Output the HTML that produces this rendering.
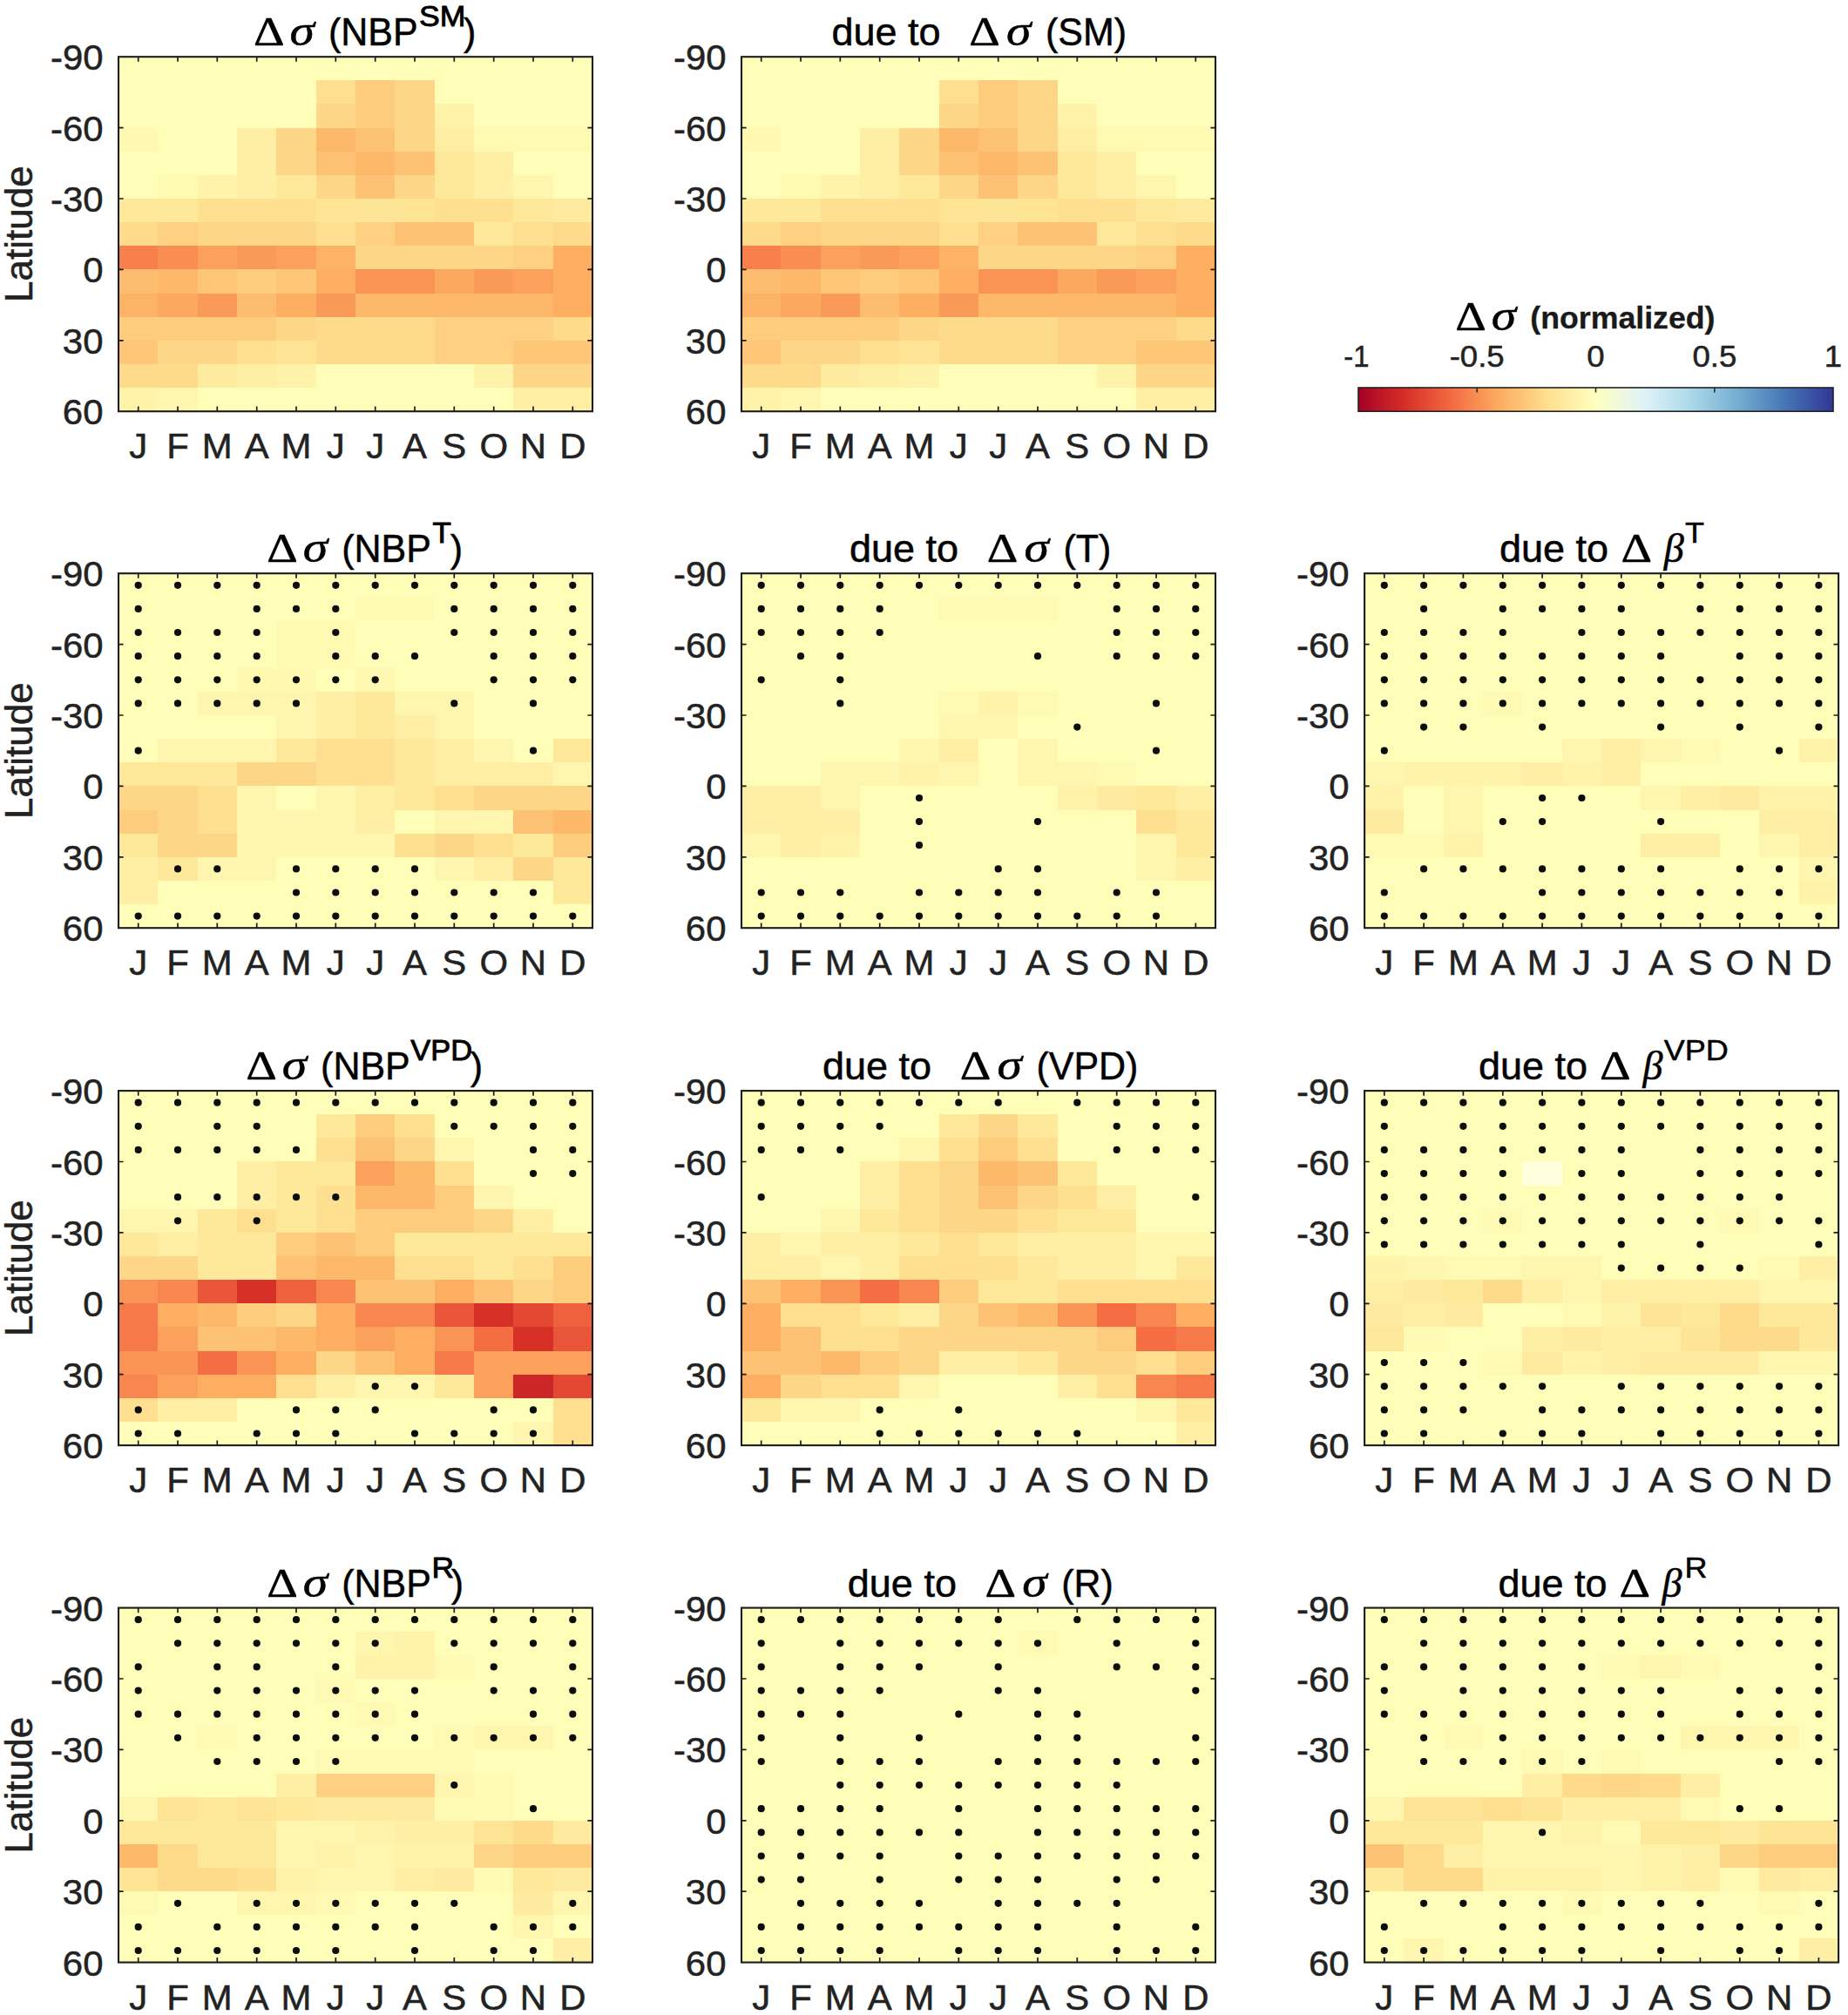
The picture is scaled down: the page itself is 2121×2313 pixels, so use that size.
<!DOCTYPE html>
<html lang="en"><head><meta charset="utf-8"><title>Figure</title>
<style>html,body{margin:0;padding:0;background:#fff}body{width:2121px;height:2313px;overflow:hidden}svg{display:block}</style>
</head><body>
<svg width="2121" height="2313" viewBox="0 0 2121 2313"><defs><linearGradient id="cb" x1="0" y1="0" x2="1" y2="0"><stop offset="0.0" stop-color="#a50026"/><stop offset="0.1" stop-color="#d73027"/><stop offset="0.2" stop-color="#f46d43"/><stop offset="0.3" stop-color="#fdae61"/><stop offset="0.4" stop-color="#fee090"/><stop offset="0.5" stop-color="#ffffbf"/><stop offset="0.6" stop-color="#e0f3f8"/><stop offset="0.7" stop-color="#abd9e9"/><stop offset="0.8" stop-color="#74add1"/><stop offset="0.9" stop-color="#4575b4"/><stop offset="1.0" stop-color="#313695"/></linearGradient></defs>
<g transform="translate(136.0 65.2)"><g shape-rendering="crispEdges"><rect x="0.00" y="0.00" width="544.60" height="27.73" fill="#fefeb8"/><rect x="0.00" y="27.13" width="227.27" height="27.73" fill="#fefeb8"/><rect x="226.67" y="27.13" width="45.93" height="27.73" fill="#fee090"/><rect x="272.00" y="27.13" width="45.93" height="27.73" fill="#fecc7d"/><rect x="317.33" y="27.13" width="45.93" height="27.73" fill="#fed687"/><rect x="362.67" y="27.13" width="181.93" height="27.73" fill="#fefeb8"/><rect x="0.00" y="54.27" width="227.27" height="27.73" fill="#fefeb8"/><rect x="226.67" y="54.27" width="45.93" height="27.73" fill="#fed687"/><rect x="272.00" y="54.27" width="45.93" height="27.73" fill="#fecc7d"/><rect x="317.33" y="54.27" width="45.93" height="27.73" fill="#fed687"/><rect x="362.67" y="54.27" width="45.93" height="27.73" fill="#fef3a9"/><rect x="408.00" y="54.27" width="136.60" height="27.73" fill="#fefeb8"/><rect x="0.00" y="81.40" width="45.93" height="27.73" fill="#fef8b0"/><rect x="45.33" y="81.40" width="91.27" height="27.73" fill="#fefeb8"/><rect x="136.00" y="81.40" width="45.93" height="27.73" fill="#feefa4"/><rect x="181.33" y="81.40" width="45.93" height="27.73" fill="#fed687"/><rect x="226.67" y="81.40" width="45.93" height="27.73" fill="#fdb86a"/><rect x="272.00" y="81.40" width="45.93" height="27.73" fill="#fdc274"/><rect x="317.33" y="81.40" width="45.93" height="27.73" fill="#fed687"/><rect x="362.67" y="81.40" width="45.93" height="27.73" fill="#feefa4"/><rect x="408.00" y="81.40" width="136.60" height="27.73" fill="#fefab2"/><rect x="0.00" y="108.53" width="136.60" height="27.73" fill="#fefeb8"/><rect x="136.00" y="108.53" width="45.93" height="27.73" fill="#feefa4"/><rect x="181.33" y="108.53" width="45.93" height="27.73" fill="#fed687"/><rect x="226.67" y="108.53" width="45.93" height="27.73" fill="#fdc274"/><rect x="272.00" y="108.53" width="45.93" height="27.73" fill="#fdb86a"/><rect x="317.33" y="108.53" width="45.93" height="27.73" fill="#fdc274"/><rect x="362.67" y="108.53" width="45.93" height="27.73" fill="#fee89a"/><rect x="408.00" y="108.53" width="45.93" height="27.73" fill="#feefa4"/><rect x="453.33" y="108.53" width="91.27" height="27.73" fill="#fefeb8"/><rect x="0.00" y="135.67" width="45.93" height="27.73" fill="#fefeb8"/><rect x="45.33" y="135.67" width="45.93" height="27.73" fill="#fefab2"/><rect x="90.67" y="135.67" width="45.93" height="27.73" fill="#fef3a9"/><rect x="136.00" y="135.67" width="45.93" height="27.73" fill="#feefa4"/><rect x="181.33" y="135.67" width="45.93" height="27.73" fill="#fee89a"/><rect x="226.67" y="135.67" width="45.93" height="27.73" fill="#fed687"/><rect x="272.00" y="135.67" width="45.93" height="27.73" fill="#fdc274"/><rect x="317.33" y="135.67" width="45.93" height="27.73" fill="#fed687"/><rect x="362.67" y="135.67" width="45.93" height="27.73" fill="#fee89a"/><rect x="408.00" y="135.67" width="45.93" height="27.73" fill="#feefa4"/><rect x="453.33" y="135.67" width="45.93" height="27.73" fill="#fef6ae"/><rect x="498.67" y="135.67" width="45.93" height="27.73" fill="#fefeb8"/><rect x="0.00" y="162.80" width="91.27" height="27.73" fill="#fee89a"/><rect x="90.67" y="162.80" width="136.60" height="27.73" fill="#fee090"/><rect x="226.67" y="162.80" width="136.60" height="27.73" fill="#fee495"/><rect x="362.67" y="162.80" width="91.27" height="27.73" fill="#fee090"/><rect x="453.33" y="162.80" width="45.93" height="27.73" fill="#fee89a"/><rect x="498.67" y="162.80" width="45.93" height="27.73" fill="#feeb9f"/><rect x="0.00" y="189.93" width="45.93" height="27.73" fill="#fedb8b"/><rect x="45.33" y="189.93" width="45.93" height="27.73" fill="#fed182"/><rect x="90.67" y="189.93" width="136.60" height="27.73" fill="#fed687"/><rect x="226.67" y="189.93" width="45.93" height="27.73" fill="#fee090"/><rect x="272.00" y="189.93" width="45.93" height="27.73" fill="#fed182"/><rect x="317.33" y="189.93" width="91.27" height="27.73" fill="#fdc274"/><rect x="408.00" y="189.93" width="45.93" height="27.73" fill="#fee89a"/><rect x="453.33" y="189.93" width="45.93" height="27.73" fill="#fee090"/><rect x="498.67" y="189.93" width="45.93" height="27.73" fill="#fedb8b"/><rect x="0.00" y="217.07" width="45.93" height="27.73" fill="#f7804c"/><rect x="45.33" y="217.07" width="45.93" height="27.73" fill="#f88e52"/><rect x="90.67" y="217.07" width="45.93" height="27.73" fill="#fba15b"/><rect x="136.00" y="217.07" width="45.93" height="27.73" fill="#fa9a58"/><rect x="181.33" y="217.07" width="45.93" height="27.73" fill="#fba15b"/><rect x="226.67" y="217.07" width="45.93" height="27.73" fill="#fdb366"/><rect x="272.00" y="217.07" width="181.93" height="27.73" fill="#fed687"/><rect x="453.33" y="217.07" width="45.93" height="27.73" fill="#fed182"/><rect x="498.67" y="217.07" width="45.93" height="27.73" fill="#fdae61"/><rect x="0.00" y="244.20" width="45.93" height="27.73" fill="#fdbd6f"/><rect x="45.33" y="244.20" width="45.93" height="27.73" fill="#fdb86a"/><rect x="90.67" y="244.20" width="45.93" height="27.73" fill="#fec778"/><rect x="136.00" y="244.20" width="45.93" height="27.73" fill="#fecc7d"/><rect x="181.33" y="244.20" width="45.93" height="27.73" fill="#fec778"/><rect x="226.67" y="244.20" width="45.93" height="27.73" fill="#fdae61"/><rect x="272.00" y="244.20" width="91.27" height="27.73" fill="#f99455"/><rect x="362.67" y="244.20" width="45.93" height="27.73" fill="#fca85e"/><rect x="408.00" y="244.20" width="45.93" height="27.73" fill="#fa9a58"/><rect x="453.33" y="244.20" width="45.93" height="27.73" fill="#fba15b"/><rect x="498.67" y="244.20" width="45.93" height="27.73" fill="#fdae61"/><rect x="0.00" y="271.33" width="45.93" height="27.73" fill="#fdb366"/><rect x="45.33" y="271.33" width="45.93" height="27.73" fill="#fca85e"/><rect x="90.67" y="271.33" width="45.93" height="27.73" fill="#fa9a58"/><rect x="136.00" y="271.33" width="45.93" height="27.73" fill="#fdbd6f"/><rect x="181.33" y="271.33" width="45.93" height="27.73" fill="#fdae61"/><rect x="226.67" y="271.33" width="45.93" height="27.73" fill="#fa9a58"/><rect x="272.00" y="271.33" width="227.27" height="27.73" fill="#fdb86a"/><rect x="498.67" y="271.33" width="45.93" height="27.73" fill="#fdae61"/><rect x="0.00" y="298.47" width="181.93" height="27.73" fill="#fecc7d"/><rect x="181.33" y="298.47" width="45.93" height="27.73" fill="#fed687"/><rect x="226.67" y="298.47" width="136.60" height="27.73" fill="#fedb8b"/><rect x="362.67" y="298.47" width="136.60" height="27.73" fill="#fed182"/><rect x="498.67" y="298.47" width="45.93" height="27.73" fill="#fedb8b"/><rect x="0.00" y="325.60" width="45.93" height="27.73" fill="#fec778"/><rect x="45.33" y="325.60" width="91.27" height="27.73" fill="#fed687"/><rect x="136.00" y="325.60" width="45.93" height="27.73" fill="#fee090"/><rect x="181.33" y="325.60" width="45.93" height="27.73" fill="#fee495"/><rect x="226.67" y="325.60" width="136.60" height="27.73" fill="#fedb8b"/><rect x="362.67" y="325.60" width="91.27" height="27.73" fill="#fed182"/><rect x="453.33" y="325.60" width="91.27" height="27.73" fill="#fec778"/><rect x="0.00" y="352.73" width="91.27" height="27.73" fill="#fedb8b"/><rect x="90.67" y="352.73" width="45.93" height="27.73" fill="#feeb9f"/><rect x="136.00" y="352.73" width="45.93" height="27.73" fill="#feefa4"/><rect x="181.33" y="352.73" width="45.93" height="27.73" fill="#fef3a9"/><rect x="226.67" y="352.73" width="181.93" height="27.73" fill="#fefeb8"/><rect x="408.00" y="352.73" width="45.93" height="27.73" fill="#fef3a9"/><rect x="453.33" y="352.73" width="91.27" height="27.73" fill="#fed687"/><rect x="0.00" y="379.87" width="45.93" height="27.73" fill="#fef3a9"/><rect x="45.33" y="379.87" width="45.93" height="27.73" fill="#fef6ae"/><rect x="90.67" y="379.87" width="363.27" height="27.73" fill="#fefeb8"/><rect x="453.33" y="379.87" width="91.27" height="27.73" fill="#feefa4"/></g><path d="M22.7 0v5.6M22.7 407.0v-5.6M68.0 0v5.6M68.0 407.0v-5.6M113.3 0v5.6M113.3 407.0v-5.6M158.7 0v5.6M158.7 407.0v-5.6M204.0 0v5.6M204.0 407.0v-5.6M249.3 0v5.6M249.3 407.0v-5.6M294.7 0v5.6M294.7 407.0v-5.6M340.0 0v5.6M340.0 407.0v-5.6M385.3 0v5.6M385.3 407.0v-5.6M430.7 0v5.6M430.7 407.0v-5.6M476.0 0v5.6M476.0 407.0v-5.6M521.3 0v5.6M521.3 407.0v-5.6M0 81.4h5.6M544.0 81.4h-5.6M0 162.8h5.6M544.0 162.8h-5.6M0 244.2h5.6M544.0 244.2h-5.6M0 325.6h5.6M544.0 325.6h-5.6" stroke="#1c1c1c" stroke-width="1.7" fill="none"/><rect x="0" y="0" width="544.0" height="407.0" fill="none" stroke="#1c1c1c" stroke-width="2.1"/></g>
<text transform="translate(118.5 80.2) scale(1.035 1)" font-family="Liberation Sans, Arial, Helvetica, sans-serif" font-size="40.5" text-anchor="end" fill="#222222" stroke="#222222" stroke-width="0.5">-90</text>
<text transform="translate(118.5 161.6) scale(1.035 1)" font-family="Liberation Sans, Arial, Helvetica, sans-serif" font-size="40.5" text-anchor="end" fill="#222222" stroke="#222222" stroke-width="0.5">-60</text>
<text transform="translate(118.5 243.0) scale(1.035 1)" font-family="Liberation Sans, Arial, Helvetica, sans-serif" font-size="40.5" text-anchor="end" fill="#222222" stroke="#222222" stroke-width="0.5">-30</text>
<text transform="translate(118.5 324.4) scale(1.035 1)" font-family="Liberation Sans, Arial, Helvetica, sans-serif" font-size="40.5" text-anchor="end" fill="#222222" stroke="#222222" stroke-width="0.5">0</text>
<text transform="translate(118.5 405.8) scale(1.035 1)" font-family="Liberation Sans, Arial, Helvetica, sans-serif" font-size="40.5" text-anchor="end" fill="#222222" stroke="#222222" stroke-width="0.5">30</text>
<text transform="translate(118.5 487.2) scale(1.035 1)" font-family="Liberation Sans, Arial, Helvetica, sans-serif" font-size="40.5" text-anchor="end" fill="#222222" stroke="#222222" stroke-width="0.5">60</text>
<text transform="translate(158.7 526.2) scale(1.035 1)" font-family="Liberation Sans, Arial, Helvetica, sans-serif" font-size="40.5" text-anchor="middle" fill="#222222" stroke="#222222" stroke-width="0.5">J</text>
<text transform="translate(204.0 526.2) scale(1.035 1)" font-family="Liberation Sans, Arial, Helvetica, sans-serif" font-size="40.5" text-anchor="middle" fill="#222222" stroke="#222222" stroke-width="0.5">F</text>
<text transform="translate(249.3 526.2) scale(1.035 1)" font-family="Liberation Sans, Arial, Helvetica, sans-serif" font-size="40.5" text-anchor="middle" fill="#222222" stroke="#222222" stroke-width="0.5">M</text>
<text transform="translate(294.7 526.2) scale(1.035 1)" font-family="Liberation Sans, Arial, Helvetica, sans-serif" font-size="40.5" text-anchor="middle" fill="#222222" stroke="#222222" stroke-width="0.5">A</text>
<text transform="translate(340.0 526.2) scale(1.035 1)" font-family="Liberation Sans, Arial, Helvetica, sans-serif" font-size="40.5" text-anchor="middle" fill="#222222" stroke="#222222" stroke-width="0.5">M</text>
<text transform="translate(385.3 526.2) scale(1.035 1)" font-family="Liberation Sans, Arial, Helvetica, sans-serif" font-size="40.5" text-anchor="middle" fill="#222222" stroke="#222222" stroke-width="0.5">J</text>
<text transform="translate(430.7 526.2) scale(1.035 1)" font-family="Liberation Sans, Arial, Helvetica, sans-serif" font-size="40.5" text-anchor="middle" fill="#222222" stroke="#222222" stroke-width="0.5">J</text>
<text transform="translate(476.0 526.2) scale(1.035 1)" font-family="Liberation Sans, Arial, Helvetica, sans-serif" font-size="40.5" text-anchor="middle" fill="#222222" stroke="#222222" stroke-width="0.5">A</text>
<text transform="translate(521.3 526.2) scale(1.035 1)" font-family="Liberation Sans, Arial, Helvetica, sans-serif" font-size="40.5" text-anchor="middle" fill="#222222" stroke="#222222" stroke-width="0.5">S</text>
<text transform="translate(566.7 526.2) scale(1.035 1)" font-family="Liberation Sans, Arial, Helvetica, sans-serif" font-size="40.5" text-anchor="middle" fill="#222222" stroke="#222222" stroke-width="0.5">O</text>
<text transform="translate(612.0 526.2) scale(1.035 1)" font-family="Liberation Sans, Arial, Helvetica, sans-serif" font-size="40.5" text-anchor="middle" fill="#222222" stroke="#222222" stroke-width="0.5">N</text>
<text transform="translate(657.3 526.2) scale(1.035 1)" font-family="Liberation Sans, Arial, Helvetica, sans-serif" font-size="40.5" text-anchor="middle" fill="#222222" stroke="#222222" stroke-width="0.5">D</text>
<text transform="translate(36.6 268.7) rotate(-90) scale(1.012 1)" font-family="Liberation Sans, Arial, Helvetica, sans-serif" font-size="43.5" text-anchor="middle" fill="#222222" stroke="#222222" stroke-width="0.5">Latitude</text>
<g transform="translate(851.0 65.2)"><g shape-rendering="crispEdges"><rect x="0.00" y="0.00" width="544.60" height="27.73" fill="#fefeb8"/><rect x="0.00" y="27.13" width="227.27" height="27.73" fill="#fefeb8"/><rect x="226.67" y="27.13" width="45.93" height="27.73" fill="#fee090"/><rect x="272.00" y="27.13" width="45.93" height="27.73" fill="#fecc7d"/><rect x="317.33" y="27.13" width="45.93" height="27.73" fill="#fed687"/><rect x="362.67" y="27.13" width="181.93" height="27.73" fill="#fefeb8"/><rect x="0.00" y="54.27" width="227.27" height="27.73" fill="#fefeb8"/><rect x="226.67" y="54.27" width="45.93" height="27.73" fill="#fed687"/><rect x="272.00" y="54.27" width="45.93" height="27.73" fill="#fecc7d"/><rect x="317.33" y="54.27" width="45.93" height="27.73" fill="#fed687"/><rect x="362.67" y="54.27" width="45.93" height="27.73" fill="#fef3a9"/><rect x="408.00" y="54.27" width="136.60" height="27.73" fill="#fefeb8"/><rect x="0.00" y="81.40" width="45.93" height="27.73" fill="#fef8b0"/><rect x="45.33" y="81.40" width="91.27" height="27.73" fill="#fefeb8"/><rect x="136.00" y="81.40" width="45.93" height="27.73" fill="#feefa4"/><rect x="181.33" y="81.40" width="45.93" height="27.73" fill="#fed687"/><rect x="226.67" y="81.40" width="45.93" height="27.73" fill="#fdb86a"/><rect x="272.00" y="81.40" width="45.93" height="27.73" fill="#fdc274"/><rect x="317.33" y="81.40" width="45.93" height="27.73" fill="#fed687"/><rect x="362.67" y="81.40" width="45.93" height="27.73" fill="#feefa4"/><rect x="408.00" y="81.40" width="136.60" height="27.73" fill="#fefab2"/><rect x="0.00" y="108.53" width="136.60" height="27.73" fill="#fefeb8"/><rect x="136.00" y="108.53" width="45.93" height="27.73" fill="#feefa4"/><rect x="181.33" y="108.53" width="45.93" height="27.73" fill="#fed687"/><rect x="226.67" y="108.53" width="45.93" height="27.73" fill="#fdc274"/><rect x="272.00" y="108.53" width="45.93" height="27.73" fill="#fdb86a"/><rect x="317.33" y="108.53" width="45.93" height="27.73" fill="#fdc274"/><rect x="362.67" y="108.53" width="45.93" height="27.73" fill="#fee89a"/><rect x="408.00" y="108.53" width="45.93" height="27.73" fill="#feefa4"/><rect x="453.33" y="108.53" width="91.27" height="27.73" fill="#fefeb8"/><rect x="0.00" y="135.67" width="45.93" height="27.73" fill="#fefeb8"/><rect x="45.33" y="135.67" width="45.93" height="27.73" fill="#fefab2"/><rect x="90.67" y="135.67" width="45.93" height="27.73" fill="#fef3a9"/><rect x="136.00" y="135.67" width="45.93" height="27.73" fill="#feefa4"/><rect x="181.33" y="135.67" width="45.93" height="27.73" fill="#fee89a"/><rect x="226.67" y="135.67" width="45.93" height="27.73" fill="#fed687"/><rect x="272.00" y="135.67" width="45.93" height="27.73" fill="#fdc274"/><rect x="317.33" y="135.67" width="45.93" height="27.73" fill="#fed687"/><rect x="362.67" y="135.67" width="45.93" height="27.73" fill="#fee89a"/><rect x="408.00" y="135.67" width="45.93" height="27.73" fill="#feefa4"/><rect x="453.33" y="135.67" width="45.93" height="27.73" fill="#fef6ae"/><rect x="498.67" y="135.67" width="45.93" height="27.73" fill="#fefeb8"/><rect x="0.00" y="162.80" width="91.27" height="27.73" fill="#fee89a"/><rect x="90.67" y="162.80" width="136.60" height="27.73" fill="#fee090"/><rect x="226.67" y="162.80" width="136.60" height="27.73" fill="#fee495"/><rect x="362.67" y="162.80" width="91.27" height="27.73" fill="#fee090"/><rect x="453.33" y="162.80" width="45.93" height="27.73" fill="#fee89a"/><rect x="498.67" y="162.80" width="45.93" height="27.73" fill="#feeb9f"/><rect x="0.00" y="189.93" width="45.93" height="27.73" fill="#fedb8b"/><rect x="45.33" y="189.93" width="45.93" height="27.73" fill="#fed182"/><rect x="90.67" y="189.93" width="136.60" height="27.73" fill="#fed687"/><rect x="226.67" y="189.93" width="45.93" height="27.73" fill="#fee090"/><rect x="272.00" y="189.93" width="45.93" height="27.73" fill="#fed182"/><rect x="317.33" y="189.93" width="91.27" height="27.73" fill="#fdc274"/><rect x="408.00" y="189.93" width="45.93" height="27.73" fill="#fee89a"/><rect x="453.33" y="189.93" width="45.93" height="27.73" fill="#fee090"/><rect x="498.67" y="189.93" width="45.93" height="27.73" fill="#fedb8b"/><rect x="0.00" y="217.07" width="45.93" height="27.73" fill="#f7804c"/><rect x="45.33" y="217.07" width="45.93" height="27.73" fill="#f88e52"/><rect x="90.67" y="217.07" width="45.93" height="27.73" fill="#fba15b"/><rect x="136.00" y="217.07" width="45.93" height="27.73" fill="#fa9a58"/><rect x="181.33" y="217.07" width="45.93" height="27.73" fill="#fba15b"/><rect x="226.67" y="217.07" width="45.93" height="27.73" fill="#fdb366"/><rect x="272.00" y="217.07" width="181.93" height="27.73" fill="#fed687"/><rect x="453.33" y="217.07" width="45.93" height="27.73" fill="#fed182"/><rect x="498.67" y="217.07" width="45.93" height="27.73" fill="#fdae61"/><rect x="0.00" y="244.20" width="45.93" height="27.73" fill="#fdbd6f"/><rect x="45.33" y="244.20" width="45.93" height="27.73" fill="#fdb86a"/><rect x="90.67" y="244.20" width="45.93" height="27.73" fill="#fec778"/><rect x="136.00" y="244.20" width="45.93" height="27.73" fill="#fecc7d"/><rect x="181.33" y="244.20" width="45.93" height="27.73" fill="#fec778"/><rect x="226.67" y="244.20" width="45.93" height="27.73" fill="#fdae61"/><rect x="272.00" y="244.20" width="91.27" height="27.73" fill="#f99455"/><rect x="362.67" y="244.20" width="45.93" height="27.73" fill="#fca85e"/><rect x="408.00" y="244.20" width="45.93" height="27.73" fill="#fa9a58"/><rect x="453.33" y="244.20" width="45.93" height="27.73" fill="#fba15b"/><rect x="498.67" y="244.20" width="45.93" height="27.73" fill="#fdae61"/><rect x="0.00" y="271.33" width="45.93" height="27.73" fill="#fdb366"/><rect x="45.33" y="271.33" width="45.93" height="27.73" fill="#fca85e"/><rect x="90.67" y="271.33" width="45.93" height="27.73" fill="#fa9a58"/><rect x="136.00" y="271.33" width="45.93" height="27.73" fill="#fdbd6f"/><rect x="181.33" y="271.33" width="45.93" height="27.73" fill="#fdae61"/><rect x="226.67" y="271.33" width="45.93" height="27.73" fill="#fa9a58"/><rect x="272.00" y="271.33" width="227.27" height="27.73" fill="#fdb86a"/><rect x="498.67" y="271.33" width="45.93" height="27.73" fill="#fdae61"/><rect x="0.00" y="298.47" width="181.93" height="27.73" fill="#fecc7d"/><rect x="181.33" y="298.47" width="45.93" height="27.73" fill="#fed687"/><rect x="226.67" y="298.47" width="136.60" height="27.73" fill="#fedb8b"/><rect x="362.67" y="298.47" width="136.60" height="27.73" fill="#fed182"/><rect x="498.67" y="298.47" width="45.93" height="27.73" fill="#fedb8b"/><rect x="0.00" y="325.60" width="45.93" height="27.73" fill="#fec778"/><rect x="45.33" y="325.60" width="91.27" height="27.73" fill="#fed687"/><rect x="136.00" y="325.60" width="45.93" height="27.73" fill="#fee090"/><rect x="181.33" y="325.60" width="45.93" height="27.73" fill="#fee495"/><rect x="226.67" y="325.60" width="136.60" height="27.73" fill="#fedb8b"/><rect x="362.67" y="325.60" width="91.27" height="27.73" fill="#fed182"/><rect x="453.33" y="325.60" width="91.27" height="27.73" fill="#fec778"/><rect x="0.00" y="352.73" width="91.27" height="27.73" fill="#fedb8b"/><rect x="90.67" y="352.73" width="45.93" height="27.73" fill="#feeb9f"/><rect x="136.00" y="352.73" width="45.93" height="27.73" fill="#feefa4"/><rect x="181.33" y="352.73" width="45.93" height="27.73" fill="#fef3a9"/><rect x="226.67" y="352.73" width="181.93" height="27.73" fill="#fefeb8"/><rect x="408.00" y="352.73" width="45.93" height="27.73" fill="#fef3a9"/><rect x="453.33" y="352.73" width="91.27" height="27.73" fill="#fed687"/><rect x="0.00" y="379.87" width="45.93" height="27.73" fill="#fef3a9"/><rect x="45.33" y="379.87" width="45.93" height="27.73" fill="#fef6ae"/><rect x="90.67" y="379.87" width="363.27" height="27.73" fill="#fefeb8"/><rect x="453.33" y="379.87" width="91.27" height="27.73" fill="#feefa4"/></g><path d="M22.7 0v5.6M22.7 407.0v-5.6M68.0 0v5.6M68.0 407.0v-5.6M113.3 0v5.6M113.3 407.0v-5.6M158.7 0v5.6M158.7 407.0v-5.6M204.0 0v5.6M204.0 407.0v-5.6M249.3 0v5.6M249.3 407.0v-5.6M294.7 0v5.6M294.7 407.0v-5.6M340.0 0v5.6M340.0 407.0v-5.6M385.3 0v5.6M385.3 407.0v-5.6M430.7 0v5.6M430.7 407.0v-5.6M476.0 0v5.6M476.0 407.0v-5.6M521.3 0v5.6M521.3 407.0v-5.6M0 81.4h5.6M544.0 81.4h-5.6M0 162.8h5.6M544.0 162.8h-5.6M0 244.2h5.6M544.0 244.2h-5.6M0 325.6h5.6M544.0 325.6h-5.6" stroke="#1c1c1c" stroke-width="1.7" fill="none"/><rect x="0" y="0" width="544.0" height="407.0" fill="none" stroke="#1c1c1c" stroke-width="2.1"/></g>
<text transform="translate(833.5 80.2) scale(1.035 1)" font-family="Liberation Sans, Arial, Helvetica, sans-serif" font-size="40.5" text-anchor="end" fill="#222222" stroke="#222222" stroke-width="0.5">-90</text>
<text transform="translate(833.5 161.6) scale(1.035 1)" font-family="Liberation Sans, Arial, Helvetica, sans-serif" font-size="40.5" text-anchor="end" fill="#222222" stroke="#222222" stroke-width="0.5">-60</text>
<text transform="translate(833.5 243.0) scale(1.035 1)" font-family="Liberation Sans, Arial, Helvetica, sans-serif" font-size="40.5" text-anchor="end" fill="#222222" stroke="#222222" stroke-width="0.5">-30</text>
<text transform="translate(833.5 324.4) scale(1.035 1)" font-family="Liberation Sans, Arial, Helvetica, sans-serif" font-size="40.5" text-anchor="end" fill="#222222" stroke="#222222" stroke-width="0.5">0</text>
<text transform="translate(833.5 405.8) scale(1.035 1)" font-family="Liberation Sans, Arial, Helvetica, sans-serif" font-size="40.5" text-anchor="end" fill="#222222" stroke="#222222" stroke-width="0.5">30</text>
<text transform="translate(833.5 487.2) scale(1.035 1)" font-family="Liberation Sans, Arial, Helvetica, sans-serif" font-size="40.5" text-anchor="end" fill="#222222" stroke="#222222" stroke-width="0.5">60</text>
<text transform="translate(873.7 526.2) scale(1.035 1)" font-family="Liberation Sans, Arial, Helvetica, sans-serif" font-size="40.5" text-anchor="middle" fill="#222222" stroke="#222222" stroke-width="0.5">J</text>
<text transform="translate(919.0 526.2) scale(1.035 1)" font-family="Liberation Sans, Arial, Helvetica, sans-serif" font-size="40.5" text-anchor="middle" fill="#222222" stroke="#222222" stroke-width="0.5">F</text>
<text transform="translate(964.3 526.2) scale(1.035 1)" font-family="Liberation Sans, Arial, Helvetica, sans-serif" font-size="40.5" text-anchor="middle" fill="#222222" stroke="#222222" stroke-width="0.5">M</text>
<text transform="translate(1009.7 526.2) scale(1.035 1)" font-family="Liberation Sans, Arial, Helvetica, sans-serif" font-size="40.5" text-anchor="middle" fill="#222222" stroke="#222222" stroke-width="0.5">A</text>
<text transform="translate(1055.0 526.2) scale(1.035 1)" font-family="Liberation Sans, Arial, Helvetica, sans-serif" font-size="40.5" text-anchor="middle" fill="#222222" stroke="#222222" stroke-width="0.5">M</text>
<text transform="translate(1100.3 526.2) scale(1.035 1)" font-family="Liberation Sans, Arial, Helvetica, sans-serif" font-size="40.5" text-anchor="middle" fill="#222222" stroke="#222222" stroke-width="0.5">J</text>
<text transform="translate(1145.7 526.2) scale(1.035 1)" font-family="Liberation Sans, Arial, Helvetica, sans-serif" font-size="40.5" text-anchor="middle" fill="#222222" stroke="#222222" stroke-width="0.5">J</text>
<text transform="translate(1191.0 526.2) scale(1.035 1)" font-family="Liberation Sans, Arial, Helvetica, sans-serif" font-size="40.5" text-anchor="middle" fill="#222222" stroke="#222222" stroke-width="0.5">A</text>
<text transform="translate(1236.3 526.2) scale(1.035 1)" font-family="Liberation Sans, Arial, Helvetica, sans-serif" font-size="40.5" text-anchor="middle" fill="#222222" stroke="#222222" stroke-width="0.5">S</text>
<text transform="translate(1281.7 526.2) scale(1.035 1)" font-family="Liberation Sans, Arial, Helvetica, sans-serif" font-size="40.5" text-anchor="middle" fill="#222222" stroke="#222222" stroke-width="0.5">O</text>
<text transform="translate(1327.0 526.2) scale(1.035 1)" font-family="Liberation Sans, Arial, Helvetica, sans-serif" font-size="40.5" text-anchor="middle" fill="#222222" stroke="#222222" stroke-width="0.5">N</text>
<text transform="translate(1372.3 526.2) scale(1.035 1)" font-family="Liberation Sans, Arial, Helvetica, sans-serif" font-size="40.5" text-anchor="middle" fill="#222222" stroke="#222222" stroke-width="0.5">D</text>
<g transform="translate(136.0 658.2)"><g shape-rendering="crispEdges"><rect x="0.00" y="0.00" width="544.60" height="27.73" fill="#fefeb8"/><rect x="0.00" y="27.13" width="272.60" height="27.73" fill="#fefeb8"/><rect x="272.00" y="27.13" width="91.27" height="27.73" fill="#fefab2"/><rect x="362.67" y="27.13" width="181.93" height="27.73" fill="#fefeb8"/><rect x="0.00" y="54.27" width="181.93" height="27.73" fill="#fefeb8"/><rect x="181.33" y="54.27" width="91.27" height="27.73" fill="#fefab2"/><rect x="272.00" y="54.27" width="272.60" height="27.73" fill="#fefeb8"/><rect x="0.00" y="81.40" width="181.93" height="27.73" fill="#fefeb8"/><rect x="181.33" y="81.40" width="91.27" height="27.73" fill="#fefab2"/><rect x="272.00" y="81.40" width="272.60" height="27.73" fill="#fefeb8"/><rect x="0.00" y="108.53" width="136.60" height="27.73" fill="#fefeb8"/><rect x="136.00" y="108.53" width="91.27" height="27.73" fill="#fef8b0"/><rect x="226.67" y="108.53" width="45.93" height="27.73" fill="#fefeb8"/><rect x="272.00" y="108.53" width="45.93" height="27.73" fill="#fef8b0"/><rect x="317.33" y="108.53" width="227.27" height="27.73" fill="#fefeb8"/><rect x="0.00" y="135.67" width="91.27" height="27.73" fill="#fefeb8"/><rect x="90.67" y="135.67" width="136.60" height="27.73" fill="#fef6ae"/><rect x="226.67" y="135.67" width="45.93" height="27.73" fill="#feefa4"/><rect x="272.00" y="135.67" width="45.93" height="27.73" fill="#fee89a"/><rect x="317.33" y="135.67" width="91.27" height="27.73" fill="#fef6ae"/><rect x="408.00" y="135.67" width="136.60" height="27.73" fill="#fefeb8"/><rect x="0.00" y="162.80" width="181.93" height="27.73" fill="#fefeb8"/><rect x="181.33" y="162.80" width="45.93" height="27.73" fill="#fef6ae"/><rect x="226.67" y="162.80" width="45.93" height="27.73" fill="#feefa4"/><rect x="272.00" y="162.80" width="45.93" height="27.73" fill="#fee89a"/><rect x="317.33" y="162.80" width="45.93" height="27.73" fill="#feefa4"/><rect x="362.67" y="162.80" width="45.93" height="27.73" fill="#fef6ae"/><rect x="408.00" y="162.80" width="136.60" height="27.73" fill="#fefeb8"/><rect x="0.00" y="189.93" width="45.93" height="27.73" fill="#fefeb8"/><rect x="45.33" y="189.93" width="136.60" height="27.73" fill="#fef6ae"/><rect x="181.33" y="189.93" width="45.93" height="27.73" fill="#fee89a"/><rect x="226.67" y="189.93" width="91.27" height="27.73" fill="#fee090"/><rect x="317.33" y="189.93" width="45.93" height="27.73" fill="#fee89a"/><rect x="362.67" y="189.93" width="45.93" height="27.73" fill="#feefa4"/><rect x="408.00" y="189.93" width="45.93" height="27.73" fill="#fef6ae"/><rect x="453.33" y="189.93" width="45.93" height="27.73" fill="#fefeb8"/><rect x="498.67" y="189.93" width="45.93" height="27.73" fill="#fee89a"/><rect x="0.00" y="217.07" width="136.60" height="27.73" fill="#fee89a"/><rect x="136.00" y="217.07" width="91.27" height="27.73" fill="#fed687"/><rect x="226.67" y="217.07" width="91.27" height="27.73" fill="#fee090"/><rect x="317.33" y="217.07" width="45.93" height="27.73" fill="#fee89a"/><rect x="362.67" y="217.07" width="136.60" height="27.73" fill="#feefa4"/><rect x="498.67" y="217.07" width="45.93" height="27.73" fill="#fef6ae"/><rect x="0.00" y="244.20" width="91.27" height="27.73" fill="#fed687"/><rect x="90.67" y="244.20" width="45.93" height="27.73" fill="#fee090"/><rect x="136.00" y="244.20" width="45.93" height="27.73" fill="#fef6ae"/><rect x="181.33" y="244.20" width="45.93" height="27.73" fill="#fefeb8"/><rect x="226.67" y="244.20" width="45.93" height="27.73" fill="#fef6ae"/><rect x="272.00" y="244.20" width="45.93" height="27.73" fill="#feefa4"/><rect x="317.33" y="244.20" width="45.93" height="27.73" fill="#fee89a"/><rect x="362.67" y="244.20" width="45.93" height="27.73" fill="#fee090"/><rect x="408.00" y="244.20" width="136.60" height="27.73" fill="#fed687"/><rect x="0.00" y="271.33" width="45.93" height="27.73" fill="#fecc7d"/><rect x="45.33" y="271.33" width="45.93" height="27.73" fill="#fed687"/><rect x="90.67" y="271.33" width="45.93" height="27.73" fill="#fee090"/><rect x="136.00" y="271.33" width="136.60" height="27.73" fill="#fef6ae"/><rect x="272.00" y="271.33" width="45.93" height="27.73" fill="#feefa4"/><rect x="317.33" y="271.33" width="45.93" height="27.73" fill="#fefeb8"/><rect x="362.67" y="271.33" width="91.27" height="27.73" fill="#fef6ae"/><rect x="453.33" y="271.33" width="45.93" height="27.73" fill="#fdc274"/><rect x="498.67" y="271.33" width="45.93" height="27.73" fill="#fdb86a"/><rect x="0.00" y="298.47" width="45.93" height="27.73" fill="#fee89a"/><rect x="45.33" y="298.47" width="91.27" height="27.73" fill="#fed687"/><rect x="136.00" y="298.47" width="181.93" height="27.73" fill="#fef6ae"/><rect x="317.33" y="298.47" width="45.93" height="27.73" fill="#fee090"/><rect x="362.67" y="298.47" width="45.93" height="27.73" fill="#fed687"/><rect x="408.00" y="298.47" width="45.93" height="27.73" fill="#fee090"/><rect x="453.33" y="298.47" width="45.93" height="27.73" fill="#fee89a"/><rect x="498.67" y="298.47" width="45.93" height="27.73" fill="#fecc7d"/><rect x="0.00" y="325.60" width="45.93" height="27.73" fill="#feefa4"/><rect x="45.33" y="325.60" width="45.93" height="27.73" fill="#fee89a"/><rect x="90.67" y="325.60" width="91.27" height="27.73" fill="#fef6ae"/><rect x="181.33" y="325.60" width="181.93" height="27.73" fill="#fefeb8"/><rect x="362.67" y="325.60" width="45.93" height="27.73" fill="#fef6ae"/><rect x="408.00" y="325.60" width="45.93" height="27.73" fill="#feefa4"/><rect x="453.33" y="325.60" width="45.93" height="27.73" fill="#fed687"/><rect x="498.67" y="325.60" width="45.93" height="27.73" fill="#fee89a"/><rect x="0.00" y="352.73" width="45.93" height="27.73" fill="#feefa4"/><rect x="45.33" y="352.73" width="453.93" height="27.73" fill="#fefeb8"/><rect x="498.67" y="352.73" width="45.93" height="27.73" fill="#fee89a"/><rect x="0.00" y="379.87" width="544.60" height="27.73" fill="#fefeb8"/></g><g fill="#0d0d0d"><circle cx="22.7" cy="13.6" r="4.1"/><circle cx="68.0" cy="13.6" r="4.1"/><circle cx="113.3" cy="13.6" r="4.1"/><circle cx="158.7" cy="13.6" r="4.1"/><circle cx="204.0" cy="13.6" r="4.1"/><circle cx="249.3" cy="13.6" r="4.1"/><circle cx="294.7" cy="13.6" r="4.1"/><circle cx="340.0" cy="13.6" r="4.1"/><circle cx="385.3" cy="13.6" r="4.1"/><circle cx="430.7" cy="13.6" r="4.1"/><circle cx="476.0" cy="13.6" r="4.1"/><circle cx="521.3" cy="13.6" r="4.1"/><circle cx="22.7" cy="40.7" r="4.1"/><circle cx="158.7" cy="40.7" r="4.1"/><circle cx="204.0" cy="40.7" r="4.1"/><circle cx="249.3" cy="40.7" r="4.1"/><circle cx="385.3" cy="40.7" r="4.1"/><circle cx="430.7" cy="40.7" r="4.1"/><circle cx="476.0" cy="40.7" r="4.1"/><circle cx="521.3" cy="40.7" r="4.1"/><circle cx="22.7" cy="67.8" r="4.1"/><circle cx="68.0" cy="67.8" r="4.1"/><circle cx="113.3" cy="67.8" r="4.1"/><circle cx="158.7" cy="67.8" r="4.1"/><circle cx="249.3" cy="67.8" r="4.1"/><circle cx="385.3" cy="67.8" r="4.1"/><circle cx="430.7" cy="67.8" r="4.1"/><circle cx="476.0" cy="67.8" r="4.1"/><circle cx="521.3" cy="67.8" r="4.1"/><circle cx="22.7" cy="95.0" r="4.1"/><circle cx="68.0" cy="95.0" r="4.1"/><circle cx="113.3" cy="95.0" r="4.1"/><circle cx="158.7" cy="95.0" r="4.1"/><circle cx="249.3" cy="95.0" r="4.1"/><circle cx="294.7" cy="95.0" r="4.1"/><circle cx="340.0" cy="95.0" r="4.1"/><circle cx="430.7" cy="95.0" r="4.1"/><circle cx="476.0" cy="95.0" r="4.1"/><circle cx="521.3" cy="95.0" r="4.1"/><circle cx="22.7" cy="122.1" r="4.1"/><circle cx="68.0" cy="122.1" r="4.1"/><circle cx="113.3" cy="122.1" r="4.1"/><circle cx="158.7" cy="122.1" r="4.1"/><circle cx="204.0" cy="122.1" r="4.1"/><circle cx="249.3" cy="122.1" r="4.1"/><circle cx="294.7" cy="122.1" r="4.1"/><circle cx="430.7" cy="122.1" r="4.1"/><circle cx="476.0" cy="122.1" r="4.1"/><circle cx="521.3" cy="122.1" r="4.1"/><circle cx="22.7" cy="149.2" r="4.1"/><circle cx="68.0" cy="149.2" r="4.1"/><circle cx="113.3" cy="149.2" r="4.1"/><circle cx="158.7" cy="149.2" r="4.1"/><circle cx="204.0" cy="149.2" r="4.1"/><circle cx="385.3" cy="149.2" r="4.1"/><circle cx="476.0" cy="149.2" r="4.1"/><circle cx="22.7" cy="203.5" r="4.1"/><circle cx="476.0" cy="203.5" r="4.1"/><circle cx="68.0" cy="339.2" r="4.1"/><circle cx="113.3" cy="339.2" r="4.1"/><circle cx="204.0" cy="339.2" r="4.1"/><circle cx="249.3" cy="339.2" r="4.1"/><circle cx="294.7" cy="339.2" r="4.1"/><circle cx="340.0" cy="339.2" r="4.1"/><circle cx="204.0" cy="366.3" r="4.1"/><circle cx="249.3" cy="366.3" r="4.1"/><circle cx="294.7" cy="366.3" r="4.1"/><circle cx="340.0" cy="366.3" r="4.1"/><circle cx="385.3" cy="366.3" r="4.1"/><circle cx="430.7" cy="366.3" r="4.1"/><circle cx="476.0" cy="366.3" r="4.1"/><circle cx="22.7" cy="393.4" r="4.1"/><circle cx="68.0" cy="393.4" r="4.1"/><circle cx="113.3" cy="393.4" r="4.1"/><circle cx="158.7" cy="393.4" r="4.1"/><circle cx="204.0" cy="393.4" r="4.1"/><circle cx="249.3" cy="393.4" r="4.1"/><circle cx="294.7" cy="393.4" r="4.1"/><circle cx="340.0" cy="393.4" r="4.1"/><circle cx="385.3" cy="393.4" r="4.1"/><circle cx="430.7" cy="393.4" r="4.1"/><circle cx="476.0" cy="393.4" r="4.1"/><circle cx="521.3" cy="393.4" r="4.1"/></g><path d="M22.7 0v5.6M22.7 407.0v-5.6M68.0 0v5.6M68.0 407.0v-5.6M113.3 0v5.6M113.3 407.0v-5.6M158.7 0v5.6M158.7 407.0v-5.6M204.0 0v5.6M204.0 407.0v-5.6M249.3 0v5.6M249.3 407.0v-5.6M294.7 0v5.6M294.7 407.0v-5.6M340.0 0v5.6M340.0 407.0v-5.6M385.3 0v5.6M385.3 407.0v-5.6M430.7 0v5.6M430.7 407.0v-5.6M476.0 0v5.6M476.0 407.0v-5.6M521.3 0v5.6M521.3 407.0v-5.6M0 81.4h5.6M544.0 81.4h-5.6M0 162.8h5.6M544.0 162.8h-5.6M0 244.2h5.6M544.0 244.2h-5.6M0 325.6h5.6M544.0 325.6h-5.6" stroke="#1c1c1c" stroke-width="1.7" fill="none"/><rect x="0" y="0" width="544.0" height="407.0" fill="none" stroke="#1c1c1c" stroke-width="2.1"/></g>
<text transform="translate(118.5 673.2) scale(1.035 1)" font-family="Liberation Sans, Arial, Helvetica, sans-serif" font-size="40.5" text-anchor="end" fill="#222222" stroke="#222222" stroke-width="0.5">-90</text>
<text transform="translate(118.5 754.6) scale(1.035 1)" font-family="Liberation Sans, Arial, Helvetica, sans-serif" font-size="40.5" text-anchor="end" fill="#222222" stroke="#222222" stroke-width="0.5">-60</text>
<text transform="translate(118.5 836.0) scale(1.035 1)" font-family="Liberation Sans, Arial, Helvetica, sans-serif" font-size="40.5" text-anchor="end" fill="#222222" stroke="#222222" stroke-width="0.5">-30</text>
<text transform="translate(118.5 917.4) scale(1.035 1)" font-family="Liberation Sans, Arial, Helvetica, sans-serif" font-size="40.5" text-anchor="end" fill="#222222" stroke="#222222" stroke-width="0.5">0</text>
<text transform="translate(118.5 998.8) scale(1.035 1)" font-family="Liberation Sans, Arial, Helvetica, sans-serif" font-size="40.5" text-anchor="end" fill="#222222" stroke="#222222" stroke-width="0.5">30</text>
<text transform="translate(118.5 1080.2) scale(1.035 1)" font-family="Liberation Sans, Arial, Helvetica, sans-serif" font-size="40.5" text-anchor="end" fill="#222222" stroke="#222222" stroke-width="0.5">60</text>
<text transform="translate(158.7 1119.2) scale(1.035 1)" font-family="Liberation Sans, Arial, Helvetica, sans-serif" font-size="40.5" text-anchor="middle" fill="#222222" stroke="#222222" stroke-width="0.5">J</text>
<text transform="translate(204.0 1119.2) scale(1.035 1)" font-family="Liberation Sans, Arial, Helvetica, sans-serif" font-size="40.5" text-anchor="middle" fill="#222222" stroke="#222222" stroke-width="0.5">F</text>
<text transform="translate(249.3 1119.2) scale(1.035 1)" font-family="Liberation Sans, Arial, Helvetica, sans-serif" font-size="40.5" text-anchor="middle" fill="#222222" stroke="#222222" stroke-width="0.5">M</text>
<text transform="translate(294.7 1119.2) scale(1.035 1)" font-family="Liberation Sans, Arial, Helvetica, sans-serif" font-size="40.5" text-anchor="middle" fill="#222222" stroke="#222222" stroke-width="0.5">A</text>
<text transform="translate(340.0 1119.2) scale(1.035 1)" font-family="Liberation Sans, Arial, Helvetica, sans-serif" font-size="40.5" text-anchor="middle" fill="#222222" stroke="#222222" stroke-width="0.5">M</text>
<text transform="translate(385.3 1119.2) scale(1.035 1)" font-family="Liberation Sans, Arial, Helvetica, sans-serif" font-size="40.5" text-anchor="middle" fill="#222222" stroke="#222222" stroke-width="0.5">J</text>
<text transform="translate(430.7 1119.2) scale(1.035 1)" font-family="Liberation Sans, Arial, Helvetica, sans-serif" font-size="40.5" text-anchor="middle" fill="#222222" stroke="#222222" stroke-width="0.5">J</text>
<text transform="translate(476.0 1119.2) scale(1.035 1)" font-family="Liberation Sans, Arial, Helvetica, sans-serif" font-size="40.5" text-anchor="middle" fill="#222222" stroke="#222222" stroke-width="0.5">A</text>
<text transform="translate(521.3 1119.2) scale(1.035 1)" font-family="Liberation Sans, Arial, Helvetica, sans-serif" font-size="40.5" text-anchor="middle" fill="#222222" stroke="#222222" stroke-width="0.5">S</text>
<text transform="translate(566.7 1119.2) scale(1.035 1)" font-family="Liberation Sans, Arial, Helvetica, sans-serif" font-size="40.5" text-anchor="middle" fill="#222222" stroke="#222222" stroke-width="0.5">O</text>
<text transform="translate(612.0 1119.2) scale(1.035 1)" font-family="Liberation Sans, Arial, Helvetica, sans-serif" font-size="40.5" text-anchor="middle" fill="#222222" stroke="#222222" stroke-width="0.5">N</text>
<text transform="translate(657.3 1119.2) scale(1.035 1)" font-family="Liberation Sans, Arial, Helvetica, sans-serif" font-size="40.5" text-anchor="middle" fill="#222222" stroke="#222222" stroke-width="0.5">D</text>
<text transform="translate(36.6 861.7) rotate(-90) scale(1.012 1)" font-family="Liberation Sans, Arial, Helvetica, sans-serif" font-size="43.5" text-anchor="middle" fill="#222222" stroke="#222222" stroke-width="0.5">Latitude</text>
<g transform="translate(851.0 658.2)"><g shape-rendering="crispEdges"><rect x="0.00" y="0.00" width="544.60" height="27.73" fill="#fefeb8"/><rect x="0.00" y="27.13" width="227.27" height="27.73" fill="#fefeb8"/><rect x="226.67" y="27.13" width="136.60" height="27.73" fill="#fefab3"/><rect x="362.67" y="27.13" width="181.93" height="27.73" fill="#fefeb8"/><rect x="0.00" y="54.27" width="544.60" height="27.73" fill="#fefeb8"/><rect x="0.00" y="81.40" width="544.60" height="27.73" fill="#fefeb8"/><rect x="0.00" y="108.53" width="544.60" height="27.73" fill="#fefeb8"/><rect x="0.00" y="135.67" width="227.27" height="27.73" fill="#fefeb8"/><rect x="226.67" y="135.67" width="45.93" height="27.73" fill="#fefab3"/><rect x="272.00" y="135.67" width="45.93" height="27.73" fill="#fef3a9"/><rect x="317.33" y="135.67" width="45.93" height="27.73" fill="#fefab3"/><rect x="362.67" y="135.67" width="181.93" height="27.73" fill="#fefeb8"/><rect x="0.00" y="162.80" width="227.27" height="27.73" fill="#fefeb8"/><rect x="226.67" y="162.80" width="91.27" height="27.73" fill="#fef6ae"/><rect x="317.33" y="162.80" width="227.27" height="27.73" fill="#fefeb8"/><rect x="0.00" y="189.93" width="181.93" height="27.73" fill="#fefeb8"/><rect x="181.33" y="189.93" width="45.93" height="27.73" fill="#fef6ae"/><rect x="226.67" y="189.93" width="45.93" height="27.73" fill="#feefa4"/><rect x="272.00" y="189.93" width="45.93" height="27.73" fill="#fefeb8"/><rect x="317.33" y="189.93" width="45.93" height="27.73" fill="#fef6ae"/><rect x="362.67" y="189.93" width="181.93" height="27.73" fill="#fefeb8"/><rect x="0.00" y="217.07" width="91.27" height="27.73" fill="#fefeb8"/><rect x="90.67" y="217.07" width="91.27" height="27.73" fill="#fef6ae"/><rect x="181.33" y="217.07" width="45.93" height="27.73" fill="#fef3a9"/><rect x="226.67" y="217.07" width="45.93" height="27.73" fill="#fef6ae"/><rect x="272.00" y="217.07" width="45.93" height="27.73" fill="#fefeb8"/><rect x="317.33" y="217.07" width="91.27" height="27.73" fill="#fef6ae"/><rect x="408.00" y="217.07" width="45.93" height="27.73" fill="#fefab3"/><rect x="453.33" y="217.07" width="91.27" height="27.73" fill="#fefeb8"/><rect x="0.00" y="244.20" width="91.27" height="27.73" fill="#feefa4"/><rect x="90.67" y="244.20" width="45.93" height="27.73" fill="#fef6ae"/><rect x="136.00" y="244.20" width="227.27" height="27.73" fill="#fefeb8"/><rect x="362.67" y="244.20" width="45.93" height="27.73" fill="#fef3a9"/><rect x="408.00" y="244.20" width="45.93" height="27.73" fill="#feeb9f"/><rect x="453.33" y="244.20" width="45.93" height="27.73" fill="#fee89a"/><rect x="498.67" y="244.20" width="45.93" height="27.73" fill="#feefa4"/><rect x="0.00" y="271.33" width="136.60" height="27.73" fill="#feefa4"/><rect x="136.00" y="271.33" width="317.93" height="27.73" fill="#fefeb8"/><rect x="453.33" y="271.33" width="45.93" height="27.73" fill="#fee090"/><rect x="498.67" y="271.33" width="45.93" height="27.73" fill="#fee89a"/><rect x="0.00" y="298.47" width="45.93" height="27.73" fill="#fef6ae"/><rect x="45.33" y="298.47" width="45.93" height="27.73" fill="#feefa4"/><rect x="90.67" y="298.47" width="45.93" height="27.73" fill="#fef3a9"/><rect x="136.00" y="298.47" width="317.93" height="27.73" fill="#fefeb8"/><rect x="453.33" y="298.47" width="45.93" height="27.73" fill="#fef6ae"/><rect x="498.67" y="298.47" width="45.93" height="27.73" fill="#fee89a"/><rect x="0.00" y="325.60" width="453.93" height="27.73" fill="#fefeb8"/><rect x="453.33" y="325.60" width="45.93" height="27.73" fill="#fef6ae"/><rect x="498.67" y="325.60" width="45.93" height="27.73" fill="#feefa4"/><rect x="0.00" y="352.73" width="544.60" height="27.73" fill="#fefeb8"/><rect x="0.00" y="379.87" width="544.60" height="27.73" fill="#fefeb8"/></g><g fill="#0d0d0d"><circle cx="22.7" cy="13.6" r="4.1"/><circle cx="68.0" cy="13.6" r="4.1"/><circle cx="113.3" cy="13.6" r="4.1"/><circle cx="158.7" cy="13.6" r="4.1"/><circle cx="204.0" cy="13.6" r="4.1"/><circle cx="249.3" cy="13.6" r="4.1"/><circle cx="294.7" cy="13.6" r="4.1"/><circle cx="340.0" cy="13.6" r="4.1"/><circle cx="385.3" cy="13.6" r="4.1"/><circle cx="430.7" cy="13.6" r="4.1"/><circle cx="476.0" cy="13.6" r="4.1"/><circle cx="521.3" cy="13.6" r="4.1"/><circle cx="22.7" cy="40.7" r="4.1"/><circle cx="68.0" cy="40.7" r="4.1"/><circle cx="113.3" cy="40.7" r="4.1"/><circle cx="158.7" cy="40.7" r="4.1"/><circle cx="430.7" cy="40.7" r="4.1"/><circle cx="476.0" cy="40.7" r="4.1"/><circle cx="521.3" cy="40.7" r="4.1"/><circle cx="22.7" cy="67.8" r="4.1"/><circle cx="68.0" cy="67.8" r="4.1"/><circle cx="113.3" cy="67.8" r="4.1"/><circle cx="158.7" cy="67.8" r="4.1"/><circle cx="430.7" cy="67.8" r="4.1"/><circle cx="476.0" cy="67.8" r="4.1"/><circle cx="521.3" cy="67.8" r="4.1"/><circle cx="68.0" cy="95.0" r="4.1"/><circle cx="113.3" cy="95.0" r="4.1"/><circle cx="340.0" cy="95.0" r="4.1"/><circle cx="430.7" cy="95.0" r="4.1"/><circle cx="476.0" cy="95.0" r="4.1"/><circle cx="521.3" cy="95.0" r="4.1"/><circle cx="22.7" cy="122.1" r="4.1"/><circle cx="113.3" cy="122.1" r="4.1"/><circle cx="113.3" cy="149.2" r="4.1"/><circle cx="476.0" cy="149.2" r="4.1"/><circle cx="385.3" cy="176.4" r="4.1"/><circle cx="476.0" cy="203.5" r="4.1"/><circle cx="204.0" cy="257.8" r="4.1"/><circle cx="204.0" cy="284.9" r="4.1"/><circle cx="340.0" cy="284.9" r="4.1"/><circle cx="204.0" cy="312.0" r="4.1"/><circle cx="294.7" cy="339.2" r="4.1"/><circle cx="340.0" cy="339.2" r="4.1"/><circle cx="22.7" cy="366.3" r="4.1"/><circle cx="68.0" cy="366.3" r="4.1"/><circle cx="113.3" cy="366.3" r="4.1"/><circle cx="204.0" cy="366.3" r="4.1"/><circle cx="249.3" cy="366.3" r="4.1"/><circle cx="294.7" cy="366.3" r="4.1"/><circle cx="340.0" cy="366.3" r="4.1"/><circle cx="430.7" cy="366.3" r="4.1"/><circle cx="476.0" cy="366.3" r="4.1"/><circle cx="22.7" cy="393.4" r="4.1"/><circle cx="68.0" cy="393.4" r="4.1"/><circle cx="113.3" cy="393.4" r="4.1"/><circle cx="158.7" cy="393.4" r="4.1"/><circle cx="204.0" cy="393.4" r="4.1"/><circle cx="249.3" cy="393.4" r="4.1"/><circle cx="294.7" cy="393.4" r="4.1"/><circle cx="340.0" cy="393.4" r="4.1"/><circle cx="385.3" cy="393.4" r="4.1"/><circle cx="430.7" cy="393.4" r="4.1"/><circle cx="476.0" cy="393.4" r="4.1"/></g><path d="M22.7 0v5.6M22.7 407.0v-5.6M68.0 0v5.6M68.0 407.0v-5.6M113.3 0v5.6M113.3 407.0v-5.6M158.7 0v5.6M158.7 407.0v-5.6M204.0 0v5.6M204.0 407.0v-5.6M249.3 0v5.6M249.3 407.0v-5.6M294.7 0v5.6M294.7 407.0v-5.6M340.0 0v5.6M340.0 407.0v-5.6M385.3 0v5.6M385.3 407.0v-5.6M430.7 0v5.6M430.7 407.0v-5.6M476.0 0v5.6M476.0 407.0v-5.6M521.3 0v5.6M521.3 407.0v-5.6M0 81.4h5.6M544.0 81.4h-5.6M0 162.8h5.6M544.0 162.8h-5.6M0 244.2h5.6M544.0 244.2h-5.6M0 325.6h5.6M544.0 325.6h-5.6" stroke="#1c1c1c" stroke-width="1.7" fill="none"/><rect x="0" y="0" width="544.0" height="407.0" fill="none" stroke="#1c1c1c" stroke-width="2.1"/></g>
<text transform="translate(833.5 673.2) scale(1.035 1)" font-family="Liberation Sans, Arial, Helvetica, sans-serif" font-size="40.5" text-anchor="end" fill="#222222" stroke="#222222" stroke-width="0.5">-90</text>
<text transform="translate(833.5 754.6) scale(1.035 1)" font-family="Liberation Sans, Arial, Helvetica, sans-serif" font-size="40.5" text-anchor="end" fill="#222222" stroke="#222222" stroke-width="0.5">-60</text>
<text transform="translate(833.5 836.0) scale(1.035 1)" font-family="Liberation Sans, Arial, Helvetica, sans-serif" font-size="40.5" text-anchor="end" fill="#222222" stroke="#222222" stroke-width="0.5">-30</text>
<text transform="translate(833.5 917.4) scale(1.035 1)" font-family="Liberation Sans, Arial, Helvetica, sans-serif" font-size="40.5" text-anchor="end" fill="#222222" stroke="#222222" stroke-width="0.5">0</text>
<text transform="translate(833.5 998.8) scale(1.035 1)" font-family="Liberation Sans, Arial, Helvetica, sans-serif" font-size="40.5" text-anchor="end" fill="#222222" stroke="#222222" stroke-width="0.5">30</text>
<text transform="translate(833.5 1080.2) scale(1.035 1)" font-family="Liberation Sans, Arial, Helvetica, sans-serif" font-size="40.5" text-anchor="end" fill="#222222" stroke="#222222" stroke-width="0.5">60</text>
<text transform="translate(873.7 1119.2) scale(1.035 1)" font-family="Liberation Sans, Arial, Helvetica, sans-serif" font-size="40.5" text-anchor="middle" fill="#222222" stroke="#222222" stroke-width="0.5">J</text>
<text transform="translate(919.0 1119.2) scale(1.035 1)" font-family="Liberation Sans, Arial, Helvetica, sans-serif" font-size="40.5" text-anchor="middle" fill="#222222" stroke="#222222" stroke-width="0.5">F</text>
<text transform="translate(964.3 1119.2) scale(1.035 1)" font-family="Liberation Sans, Arial, Helvetica, sans-serif" font-size="40.5" text-anchor="middle" fill="#222222" stroke="#222222" stroke-width="0.5">M</text>
<text transform="translate(1009.7 1119.2) scale(1.035 1)" font-family="Liberation Sans, Arial, Helvetica, sans-serif" font-size="40.5" text-anchor="middle" fill="#222222" stroke="#222222" stroke-width="0.5">A</text>
<text transform="translate(1055.0 1119.2) scale(1.035 1)" font-family="Liberation Sans, Arial, Helvetica, sans-serif" font-size="40.5" text-anchor="middle" fill="#222222" stroke="#222222" stroke-width="0.5">M</text>
<text transform="translate(1100.3 1119.2) scale(1.035 1)" font-family="Liberation Sans, Arial, Helvetica, sans-serif" font-size="40.5" text-anchor="middle" fill="#222222" stroke="#222222" stroke-width="0.5">J</text>
<text transform="translate(1145.7 1119.2) scale(1.035 1)" font-family="Liberation Sans, Arial, Helvetica, sans-serif" font-size="40.5" text-anchor="middle" fill="#222222" stroke="#222222" stroke-width="0.5">J</text>
<text transform="translate(1191.0 1119.2) scale(1.035 1)" font-family="Liberation Sans, Arial, Helvetica, sans-serif" font-size="40.5" text-anchor="middle" fill="#222222" stroke="#222222" stroke-width="0.5">A</text>
<text transform="translate(1236.3 1119.2) scale(1.035 1)" font-family="Liberation Sans, Arial, Helvetica, sans-serif" font-size="40.5" text-anchor="middle" fill="#222222" stroke="#222222" stroke-width="0.5">S</text>
<text transform="translate(1281.7 1119.2) scale(1.035 1)" font-family="Liberation Sans, Arial, Helvetica, sans-serif" font-size="40.5" text-anchor="middle" fill="#222222" stroke="#222222" stroke-width="0.5">O</text>
<text transform="translate(1327.0 1119.2) scale(1.035 1)" font-family="Liberation Sans, Arial, Helvetica, sans-serif" font-size="40.5" text-anchor="middle" fill="#222222" stroke="#222222" stroke-width="0.5">N</text>
<text transform="translate(1372.3 1119.2) scale(1.035 1)" font-family="Liberation Sans, Arial, Helvetica, sans-serif" font-size="40.5" text-anchor="middle" fill="#222222" stroke="#222222" stroke-width="0.5">D</text>
<g transform="translate(1566.1 658.2)"><g shape-rendering="crispEdges"><rect x="0.00" y="0.00" width="544.60" height="27.73" fill="#fefeb8"/><rect x="0.00" y="27.13" width="544.60" height="27.73" fill="#fefeb8"/><rect x="0.00" y="54.27" width="544.60" height="27.73" fill="#fefeb8"/><rect x="0.00" y="81.40" width="544.60" height="27.73" fill="#fefeb8"/><rect x="0.00" y="108.53" width="544.60" height="27.73" fill="#fefeb8"/><rect x="0.00" y="135.67" width="136.60" height="27.73" fill="#fefeb8"/><rect x="136.00" y="135.67" width="45.93" height="27.73" fill="#fefab3"/><rect x="181.33" y="135.67" width="363.27" height="27.73" fill="#fefeb8"/><rect x="0.00" y="162.80" width="544.60" height="27.73" fill="#fefeb8"/><rect x="0.00" y="189.93" width="227.27" height="27.73" fill="#fefeb8"/><rect x="226.67" y="189.93" width="45.93" height="27.73" fill="#fef6ae"/><rect x="272.00" y="189.93" width="45.93" height="27.73" fill="#feefa4"/><rect x="317.33" y="189.93" width="45.93" height="27.73" fill="#fef6ae"/><rect x="362.67" y="189.93" width="45.93" height="27.73" fill="#fefab3"/><rect x="408.00" y="189.93" width="91.27" height="27.73" fill="#fefeb8"/><rect x="498.67" y="189.93" width="45.93" height="27.73" fill="#fef3a9"/><rect x="0.00" y="217.07" width="45.93" height="27.73" fill="#fef6ae"/><rect x="45.33" y="217.07" width="136.60" height="27.73" fill="#fef3a9"/><rect x="181.33" y="217.07" width="45.93" height="27.73" fill="#feefa4"/><rect x="226.67" y="217.07" width="45.93" height="27.73" fill="#fef3a9"/><rect x="272.00" y="217.07" width="45.93" height="27.73" fill="#feefa4"/><rect x="317.33" y="217.07" width="227.27" height="27.73" fill="#fefeb8"/><rect x="0.00" y="244.20" width="45.93" height="27.73" fill="#fef3a9"/><rect x="45.33" y="244.20" width="45.93" height="27.73" fill="#fefeb8"/><rect x="90.67" y="244.20" width="45.93" height="27.73" fill="#fef6ae"/><rect x="136.00" y="244.20" width="181.93" height="27.73" fill="#fefeb8"/><rect x="317.33" y="244.20" width="45.93" height="27.73" fill="#fef6ae"/><rect x="362.67" y="244.20" width="45.93" height="27.73" fill="#feefa4"/><rect x="408.00" y="244.20" width="45.93" height="27.73" fill="#feeb9f"/><rect x="453.33" y="244.20" width="91.27" height="27.73" fill="#fef3a9"/><rect x="0.00" y="271.33" width="45.93" height="27.73" fill="#feeb9f"/><rect x="45.33" y="271.33" width="45.93" height="27.73" fill="#fefeb8"/><rect x="90.67" y="271.33" width="45.93" height="27.73" fill="#fef6ae"/><rect x="136.00" y="271.33" width="317.93" height="27.73" fill="#fefeb8"/><rect x="453.33" y="271.33" width="91.27" height="27.73" fill="#feefa4"/><rect x="0.00" y="298.47" width="91.27" height="27.73" fill="#fefab3"/><rect x="90.67" y="298.47" width="45.93" height="27.73" fill="#fef3a9"/><rect x="136.00" y="298.47" width="181.93" height="27.73" fill="#fefeb8"/><rect x="317.33" y="298.47" width="91.27" height="27.73" fill="#feefa4"/><rect x="408.00" y="298.47" width="45.93" height="27.73" fill="#fefeb8"/><rect x="453.33" y="298.47" width="45.93" height="27.73" fill="#fef6ae"/><rect x="498.67" y="298.47" width="45.93" height="27.73" fill="#feefa4"/><rect x="0.00" y="325.60" width="499.27" height="27.73" fill="#fefeb8"/><rect x="498.67" y="325.60" width="45.93" height="27.73" fill="#fef6ae"/><rect x="0.00" y="352.73" width="499.27" height="27.73" fill="#fefeb8"/><rect x="498.67" y="352.73" width="45.93" height="27.73" fill="#fef3a9"/><rect x="0.00" y="379.87" width="544.60" height="27.73" fill="#fefeb8"/></g><g fill="#0d0d0d"><circle cx="22.7" cy="13.6" r="4.1"/><circle cx="68.0" cy="13.6" r="4.1"/><circle cx="113.3" cy="13.6" r="4.1"/><circle cx="158.7" cy="13.6" r="4.1"/><circle cx="204.0" cy="13.6" r="4.1"/><circle cx="249.3" cy="13.6" r="4.1"/><circle cx="294.7" cy="13.6" r="4.1"/><circle cx="340.0" cy="13.6" r="4.1"/><circle cx="385.3" cy="13.6" r="4.1"/><circle cx="430.7" cy="13.6" r="4.1"/><circle cx="476.0" cy="13.6" r="4.1"/><circle cx="521.3" cy="13.6" r="4.1"/><circle cx="68.0" cy="40.7" r="4.1"/><circle cx="158.7" cy="40.7" r="4.1"/><circle cx="204.0" cy="40.7" r="4.1"/><circle cx="249.3" cy="40.7" r="4.1"/><circle cx="294.7" cy="40.7" r="4.1"/><circle cx="385.3" cy="40.7" r="4.1"/><circle cx="430.7" cy="40.7" r="4.1"/><circle cx="476.0" cy="40.7" r="4.1"/><circle cx="521.3" cy="40.7" r="4.1"/><circle cx="22.7" cy="67.8" r="4.1"/><circle cx="68.0" cy="67.8" r="4.1"/><circle cx="113.3" cy="67.8" r="4.1"/><circle cx="158.7" cy="67.8" r="4.1"/><circle cx="249.3" cy="67.8" r="4.1"/><circle cx="294.7" cy="67.8" r="4.1"/><circle cx="340.0" cy="67.8" r="4.1"/><circle cx="385.3" cy="67.8" r="4.1"/><circle cx="430.7" cy="67.8" r="4.1"/><circle cx="476.0" cy="67.8" r="4.1"/><circle cx="521.3" cy="67.8" r="4.1"/><circle cx="22.7" cy="95.0" r="4.1"/><circle cx="68.0" cy="95.0" r="4.1"/><circle cx="113.3" cy="95.0" r="4.1"/><circle cx="158.7" cy="95.0" r="4.1"/><circle cx="204.0" cy="95.0" r="4.1"/><circle cx="249.3" cy="95.0" r="4.1"/><circle cx="294.7" cy="95.0" r="4.1"/><circle cx="340.0" cy="95.0" r="4.1"/><circle cx="430.7" cy="95.0" r="4.1"/><circle cx="476.0" cy="95.0" r="4.1"/><circle cx="521.3" cy="95.0" r="4.1"/><circle cx="22.7" cy="122.1" r="4.1"/><circle cx="68.0" cy="122.1" r="4.1"/><circle cx="113.3" cy="122.1" r="4.1"/><circle cx="158.7" cy="122.1" r="4.1"/><circle cx="204.0" cy="122.1" r="4.1"/><circle cx="249.3" cy="122.1" r="4.1"/><circle cx="294.7" cy="122.1" r="4.1"/><circle cx="340.0" cy="122.1" r="4.1"/><circle cx="385.3" cy="122.1" r="4.1"/><circle cx="430.7" cy="122.1" r="4.1"/><circle cx="476.0" cy="122.1" r="4.1"/><circle cx="521.3" cy="122.1" r="4.1"/><circle cx="22.7" cy="149.2" r="4.1"/><circle cx="68.0" cy="149.2" r="4.1"/><circle cx="113.3" cy="149.2" r="4.1"/><circle cx="158.7" cy="149.2" r="4.1"/><circle cx="204.0" cy="149.2" r="4.1"/><circle cx="249.3" cy="149.2" r="4.1"/><circle cx="294.7" cy="149.2" r="4.1"/><circle cx="340.0" cy="149.2" r="4.1"/><circle cx="385.3" cy="149.2" r="4.1"/><circle cx="430.7" cy="149.2" r="4.1"/><circle cx="476.0" cy="149.2" r="4.1"/><circle cx="521.3" cy="149.2" r="4.1"/><circle cx="68.0" cy="176.4" r="4.1"/><circle cx="113.3" cy="176.4" r="4.1"/><circle cx="204.0" cy="176.4" r="4.1"/><circle cx="340.0" cy="176.4" r="4.1"/><circle cx="430.7" cy="176.4" r="4.1"/><circle cx="521.3" cy="176.4" r="4.1"/><circle cx="22.7" cy="203.5" r="4.1"/><circle cx="476.0" cy="203.5" r="4.1"/><circle cx="204.0" cy="257.8" r="4.1"/><circle cx="249.3" cy="257.8" r="4.1"/><circle cx="158.7" cy="284.9" r="4.1"/><circle cx="204.0" cy="284.9" r="4.1"/><circle cx="340.0" cy="284.9" r="4.1"/><circle cx="68.0" cy="339.2" r="4.1"/><circle cx="113.3" cy="339.2" r="4.1"/><circle cx="158.7" cy="339.2" r="4.1"/><circle cx="204.0" cy="339.2" r="4.1"/><circle cx="249.3" cy="339.2" r="4.1"/><circle cx="294.7" cy="339.2" r="4.1"/><circle cx="340.0" cy="339.2" r="4.1"/><circle cx="430.7" cy="339.2" r="4.1"/><circle cx="476.0" cy="339.2" r="4.1"/><circle cx="521.3" cy="339.2" r="4.1"/><circle cx="22.7" cy="366.3" r="4.1"/><circle cx="204.0" cy="366.3" r="4.1"/><circle cx="249.3" cy="366.3" r="4.1"/><circle cx="294.7" cy="366.3" r="4.1"/><circle cx="340.0" cy="366.3" r="4.1"/><circle cx="385.3" cy="366.3" r="4.1"/><circle cx="430.7" cy="366.3" r="4.1"/><circle cx="476.0" cy="366.3" r="4.1"/><circle cx="22.7" cy="393.4" r="4.1"/><circle cx="68.0" cy="393.4" r="4.1"/><circle cx="113.3" cy="393.4" r="4.1"/><circle cx="158.7" cy="393.4" r="4.1"/><circle cx="204.0" cy="393.4" r="4.1"/><circle cx="249.3" cy="393.4" r="4.1"/><circle cx="294.7" cy="393.4" r="4.1"/><circle cx="340.0" cy="393.4" r="4.1"/><circle cx="385.3" cy="393.4" r="4.1"/><circle cx="430.7" cy="393.4" r="4.1"/><circle cx="476.0" cy="393.4" r="4.1"/><circle cx="521.3" cy="393.4" r="4.1"/></g><path d="M22.7 0v5.6M22.7 407.0v-5.6M68.0 0v5.6M68.0 407.0v-5.6M113.3 0v5.6M113.3 407.0v-5.6M158.7 0v5.6M158.7 407.0v-5.6M204.0 0v5.6M204.0 407.0v-5.6M249.3 0v5.6M249.3 407.0v-5.6M294.7 0v5.6M294.7 407.0v-5.6M340.0 0v5.6M340.0 407.0v-5.6M385.3 0v5.6M385.3 407.0v-5.6M430.7 0v5.6M430.7 407.0v-5.6M476.0 0v5.6M476.0 407.0v-5.6M521.3 0v5.6M521.3 407.0v-5.6M0 81.4h5.6M544.0 81.4h-5.6M0 162.8h5.6M544.0 162.8h-5.6M0 244.2h5.6M544.0 244.2h-5.6M0 325.6h5.6M544.0 325.6h-5.6" stroke="#1c1c1c" stroke-width="1.7" fill="none"/><rect x="0" y="0" width="544.0" height="407.0" fill="none" stroke="#1c1c1c" stroke-width="2.1"/></g>
<text transform="translate(1548.6 673.2) scale(1.035 1)" font-family="Liberation Sans, Arial, Helvetica, sans-serif" font-size="40.5" text-anchor="end" fill="#222222" stroke="#222222" stroke-width="0.5">-90</text>
<text transform="translate(1548.6 754.6) scale(1.035 1)" font-family="Liberation Sans, Arial, Helvetica, sans-serif" font-size="40.5" text-anchor="end" fill="#222222" stroke="#222222" stroke-width="0.5">-60</text>
<text transform="translate(1548.6 836.0) scale(1.035 1)" font-family="Liberation Sans, Arial, Helvetica, sans-serif" font-size="40.5" text-anchor="end" fill="#222222" stroke="#222222" stroke-width="0.5">-30</text>
<text transform="translate(1548.6 917.4) scale(1.035 1)" font-family="Liberation Sans, Arial, Helvetica, sans-serif" font-size="40.5" text-anchor="end" fill="#222222" stroke="#222222" stroke-width="0.5">0</text>
<text transform="translate(1548.6 998.8) scale(1.035 1)" font-family="Liberation Sans, Arial, Helvetica, sans-serif" font-size="40.5" text-anchor="end" fill="#222222" stroke="#222222" stroke-width="0.5">30</text>
<text transform="translate(1548.6 1080.2) scale(1.035 1)" font-family="Liberation Sans, Arial, Helvetica, sans-serif" font-size="40.5" text-anchor="end" fill="#222222" stroke="#222222" stroke-width="0.5">60</text>
<text transform="translate(1588.8 1119.2) scale(1.035 1)" font-family="Liberation Sans, Arial, Helvetica, sans-serif" font-size="40.5" text-anchor="middle" fill="#222222" stroke="#222222" stroke-width="0.5">J</text>
<text transform="translate(1634.1 1119.2) scale(1.035 1)" font-family="Liberation Sans, Arial, Helvetica, sans-serif" font-size="40.5" text-anchor="middle" fill="#222222" stroke="#222222" stroke-width="0.5">F</text>
<text transform="translate(1679.4 1119.2) scale(1.035 1)" font-family="Liberation Sans, Arial, Helvetica, sans-serif" font-size="40.5" text-anchor="middle" fill="#222222" stroke="#222222" stroke-width="0.5">M</text>
<text transform="translate(1724.8 1119.2) scale(1.035 1)" font-family="Liberation Sans, Arial, Helvetica, sans-serif" font-size="40.5" text-anchor="middle" fill="#222222" stroke="#222222" stroke-width="0.5">A</text>
<text transform="translate(1770.1 1119.2) scale(1.035 1)" font-family="Liberation Sans, Arial, Helvetica, sans-serif" font-size="40.5" text-anchor="middle" fill="#222222" stroke="#222222" stroke-width="0.5">M</text>
<text transform="translate(1815.4 1119.2) scale(1.035 1)" font-family="Liberation Sans, Arial, Helvetica, sans-serif" font-size="40.5" text-anchor="middle" fill="#222222" stroke="#222222" stroke-width="0.5">J</text>
<text transform="translate(1860.8 1119.2) scale(1.035 1)" font-family="Liberation Sans, Arial, Helvetica, sans-serif" font-size="40.5" text-anchor="middle" fill="#222222" stroke="#222222" stroke-width="0.5">J</text>
<text transform="translate(1906.1 1119.2) scale(1.035 1)" font-family="Liberation Sans, Arial, Helvetica, sans-serif" font-size="40.5" text-anchor="middle" fill="#222222" stroke="#222222" stroke-width="0.5">A</text>
<text transform="translate(1951.4 1119.2) scale(1.035 1)" font-family="Liberation Sans, Arial, Helvetica, sans-serif" font-size="40.5" text-anchor="middle" fill="#222222" stroke="#222222" stroke-width="0.5">S</text>
<text transform="translate(1996.8 1119.2) scale(1.035 1)" font-family="Liberation Sans, Arial, Helvetica, sans-serif" font-size="40.5" text-anchor="middle" fill="#222222" stroke="#222222" stroke-width="0.5">O</text>
<text transform="translate(2042.1 1119.2) scale(1.035 1)" font-family="Liberation Sans, Arial, Helvetica, sans-serif" font-size="40.5" text-anchor="middle" fill="#222222" stroke="#222222" stroke-width="0.5">N</text>
<text transform="translate(2087.4 1119.2) scale(1.035 1)" font-family="Liberation Sans, Arial, Helvetica, sans-serif" font-size="40.5" text-anchor="middle" fill="#222222" stroke="#222222" stroke-width="0.5">D</text>
<g transform="translate(136.0 1252.1)"><g shape-rendering="crispEdges"><rect x="0.00" y="0.00" width="544.60" height="27.73" fill="#fefeb8"/><rect x="0.00" y="27.13" width="227.27" height="27.73" fill="#fefeb8"/><rect x="226.67" y="27.13" width="45.93" height="27.73" fill="#fee89a"/><rect x="272.00" y="27.13" width="45.93" height="27.73" fill="#fecc7d"/><rect x="317.33" y="27.13" width="45.93" height="27.73" fill="#fee090"/><rect x="362.67" y="27.13" width="181.93" height="27.73" fill="#fefeb8"/><rect x="0.00" y="54.27" width="227.27" height="27.73" fill="#fefeb8"/><rect x="226.67" y="54.27" width="45.93" height="27.73" fill="#fee090"/><rect x="272.00" y="54.27" width="45.93" height="27.73" fill="#fdc274"/><rect x="317.33" y="54.27" width="45.93" height="27.73" fill="#fed687"/><rect x="362.67" y="54.27" width="45.93" height="27.73" fill="#fef6ae"/><rect x="408.00" y="54.27" width="136.60" height="27.73" fill="#fefeb8"/><rect x="0.00" y="81.40" width="136.60" height="27.73" fill="#fefeb8"/><rect x="136.00" y="81.40" width="45.93" height="27.73" fill="#feefa4"/><rect x="181.33" y="81.40" width="91.27" height="27.73" fill="#fee89a"/><rect x="272.00" y="81.40" width="45.93" height="27.73" fill="#fba15b"/><rect x="317.33" y="81.40" width="45.93" height="27.73" fill="#fdb86a"/><rect x="362.67" y="81.40" width="45.93" height="27.73" fill="#fee090"/><rect x="408.00" y="81.40" width="136.60" height="27.73" fill="#fefeb8"/><rect x="0.00" y="108.53" width="136.60" height="27.73" fill="#fefeb8"/><rect x="136.00" y="108.53" width="45.93" height="27.73" fill="#feefa4"/><rect x="181.33" y="108.53" width="45.93" height="27.73" fill="#fee89a"/><rect x="226.67" y="108.53" width="45.93" height="27.73" fill="#fee090"/><rect x="272.00" y="108.53" width="91.27" height="27.73" fill="#fdb86a"/><rect x="362.67" y="108.53" width="45.93" height="27.73" fill="#fecc7d"/><rect x="408.00" y="108.53" width="45.93" height="27.73" fill="#fef6ae"/><rect x="453.33" y="108.53" width="91.27" height="27.73" fill="#fefeb8"/><rect x="0.00" y="135.67" width="91.27" height="27.73" fill="#fef6ae"/><rect x="90.67" y="135.67" width="45.93" height="27.73" fill="#fee89a"/><rect x="136.00" y="135.67" width="45.93" height="27.73" fill="#fee090"/><rect x="181.33" y="135.67" width="45.93" height="27.73" fill="#fee89a"/><rect x="226.67" y="135.67" width="45.93" height="27.73" fill="#fee090"/><rect x="272.00" y="135.67" width="136.60" height="27.73" fill="#fecc7d"/><rect x="408.00" y="135.67" width="45.93" height="27.73" fill="#fed687"/><rect x="453.33" y="135.67" width="45.93" height="27.73" fill="#feefa4"/><rect x="498.67" y="135.67" width="45.93" height="27.73" fill="#fefeb8"/><rect x="0.00" y="162.80" width="45.93" height="27.73" fill="#fee89a"/><rect x="45.33" y="162.80" width="45.93" height="27.73" fill="#feefa4"/><rect x="90.67" y="162.80" width="91.27" height="27.73" fill="#fee89a"/><rect x="181.33" y="162.80" width="45.93" height="27.73" fill="#fecc7d"/><rect x="226.67" y="162.80" width="45.93" height="27.73" fill="#fdc274"/><rect x="272.00" y="162.80" width="45.93" height="27.73" fill="#fecc7d"/><rect x="317.33" y="162.80" width="227.27" height="27.73" fill="#fee89a"/><rect x="0.00" y="189.93" width="91.27" height="27.73" fill="#fed687"/><rect x="90.67" y="189.93" width="91.27" height="27.73" fill="#fee89a"/><rect x="181.33" y="189.93" width="45.93" height="27.73" fill="#fdc274"/><rect x="226.67" y="189.93" width="91.27" height="27.73" fill="#fdb86a"/><rect x="317.33" y="189.93" width="91.27" height="27.73" fill="#fee090"/><rect x="408.00" y="189.93" width="45.93" height="27.73" fill="#fee89a"/><rect x="453.33" y="189.93" width="45.93" height="27.73" fill="#fee090"/><rect x="498.67" y="189.93" width="45.93" height="27.73" fill="#fecc7d"/><rect x="0.00" y="217.07" width="45.93" height="27.73" fill="#f99455"/><rect x="45.33" y="217.07" width="45.93" height="27.73" fill="#f8874f"/><rect x="90.67" y="217.07" width="45.93" height="27.73" fill="#e85538"/><rect x="136.00" y="217.07" width="45.93" height="27.73" fill="#d73027"/><rect x="181.33" y="217.07" width="45.93" height="27.73" fill="#ee613d"/><rect x="226.67" y="217.07" width="45.93" height="27.73" fill="#f8874f"/><rect x="272.00" y="217.07" width="91.27" height="27.73" fill="#fdc274"/><rect x="362.67" y="217.07" width="45.93" height="27.73" fill="#fdae61"/><rect x="408.00" y="217.07" width="45.93" height="27.73" fill="#fdc274"/><rect x="453.33" y="217.07" width="45.93" height="27.73" fill="#fed687"/><rect x="498.67" y="217.07" width="45.93" height="27.73" fill="#fecc7d"/><rect x="0.00" y="244.20" width="45.93" height="27.73" fill="#f67a49"/><rect x="45.33" y="244.20" width="45.93" height="27.73" fill="#fdae61"/><rect x="90.67" y="244.20" width="45.93" height="27.73" fill="#fdb86a"/><rect x="136.00" y="244.20" width="45.93" height="27.73" fill="#fecc7d"/><rect x="181.33" y="244.20" width="45.93" height="27.73" fill="#fed687"/><rect x="226.67" y="244.20" width="45.93" height="27.73" fill="#fdae61"/><rect x="272.00" y="244.20" width="91.27" height="27.73" fill="#f8874f"/><rect x="362.67" y="244.20" width="45.93" height="27.73" fill="#e85538"/><rect x="408.00" y="244.20" width="45.93" height="27.73" fill="#d73027"/><rect x="453.33" y="244.20" width="45.93" height="27.73" fill="#e34832"/><rect x="498.67" y="244.20" width="45.93" height="27.73" fill="#ee613d"/><rect x="0.00" y="271.33" width="45.93" height="27.73" fill="#f67a49"/><rect x="45.33" y="271.33" width="45.93" height="27.73" fill="#fba15b"/><rect x="90.67" y="271.33" width="91.27" height="27.73" fill="#fdc274"/><rect x="181.33" y="271.33" width="45.93" height="27.73" fill="#fdb86a"/><rect x="226.67" y="271.33" width="45.93" height="27.73" fill="#fdae61"/><rect x="272.00" y="271.33" width="45.93" height="27.73" fill="#fba15b"/><rect x="317.33" y="271.33" width="45.93" height="27.73" fill="#fdae61"/><rect x="362.67" y="271.33" width="45.93" height="27.73" fill="#f99455"/><rect x="408.00" y="271.33" width="45.93" height="27.73" fill="#f46d43"/><rect x="453.33" y="271.33" width="45.93" height="27.73" fill="#d73027"/><rect x="498.67" y="271.33" width="45.93" height="27.73" fill="#e85538"/><rect x="0.00" y="298.47" width="91.27" height="27.73" fill="#f99455"/><rect x="90.67" y="298.47" width="45.93" height="27.73" fill="#f46d43"/><rect x="136.00" y="298.47" width="45.93" height="27.73" fill="#f99455"/><rect x="181.33" y="298.47" width="45.93" height="27.73" fill="#fdae61"/><rect x="226.67" y="298.47" width="45.93" height="27.73" fill="#fed687"/><rect x="272.00" y="298.47" width="45.93" height="27.73" fill="#fdc274"/><rect x="317.33" y="298.47" width="45.93" height="27.73" fill="#fdae61"/><rect x="362.67" y="298.47" width="45.93" height="27.73" fill="#f67a49"/><rect x="408.00" y="298.47" width="136.60" height="27.73" fill="#fba15b"/><rect x="0.00" y="325.60" width="45.93" height="27.73" fill="#f8874f"/><rect x="45.33" y="325.60" width="45.93" height="27.73" fill="#fba15b"/><rect x="90.67" y="325.60" width="91.27" height="27.73" fill="#fdae61"/><rect x="181.33" y="325.60" width="45.93" height="27.73" fill="#fee090"/><rect x="226.67" y="325.60" width="45.93" height="27.73" fill="#feefa4"/><rect x="272.00" y="325.60" width="91.27" height="27.73" fill="#fef6ae"/><rect x="362.67" y="325.60" width="45.93" height="27.73" fill="#fee89a"/><rect x="408.00" y="325.60" width="45.93" height="27.73" fill="#fba15b"/><rect x="453.33" y="325.60" width="45.93" height="27.73" fill="#cd2627"/><rect x="498.67" y="325.60" width="45.93" height="27.73" fill="#e34832"/><rect x="0.00" y="352.73" width="45.93" height="27.73" fill="#fee090"/><rect x="45.33" y="352.73" width="91.27" height="27.73" fill="#feefa4"/><rect x="136.00" y="352.73" width="363.27" height="27.73" fill="#fefeb8"/><rect x="498.67" y="352.73" width="45.93" height="27.73" fill="#fee090"/><rect x="0.00" y="379.87" width="453.93" height="27.73" fill="#fefeb8"/><rect x="453.33" y="379.87" width="45.93" height="27.73" fill="#fef6ae"/><rect x="498.67" y="379.87" width="45.93" height="27.73" fill="#fee090"/></g><g fill="#0d0d0d"><circle cx="22.7" cy="13.6" r="4.1"/><circle cx="68.0" cy="13.6" r="4.1"/><circle cx="113.3" cy="13.6" r="4.1"/><circle cx="158.7" cy="13.6" r="4.1"/><circle cx="204.0" cy="13.6" r="4.1"/><circle cx="249.3" cy="13.6" r="4.1"/><circle cx="294.7" cy="13.6" r="4.1"/><circle cx="340.0" cy="13.6" r="4.1"/><circle cx="385.3" cy="13.6" r="4.1"/><circle cx="430.7" cy="13.6" r="4.1"/><circle cx="476.0" cy="13.6" r="4.1"/><circle cx="521.3" cy="13.6" r="4.1"/><circle cx="22.7" cy="40.7" r="4.1"/><circle cx="113.3" cy="40.7" r="4.1"/><circle cx="158.7" cy="40.7" r="4.1"/><circle cx="385.3" cy="40.7" r="4.1"/><circle cx="430.7" cy="40.7" r="4.1"/><circle cx="476.0" cy="40.7" r="4.1"/><circle cx="521.3" cy="40.7" r="4.1"/><circle cx="22.7" cy="67.8" r="4.1"/><circle cx="68.0" cy="67.8" r="4.1"/><circle cx="113.3" cy="67.8" r="4.1"/><circle cx="158.7" cy="67.8" r="4.1"/><circle cx="204.0" cy="67.8" r="4.1"/><circle cx="476.0" cy="67.8" r="4.1"/><circle cx="521.3" cy="67.8" r="4.1"/><circle cx="476.0" cy="95.0" r="4.1"/><circle cx="521.3" cy="95.0" r="4.1"/><circle cx="68.0" cy="122.1" r="4.1"/><circle cx="113.3" cy="122.1" r="4.1"/><circle cx="158.7" cy="122.1" r="4.1"/><circle cx="204.0" cy="122.1" r="4.1"/><circle cx="249.3" cy="122.1" r="4.1"/><circle cx="68.0" cy="149.2" r="4.1"/><circle cx="158.7" cy="149.2" r="4.1"/><circle cx="294.7" cy="339.2" r="4.1"/><circle cx="340.0" cy="339.2" r="4.1"/><circle cx="22.7" cy="366.3" r="4.1"/><circle cx="204.0" cy="366.3" r="4.1"/><circle cx="249.3" cy="366.3" r="4.1"/><circle cx="294.7" cy="366.3" r="4.1"/><circle cx="430.7" cy="366.3" r="4.1"/><circle cx="476.0" cy="366.3" r="4.1"/><circle cx="22.7" cy="393.4" r="4.1"/><circle cx="68.0" cy="393.4" r="4.1"/><circle cx="158.7" cy="393.4" r="4.1"/><circle cx="204.0" cy="393.4" r="4.1"/><circle cx="249.3" cy="393.4" r="4.1"/><circle cx="340.0" cy="393.4" r="4.1"/><circle cx="385.3" cy="393.4" r="4.1"/><circle cx="430.7" cy="393.4" r="4.1"/><circle cx="476.0" cy="393.4" r="4.1"/></g><path d="M22.7 0v5.6M22.7 407.0v-5.6M68.0 0v5.6M68.0 407.0v-5.6M113.3 0v5.6M113.3 407.0v-5.6M158.7 0v5.6M158.7 407.0v-5.6M204.0 0v5.6M204.0 407.0v-5.6M249.3 0v5.6M249.3 407.0v-5.6M294.7 0v5.6M294.7 407.0v-5.6M340.0 0v5.6M340.0 407.0v-5.6M385.3 0v5.6M385.3 407.0v-5.6M430.7 0v5.6M430.7 407.0v-5.6M476.0 0v5.6M476.0 407.0v-5.6M521.3 0v5.6M521.3 407.0v-5.6M0 81.4h5.6M544.0 81.4h-5.6M0 162.8h5.6M544.0 162.8h-5.6M0 244.2h5.6M544.0 244.2h-5.6M0 325.6h5.6M544.0 325.6h-5.6" stroke="#1c1c1c" stroke-width="1.7" fill="none"/><rect x="0" y="0" width="544.0" height="407.0" fill="none" stroke="#1c1c1c" stroke-width="2.1"/></g>
<text transform="translate(118.5 1267.1) scale(1.035 1)" font-family="Liberation Sans, Arial, Helvetica, sans-serif" font-size="40.5" text-anchor="end" fill="#222222" stroke="#222222" stroke-width="0.5">-90</text>
<text transform="translate(118.5 1348.5) scale(1.035 1)" font-family="Liberation Sans, Arial, Helvetica, sans-serif" font-size="40.5" text-anchor="end" fill="#222222" stroke="#222222" stroke-width="0.5">-60</text>
<text transform="translate(118.5 1429.9) scale(1.035 1)" font-family="Liberation Sans, Arial, Helvetica, sans-serif" font-size="40.5" text-anchor="end" fill="#222222" stroke="#222222" stroke-width="0.5">-30</text>
<text transform="translate(118.5 1511.3) scale(1.035 1)" font-family="Liberation Sans, Arial, Helvetica, sans-serif" font-size="40.5" text-anchor="end" fill="#222222" stroke="#222222" stroke-width="0.5">0</text>
<text transform="translate(118.5 1592.7) scale(1.035 1)" font-family="Liberation Sans, Arial, Helvetica, sans-serif" font-size="40.5" text-anchor="end" fill="#222222" stroke="#222222" stroke-width="0.5">30</text>
<text transform="translate(118.5 1674.1) scale(1.035 1)" font-family="Liberation Sans, Arial, Helvetica, sans-serif" font-size="40.5" text-anchor="end" fill="#222222" stroke="#222222" stroke-width="0.5">60</text>
<text transform="translate(158.7 1713.1) scale(1.035 1)" font-family="Liberation Sans, Arial, Helvetica, sans-serif" font-size="40.5" text-anchor="middle" fill="#222222" stroke="#222222" stroke-width="0.5">J</text>
<text transform="translate(204.0 1713.1) scale(1.035 1)" font-family="Liberation Sans, Arial, Helvetica, sans-serif" font-size="40.5" text-anchor="middle" fill="#222222" stroke="#222222" stroke-width="0.5">F</text>
<text transform="translate(249.3 1713.1) scale(1.035 1)" font-family="Liberation Sans, Arial, Helvetica, sans-serif" font-size="40.5" text-anchor="middle" fill="#222222" stroke="#222222" stroke-width="0.5">M</text>
<text transform="translate(294.7 1713.1) scale(1.035 1)" font-family="Liberation Sans, Arial, Helvetica, sans-serif" font-size="40.5" text-anchor="middle" fill="#222222" stroke="#222222" stroke-width="0.5">A</text>
<text transform="translate(340.0 1713.1) scale(1.035 1)" font-family="Liberation Sans, Arial, Helvetica, sans-serif" font-size="40.5" text-anchor="middle" fill="#222222" stroke="#222222" stroke-width="0.5">M</text>
<text transform="translate(385.3 1713.1) scale(1.035 1)" font-family="Liberation Sans, Arial, Helvetica, sans-serif" font-size="40.5" text-anchor="middle" fill="#222222" stroke="#222222" stroke-width="0.5">J</text>
<text transform="translate(430.7 1713.1) scale(1.035 1)" font-family="Liberation Sans, Arial, Helvetica, sans-serif" font-size="40.5" text-anchor="middle" fill="#222222" stroke="#222222" stroke-width="0.5">J</text>
<text transform="translate(476.0 1713.1) scale(1.035 1)" font-family="Liberation Sans, Arial, Helvetica, sans-serif" font-size="40.5" text-anchor="middle" fill="#222222" stroke="#222222" stroke-width="0.5">A</text>
<text transform="translate(521.3 1713.1) scale(1.035 1)" font-family="Liberation Sans, Arial, Helvetica, sans-serif" font-size="40.5" text-anchor="middle" fill="#222222" stroke="#222222" stroke-width="0.5">S</text>
<text transform="translate(566.7 1713.1) scale(1.035 1)" font-family="Liberation Sans, Arial, Helvetica, sans-serif" font-size="40.5" text-anchor="middle" fill="#222222" stroke="#222222" stroke-width="0.5">O</text>
<text transform="translate(612.0 1713.1) scale(1.035 1)" font-family="Liberation Sans, Arial, Helvetica, sans-serif" font-size="40.5" text-anchor="middle" fill="#222222" stroke="#222222" stroke-width="0.5">N</text>
<text transform="translate(657.3 1713.1) scale(1.035 1)" font-family="Liberation Sans, Arial, Helvetica, sans-serif" font-size="40.5" text-anchor="middle" fill="#222222" stroke="#222222" stroke-width="0.5">D</text>
<text transform="translate(36.6 1455.6) rotate(-90) scale(1.012 1)" font-family="Liberation Sans, Arial, Helvetica, sans-serif" font-size="43.5" text-anchor="middle" fill="#222222" stroke="#222222" stroke-width="0.5">Latitude</text>
<g transform="translate(851.0 1252.1)"><g shape-rendering="crispEdges"><rect x="0.00" y="0.00" width="544.60" height="27.73" fill="#fefeb8"/><rect x="0.00" y="27.13" width="227.27" height="27.73" fill="#fefeb8"/><rect x="226.67" y="27.13" width="45.93" height="27.73" fill="#fee89a"/><rect x="272.00" y="27.13" width="45.93" height="27.73" fill="#fed687"/><rect x="317.33" y="27.13" width="45.93" height="27.73" fill="#fee89a"/><rect x="362.67" y="27.13" width="181.93" height="27.73" fill="#fefeb8"/><rect x="0.00" y="54.27" width="181.93" height="27.73" fill="#fefeb8"/><rect x="181.33" y="54.27" width="45.93" height="27.73" fill="#fef6ae"/><rect x="226.67" y="54.27" width="45.93" height="27.73" fill="#fee090"/><rect x="272.00" y="54.27" width="45.93" height="27.73" fill="#fecc7d"/><rect x="317.33" y="54.27" width="45.93" height="27.73" fill="#fee090"/><rect x="362.67" y="54.27" width="181.93" height="27.73" fill="#fefeb8"/><rect x="0.00" y="81.40" width="136.60" height="27.73" fill="#fefeb8"/><rect x="136.00" y="81.40" width="45.93" height="27.73" fill="#feefa4"/><rect x="181.33" y="81.40" width="45.93" height="27.73" fill="#fee090"/><rect x="226.67" y="81.40" width="45.93" height="27.73" fill="#fed687"/><rect x="272.00" y="81.40" width="45.93" height="27.73" fill="#fdb86a"/><rect x="317.33" y="81.40" width="45.93" height="27.73" fill="#fdc274"/><rect x="362.67" y="81.40" width="45.93" height="27.73" fill="#fee89a"/><rect x="408.00" y="81.40" width="136.60" height="27.73" fill="#fefeb8"/><rect x="0.00" y="108.53" width="136.60" height="27.73" fill="#fefeb8"/><rect x="136.00" y="108.53" width="45.93" height="27.73" fill="#feefa4"/><rect x="181.33" y="108.53" width="45.93" height="27.73" fill="#fee090"/><rect x="226.67" y="108.53" width="45.93" height="27.73" fill="#fed687"/><rect x="272.00" y="108.53" width="45.93" height="27.73" fill="#fdc274"/><rect x="317.33" y="108.53" width="45.93" height="27.73" fill="#fed687"/><rect x="362.67" y="108.53" width="45.93" height="27.73" fill="#fee090"/><rect x="408.00" y="108.53" width="45.93" height="27.73" fill="#feefa4"/><rect x="453.33" y="108.53" width="91.27" height="27.73" fill="#fefeb8"/><rect x="0.00" y="135.67" width="91.27" height="27.73" fill="#fefeb8"/><rect x="90.67" y="135.67" width="45.93" height="27.73" fill="#fef6ae"/><rect x="136.00" y="135.67" width="45.93" height="27.73" fill="#fee89a"/><rect x="181.33" y="135.67" width="45.93" height="27.73" fill="#fee090"/><rect x="226.67" y="135.67" width="91.27" height="27.73" fill="#fed687"/><rect x="317.33" y="135.67" width="45.93" height="27.73" fill="#fee090"/><rect x="362.67" y="135.67" width="91.27" height="27.73" fill="#fee89a"/><rect x="453.33" y="135.67" width="91.27" height="27.73" fill="#fefeb8"/><rect x="0.00" y="162.80" width="45.93" height="27.73" fill="#feefa4"/><rect x="45.33" y="162.80" width="45.93" height="27.73" fill="#fef6ae"/><rect x="90.67" y="162.80" width="91.27" height="27.73" fill="#feefa4"/><rect x="181.33" y="162.80" width="45.93" height="27.73" fill="#fee89a"/><rect x="226.67" y="162.80" width="45.93" height="27.73" fill="#fee090"/><rect x="272.00" y="162.80" width="45.93" height="27.73" fill="#fee89a"/><rect x="317.33" y="162.80" width="136.60" height="27.73" fill="#feefa4"/><rect x="453.33" y="162.80" width="91.27" height="27.73" fill="#fef6ae"/><rect x="0.00" y="189.93" width="91.27" height="27.73" fill="#feefa4"/><rect x="90.67" y="189.93" width="45.93" height="27.73" fill="#fef6ae"/><rect x="136.00" y="189.93" width="45.93" height="27.73" fill="#feefa4"/><rect x="181.33" y="189.93" width="136.60" height="27.73" fill="#fee090"/><rect x="317.33" y="189.93" width="45.93" height="27.73" fill="#fee89a"/><rect x="362.67" y="189.93" width="91.27" height="27.73" fill="#feefa4"/><rect x="453.33" y="189.93" width="45.93" height="27.73" fill="#fef6ae"/><rect x="498.67" y="189.93" width="45.93" height="27.73" fill="#fee89a"/><rect x="0.00" y="217.07" width="45.93" height="27.73" fill="#fdc274"/><rect x="45.33" y="217.07" width="45.93" height="27.73" fill="#fdae61"/><rect x="90.67" y="217.07" width="45.93" height="27.73" fill="#f99455"/><rect x="136.00" y="217.07" width="45.93" height="27.73" fill="#f46d43"/><rect x="181.33" y="217.07" width="45.93" height="27.73" fill="#f8874f"/><rect x="226.67" y="217.07" width="45.93" height="27.73" fill="#fecc7d"/><rect x="272.00" y="217.07" width="91.27" height="27.73" fill="#fee89a"/><rect x="362.67" y="217.07" width="181.93" height="27.73" fill="#fee090"/><rect x="0.00" y="244.20" width="45.93" height="27.73" fill="#fdae61"/><rect x="45.33" y="244.20" width="91.27" height="27.73" fill="#fee090"/><rect x="136.00" y="244.20" width="45.93" height="27.73" fill="#fee89a"/><rect x="181.33" y="244.20" width="45.93" height="27.73" fill="#feefa4"/><rect x="226.67" y="244.20" width="45.93" height="27.73" fill="#fed687"/><rect x="272.00" y="244.20" width="45.93" height="27.73" fill="#fdc274"/><rect x="317.33" y="244.20" width="45.93" height="27.73" fill="#fdb86a"/><rect x="362.67" y="244.20" width="45.93" height="27.73" fill="#f99455"/><rect x="408.00" y="244.20" width="45.93" height="27.73" fill="#f46d43"/><rect x="453.33" y="244.20" width="45.93" height="27.73" fill="#f8874f"/><rect x="498.67" y="244.20" width="45.93" height="27.73" fill="#fdae61"/><rect x="0.00" y="271.33" width="45.93" height="27.73" fill="#fdae61"/><rect x="45.33" y="271.33" width="45.93" height="27.73" fill="#fdc274"/><rect x="90.67" y="271.33" width="91.27" height="27.73" fill="#fee090"/><rect x="181.33" y="271.33" width="227.27" height="27.73" fill="#fed687"/><rect x="408.00" y="271.33" width="45.93" height="27.73" fill="#fecc7d"/><rect x="453.33" y="271.33" width="45.93" height="27.73" fill="#f46d43"/><rect x="498.67" y="271.33" width="45.93" height="27.73" fill="#f67a49"/><rect x="0.00" y="298.47" width="91.27" height="27.73" fill="#fdc274"/><rect x="90.67" y="298.47" width="45.93" height="27.73" fill="#fdb86a"/><rect x="136.00" y="298.47" width="45.93" height="27.73" fill="#fecc7d"/><rect x="181.33" y="298.47" width="45.93" height="27.73" fill="#fed687"/><rect x="226.67" y="298.47" width="91.27" height="27.73" fill="#feefa4"/><rect x="317.33" y="298.47" width="45.93" height="27.73" fill="#fee89a"/><rect x="362.67" y="298.47" width="91.27" height="27.73" fill="#fed687"/><rect x="453.33" y="298.47" width="45.93" height="27.73" fill="#fee090"/><rect x="498.67" y="298.47" width="45.93" height="27.73" fill="#fecc7d"/><rect x="0.00" y="325.60" width="45.93" height="27.73" fill="#fdae61"/><rect x="45.33" y="325.60" width="45.93" height="27.73" fill="#fed687"/><rect x="90.67" y="325.60" width="91.27" height="27.73" fill="#fee090"/><rect x="181.33" y="325.60" width="45.93" height="27.73" fill="#fef6ae"/><rect x="226.67" y="325.60" width="136.60" height="27.73" fill="#fefeb8"/><rect x="362.67" y="325.60" width="45.93" height="27.73" fill="#feefa4"/><rect x="408.00" y="325.60" width="45.93" height="27.73" fill="#fee090"/><rect x="453.33" y="325.60" width="45.93" height="27.73" fill="#f8874f"/><rect x="498.67" y="325.60" width="45.93" height="27.73" fill="#f67a49"/><rect x="0.00" y="352.73" width="45.93" height="27.73" fill="#fee89a"/><rect x="45.33" y="352.73" width="91.27" height="27.73" fill="#fef6ae"/><rect x="136.00" y="352.73" width="317.93" height="27.73" fill="#fefeb8"/><rect x="453.33" y="352.73" width="45.93" height="27.73" fill="#fef6ae"/><rect x="498.67" y="352.73" width="45.93" height="27.73" fill="#fee89a"/><rect x="0.00" y="379.87" width="499.27" height="27.73" fill="#fefeb8"/><rect x="498.67" y="379.87" width="45.93" height="27.73" fill="#feefa4"/></g><g fill="#0d0d0d"><circle cx="22.7" cy="13.6" r="4.1"/><circle cx="68.0" cy="13.6" r="4.1"/><circle cx="113.3" cy="13.6" r="4.1"/><circle cx="158.7" cy="13.6" r="4.1"/><circle cx="204.0" cy="13.6" r="4.1"/><circle cx="249.3" cy="13.6" r="4.1"/><circle cx="294.7" cy="13.6" r="4.1"/><circle cx="385.3" cy="13.6" r="4.1"/><circle cx="430.7" cy="13.6" r="4.1"/><circle cx="476.0" cy="13.6" r="4.1"/><circle cx="521.3" cy="13.6" r="4.1"/><circle cx="22.7" cy="40.7" r="4.1"/><circle cx="68.0" cy="40.7" r="4.1"/><circle cx="113.3" cy="40.7" r="4.1"/><circle cx="158.7" cy="40.7" r="4.1"/><circle cx="430.7" cy="40.7" r="4.1"/><circle cx="476.0" cy="40.7" r="4.1"/><circle cx="521.3" cy="40.7" r="4.1"/><circle cx="22.7" cy="67.8" r="4.1"/><circle cx="68.0" cy="67.8" r="4.1"/><circle cx="113.3" cy="67.8" r="4.1"/><circle cx="430.7" cy="67.8" r="4.1"/><circle cx="476.0" cy="67.8" r="4.1"/><circle cx="521.3" cy="67.8" r="4.1"/><circle cx="22.7" cy="122.1" r="4.1"/><circle cx="521.3" cy="122.1" r="4.1"/><circle cx="158.7" cy="366.3" r="4.1"/><circle cx="249.3" cy="366.3" r="4.1"/><circle cx="158.7" cy="393.4" r="4.1"/><circle cx="204.0" cy="393.4" r="4.1"/><circle cx="249.3" cy="393.4" r="4.1"/><circle cx="294.7" cy="393.4" r="4.1"/><circle cx="340.0" cy="393.4" r="4.1"/><circle cx="385.3" cy="393.4" r="4.1"/></g><path d="M22.7 0v5.6M22.7 407.0v-5.6M68.0 0v5.6M68.0 407.0v-5.6M113.3 0v5.6M113.3 407.0v-5.6M158.7 0v5.6M158.7 407.0v-5.6M204.0 0v5.6M204.0 407.0v-5.6M249.3 0v5.6M249.3 407.0v-5.6M294.7 0v5.6M294.7 407.0v-5.6M340.0 0v5.6M340.0 407.0v-5.6M385.3 0v5.6M385.3 407.0v-5.6M430.7 0v5.6M430.7 407.0v-5.6M476.0 0v5.6M476.0 407.0v-5.6M521.3 0v5.6M521.3 407.0v-5.6M0 81.4h5.6M544.0 81.4h-5.6M0 162.8h5.6M544.0 162.8h-5.6M0 244.2h5.6M544.0 244.2h-5.6M0 325.6h5.6M544.0 325.6h-5.6" stroke="#1c1c1c" stroke-width="1.7" fill="none"/><rect x="0" y="0" width="544.0" height="407.0" fill="none" stroke="#1c1c1c" stroke-width="2.1"/></g>
<text transform="translate(833.5 1267.1) scale(1.035 1)" font-family="Liberation Sans, Arial, Helvetica, sans-serif" font-size="40.5" text-anchor="end" fill="#222222" stroke="#222222" stroke-width="0.5">-90</text>
<text transform="translate(833.5 1348.5) scale(1.035 1)" font-family="Liberation Sans, Arial, Helvetica, sans-serif" font-size="40.5" text-anchor="end" fill="#222222" stroke="#222222" stroke-width="0.5">-60</text>
<text transform="translate(833.5 1429.9) scale(1.035 1)" font-family="Liberation Sans, Arial, Helvetica, sans-serif" font-size="40.5" text-anchor="end" fill="#222222" stroke="#222222" stroke-width="0.5">-30</text>
<text transform="translate(833.5 1511.3) scale(1.035 1)" font-family="Liberation Sans, Arial, Helvetica, sans-serif" font-size="40.5" text-anchor="end" fill="#222222" stroke="#222222" stroke-width="0.5">0</text>
<text transform="translate(833.5 1592.7) scale(1.035 1)" font-family="Liberation Sans, Arial, Helvetica, sans-serif" font-size="40.5" text-anchor="end" fill="#222222" stroke="#222222" stroke-width="0.5">30</text>
<text transform="translate(833.5 1674.1) scale(1.035 1)" font-family="Liberation Sans, Arial, Helvetica, sans-serif" font-size="40.5" text-anchor="end" fill="#222222" stroke="#222222" stroke-width="0.5">60</text>
<text transform="translate(873.7 1713.1) scale(1.035 1)" font-family="Liberation Sans, Arial, Helvetica, sans-serif" font-size="40.5" text-anchor="middle" fill="#222222" stroke="#222222" stroke-width="0.5">J</text>
<text transform="translate(919.0 1713.1) scale(1.035 1)" font-family="Liberation Sans, Arial, Helvetica, sans-serif" font-size="40.5" text-anchor="middle" fill="#222222" stroke="#222222" stroke-width="0.5">F</text>
<text transform="translate(964.3 1713.1) scale(1.035 1)" font-family="Liberation Sans, Arial, Helvetica, sans-serif" font-size="40.5" text-anchor="middle" fill="#222222" stroke="#222222" stroke-width="0.5">M</text>
<text transform="translate(1009.7 1713.1) scale(1.035 1)" font-family="Liberation Sans, Arial, Helvetica, sans-serif" font-size="40.5" text-anchor="middle" fill="#222222" stroke="#222222" stroke-width="0.5">A</text>
<text transform="translate(1055.0 1713.1) scale(1.035 1)" font-family="Liberation Sans, Arial, Helvetica, sans-serif" font-size="40.5" text-anchor="middle" fill="#222222" stroke="#222222" stroke-width="0.5">M</text>
<text transform="translate(1100.3 1713.1) scale(1.035 1)" font-family="Liberation Sans, Arial, Helvetica, sans-serif" font-size="40.5" text-anchor="middle" fill="#222222" stroke="#222222" stroke-width="0.5">J</text>
<text transform="translate(1145.7 1713.1) scale(1.035 1)" font-family="Liberation Sans, Arial, Helvetica, sans-serif" font-size="40.5" text-anchor="middle" fill="#222222" stroke="#222222" stroke-width="0.5">J</text>
<text transform="translate(1191.0 1713.1) scale(1.035 1)" font-family="Liberation Sans, Arial, Helvetica, sans-serif" font-size="40.5" text-anchor="middle" fill="#222222" stroke="#222222" stroke-width="0.5">A</text>
<text transform="translate(1236.3 1713.1) scale(1.035 1)" font-family="Liberation Sans, Arial, Helvetica, sans-serif" font-size="40.5" text-anchor="middle" fill="#222222" stroke="#222222" stroke-width="0.5">S</text>
<text transform="translate(1281.7 1713.1) scale(1.035 1)" font-family="Liberation Sans, Arial, Helvetica, sans-serif" font-size="40.5" text-anchor="middle" fill="#222222" stroke="#222222" stroke-width="0.5">O</text>
<text transform="translate(1327.0 1713.1) scale(1.035 1)" font-family="Liberation Sans, Arial, Helvetica, sans-serif" font-size="40.5" text-anchor="middle" fill="#222222" stroke="#222222" stroke-width="0.5">N</text>
<text transform="translate(1372.3 1713.1) scale(1.035 1)" font-family="Liberation Sans, Arial, Helvetica, sans-serif" font-size="40.5" text-anchor="middle" fill="#222222" stroke="#222222" stroke-width="0.5">D</text>
<g transform="translate(1566.1 1252.1)"><g shape-rendering="crispEdges"><rect x="0.00" y="0.00" width="544.60" height="27.73" fill="#fefeb8"/><rect x="0.00" y="27.13" width="544.60" height="27.73" fill="#fefeb8"/><rect x="0.00" y="54.27" width="544.60" height="27.73" fill="#fefeb8"/><rect x="0.00" y="81.40" width="181.93" height="27.73" fill="#fefeb8"/><rect x="181.33" y="81.40" width="45.93" height="27.73" fill="#ffffde"/><rect x="226.67" y="81.40" width="317.93" height="27.73" fill="#fefeb8"/><rect x="0.00" y="108.53" width="544.60" height="27.73" fill="#fefeb8"/><rect x="0.00" y="135.67" width="136.60" height="27.73" fill="#fefeb8"/><rect x="136.00" y="135.67" width="45.93" height="27.73" fill="#fefab3"/><rect x="181.33" y="135.67" width="227.27" height="27.73" fill="#fefeb8"/><rect x="408.00" y="135.67" width="45.93" height="27.73" fill="#fefab3"/><rect x="453.33" y="135.67" width="91.27" height="27.73" fill="#fefeb8"/><rect x="0.00" y="162.80" width="544.60" height="27.73" fill="#fefeb8"/><rect x="0.00" y="189.93" width="45.93" height="27.73" fill="#fef3a9"/><rect x="45.33" y="189.93" width="45.93" height="27.73" fill="#fef6ae"/><rect x="90.67" y="189.93" width="91.27" height="27.73" fill="#fefab3"/><rect x="181.33" y="189.93" width="91.27" height="27.73" fill="#fef6ae"/><rect x="272.00" y="189.93" width="181.93" height="27.73" fill="#fefeb8"/><rect x="453.33" y="189.93" width="45.93" height="27.73" fill="#fefab3"/><rect x="498.67" y="189.93" width="45.93" height="27.73" fill="#feefa4"/><rect x="0.00" y="217.07" width="45.93" height="27.73" fill="#feefa4"/><rect x="45.33" y="217.07" width="45.93" height="27.73" fill="#feeb9f"/><rect x="90.67" y="217.07" width="45.93" height="27.73" fill="#fee89a"/><rect x="136.00" y="217.07" width="45.93" height="27.73" fill="#fedb8b"/><rect x="181.33" y="217.07" width="45.93" height="27.73" fill="#feefa4"/><rect x="226.67" y="217.07" width="45.93" height="27.73" fill="#fef6ae"/><rect x="272.00" y="217.07" width="181.93" height="27.73" fill="#feefa4"/><rect x="453.33" y="217.07" width="91.27" height="27.73" fill="#fef6ae"/><rect x="0.00" y="244.20" width="45.93" height="27.73" fill="#feeb9f"/><rect x="45.33" y="244.20" width="45.93" height="27.73" fill="#feefa4"/><rect x="90.67" y="244.20" width="45.93" height="27.73" fill="#feeb9f"/><rect x="136.00" y="244.20" width="91.27" height="27.73" fill="#fefeb8"/><rect x="226.67" y="244.20" width="45.93" height="27.73" fill="#fefab3"/><rect x="272.00" y="244.20" width="45.93" height="27.73" fill="#fef3a9"/><rect x="317.33" y="244.20" width="45.93" height="27.73" fill="#fee495"/><rect x="362.67" y="244.20" width="45.93" height="27.73" fill="#fee89a"/><rect x="408.00" y="244.20" width="45.93" height="27.73" fill="#fedb8b"/><rect x="453.33" y="244.20" width="91.27" height="27.73" fill="#fee89a"/><rect x="0.00" y="271.33" width="45.93" height="27.73" fill="#fee89a"/><rect x="45.33" y="271.33" width="45.93" height="27.73" fill="#fefab3"/><rect x="90.67" y="271.33" width="91.27" height="27.73" fill="#fefeb8"/><rect x="181.33" y="271.33" width="45.93" height="27.73" fill="#feefa4"/><rect x="226.67" y="271.33" width="45.93" height="27.73" fill="#feeb9f"/><rect x="272.00" y="271.33" width="91.27" height="27.73" fill="#feefa4"/><rect x="362.67" y="271.33" width="45.93" height="27.73" fill="#fee495"/><rect x="408.00" y="271.33" width="91.27" height="27.73" fill="#fedb8b"/><rect x="498.67" y="271.33" width="45.93" height="27.73" fill="#fee89a"/><rect x="0.00" y="298.47" width="136.60" height="27.73" fill="#fefeb8"/><rect x="136.00" y="298.47" width="45.93" height="27.73" fill="#fefab3"/><rect x="181.33" y="298.47" width="45.93" height="27.73" fill="#feeb9f"/><rect x="226.67" y="298.47" width="45.93" height="27.73" fill="#fef3a9"/><rect x="272.00" y="298.47" width="45.93" height="27.73" fill="#feefa4"/><rect x="317.33" y="298.47" width="136.60" height="27.73" fill="#feeb9f"/><rect x="453.33" y="298.47" width="91.27" height="27.73" fill="#fef6ae"/><rect x="0.00" y="325.60" width="544.60" height="27.73" fill="#fefeb8"/><rect x="0.00" y="352.73" width="544.60" height="27.73" fill="#fefeb8"/><rect x="0.00" y="379.87" width="544.60" height="27.73" fill="#fefeb8"/></g><g fill="#0d0d0d"><circle cx="22.7" cy="13.6" r="4.1"/><circle cx="68.0" cy="13.6" r="4.1"/><circle cx="113.3" cy="13.6" r="4.1"/><circle cx="158.7" cy="13.6" r="4.1"/><circle cx="204.0" cy="13.6" r="4.1"/><circle cx="249.3" cy="13.6" r="4.1"/><circle cx="294.7" cy="13.6" r="4.1"/><circle cx="340.0" cy="13.6" r="4.1"/><circle cx="385.3" cy="13.6" r="4.1"/><circle cx="430.7" cy="13.6" r="4.1"/><circle cx="476.0" cy="13.6" r="4.1"/><circle cx="521.3" cy="13.6" r="4.1"/><circle cx="22.7" cy="40.7" r="4.1"/><circle cx="113.3" cy="40.7" r="4.1"/><circle cx="158.7" cy="40.7" r="4.1"/><circle cx="204.0" cy="40.7" r="4.1"/><circle cx="249.3" cy="40.7" r="4.1"/><circle cx="294.7" cy="40.7" r="4.1"/><circle cx="340.0" cy="40.7" r="4.1"/><circle cx="385.3" cy="40.7" r="4.1"/><circle cx="430.7" cy="40.7" r="4.1"/><circle cx="476.0" cy="40.7" r="4.1"/><circle cx="521.3" cy="40.7" r="4.1"/><circle cx="22.7" cy="67.8" r="4.1"/><circle cx="68.0" cy="67.8" r="4.1"/><circle cx="113.3" cy="67.8" r="4.1"/><circle cx="158.7" cy="67.8" r="4.1"/><circle cx="204.0" cy="67.8" r="4.1"/><circle cx="249.3" cy="67.8" r="4.1"/><circle cx="294.7" cy="67.8" r="4.1"/><circle cx="385.3" cy="67.8" r="4.1"/><circle cx="430.7" cy="67.8" r="4.1"/><circle cx="476.0" cy="67.8" r="4.1"/><circle cx="521.3" cy="67.8" r="4.1"/><circle cx="22.7" cy="95.0" r="4.1"/><circle cx="68.0" cy="95.0" r="4.1"/><circle cx="113.3" cy="95.0" r="4.1"/><circle cx="158.7" cy="95.0" r="4.1"/><circle cx="249.3" cy="95.0" r="4.1"/><circle cx="294.7" cy="95.0" r="4.1"/><circle cx="385.3" cy="95.0" r="4.1"/><circle cx="430.7" cy="95.0" r="4.1"/><circle cx="476.0" cy="95.0" r="4.1"/><circle cx="521.3" cy="95.0" r="4.1"/><circle cx="22.7" cy="122.1" r="4.1"/><circle cx="68.0" cy="122.1" r="4.1"/><circle cx="113.3" cy="122.1" r="4.1"/><circle cx="158.7" cy="122.1" r="4.1"/><circle cx="204.0" cy="122.1" r="4.1"/><circle cx="249.3" cy="122.1" r="4.1"/><circle cx="294.7" cy="122.1" r="4.1"/><circle cx="340.0" cy="122.1" r="4.1"/><circle cx="385.3" cy="122.1" r="4.1"/><circle cx="430.7" cy="122.1" r="4.1"/><circle cx="476.0" cy="122.1" r="4.1"/><circle cx="22.7" cy="149.2" r="4.1"/><circle cx="68.0" cy="149.2" r="4.1"/><circle cx="113.3" cy="149.2" r="4.1"/><circle cx="158.7" cy="149.2" r="4.1"/><circle cx="204.0" cy="149.2" r="4.1"/><circle cx="249.3" cy="149.2" r="4.1"/><circle cx="294.7" cy="149.2" r="4.1"/><circle cx="340.0" cy="149.2" r="4.1"/><circle cx="385.3" cy="149.2" r="4.1"/><circle cx="430.7" cy="149.2" r="4.1"/><circle cx="476.0" cy="149.2" r="4.1"/><circle cx="521.3" cy="149.2" r="4.1"/><circle cx="22.7" cy="176.4" r="4.1"/><circle cx="68.0" cy="176.4" r="4.1"/><circle cx="113.3" cy="176.4" r="4.1"/><circle cx="158.7" cy="176.4" r="4.1"/><circle cx="204.0" cy="176.4" r="4.1"/><circle cx="249.3" cy="176.4" r="4.1"/><circle cx="294.7" cy="176.4" r="4.1"/><circle cx="385.3" cy="176.4" r="4.1"/><circle cx="521.3" cy="176.4" r="4.1"/><circle cx="294.7" cy="203.5" r="4.1"/><circle cx="340.0" cy="203.5" r="4.1"/><circle cx="385.3" cy="203.5" r="4.1"/><circle cx="430.7" cy="203.5" r="4.1"/><circle cx="22.7" cy="312.0" r="4.1"/><circle cx="68.0" cy="312.0" r="4.1"/><circle cx="113.3" cy="312.0" r="4.1"/><circle cx="22.7" cy="339.2" r="4.1"/><circle cx="68.0" cy="339.2" r="4.1"/><circle cx="113.3" cy="339.2" r="4.1"/><circle cx="158.7" cy="339.2" r="4.1"/><circle cx="204.0" cy="339.2" r="4.1"/><circle cx="294.7" cy="339.2" r="4.1"/><circle cx="340.0" cy="339.2" r="4.1"/><circle cx="385.3" cy="339.2" r="4.1"/><circle cx="430.7" cy="339.2" r="4.1"/><circle cx="476.0" cy="339.2" r="4.1"/><circle cx="521.3" cy="339.2" r="4.1"/><circle cx="22.7" cy="366.3" r="4.1"/><circle cx="68.0" cy="366.3" r="4.1"/><circle cx="113.3" cy="366.3" r="4.1"/><circle cx="204.0" cy="366.3" r="4.1"/><circle cx="249.3" cy="366.3" r="4.1"/><circle cx="294.7" cy="366.3" r="4.1"/><circle cx="340.0" cy="366.3" r="4.1"/><circle cx="385.3" cy="366.3" r="4.1"/><circle cx="430.7" cy="366.3" r="4.1"/><circle cx="476.0" cy="366.3" r="4.1"/><circle cx="521.3" cy="366.3" r="4.1"/><circle cx="22.7" cy="393.4" r="4.1"/><circle cx="68.0" cy="393.4" r="4.1"/><circle cx="158.7" cy="393.4" r="4.1"/><circle cx="204.0" cy="393.4" r="4.1"/><circle cx="249.3" cy="393.4" r="4.1"/><circle cx="340.0" cy="393.4" r="4.1"/><circle cx="385.3" cy="393.4" r="4.1"/><circle cx="430.7" cy="393.4" r="4.1"/><circle cx="476.0" cy="393.4" r="4.1"/><circle cx="521.3" cy="393.4" r="4.1"/></g><path d="M22.7 0v5.6M22.7 407.0v-5.6M68.0 0v5.6M68.0 407.0v-5.6M113.3 0v5.6M113.3 407.0v-5.6M158.7 0v5.6M158.7 407.0v-5.6M204.0 0v5.6M204.0 407.0v-5.6M249.3 0v5.6M249.3 407.0v-5.6M294.7 0v5.6M294.7 407.0v-5.6M340.0 0v5.6M340.0 407.0v-5.6M385.3 0v5.6M385.3 407.0v-5.6M430.7 0v5.6M430.7 407.0v-5.6M476.0 0v5.6M476.0 407.0v-5.6M521.3 0v5.6M521.3 407.0v-5.6M0 81.4h5.6M544.0 81.4h-5.6M0 162.8h5.6M544.0 162.8h-5.6M0 244.2h5.6M544.0 244.2h-5.6M0 325.6h5.6M544.0 325.6h-5.6" stroke="#1c1c1c" stroke-width="1.7" fill="none"/><rect x="0" y="0" width="544.0" height="407.0" fill="none" stroke="#1c1c1c" stroke-width="2.1"/></g>
<text transform="translate(1548.6 1267.1) scale(1.035 1)" font-family="Liberation Sans, Arial, Helvetica, sans-serif" font-size="40.5" text-anchor="end" fill="#222222" stroke="#222222" stroke-width="0.5">-90</text>
<text transform="translate(1548.6 1348.5) scale(1.035 1)" font-family="Liberation Sans, Arial, Helvetica, sans-serif" font-size="40.5" text-anchor="end" fill="#222222" stroke="#222222" stroke-width="0.5">-60</text>
<text transform="translate(1548.6 1429.9) scale(1.035 1)" font-family="Liberation Sans, Arial, Helvetica, sans-serif" font-size="40.5" text-anchor="end" fill="#222222" stroke="#222222" stroke-width="0.5">-30</text>
<text transform="translate(1548.6 1511.3) scale(1.035 1)" font-family="Liberation Sans, Arial, Helvetica, sans-serif" font-size="40.5" text-anchor="end" fill="#222222" stroke="#222222" stroke-width="0.5">0</text>
<text transform="translate(1548.6 1592.7) scale(1.035 1)" font-family="Liberation Sans, Arial, Helvetica, sans-serif" font-size="40.5" text-anchor="end" fill="#222222" stroke="#222222" stroke-width="0.5">30</text>
<text transform="translate(1548.6 1674.1) scale(1.035 1)" font-family="Liberation Sans, Arial, Helvetica, sans-serif" font-size="40.5" text-anchor="end" fill="#222222" stroke="#222222" stroke-width="0.5">60</text>
<text transform="translate(1588.8 1713.1) scale(1.035 1)" font-family="Liberation Sans, Arial, Helvetica, sans-serif" font-size="40.5" text-anchor="middle" fill="#222222" stroke="#222222" stroke-width="0.5">J</text>
<text transform="translate(1634.1 1713.1) scale(1.035 1)" font-family="Liberation Sans, Arial, Helvetica, sans-serif" font-size="40.5" text-anchor="middle" fill="#222222" stroke="#222222" stroke-width="0.5">F</text>
<text transform="translate(1679.4 1713.1) scale(1.035 1)" font-family="Liberation Sans, Arial, Helvetica, sans-serif" font-size="40.5" text-anchor="middle" fill="#222222" stroke="#222222" stroke-width="0.5">M</text>
<text transform="translate(1724.8 1713.1) scale(1.035 1)" font-family="Liberation Sans, Arial, Helvetica, sans-serif" font-size="40.5" text-anchor="middle" fill="#222222" stroke="#222222" stroke-width="0.5">A</text>
<text transform="translate(1770.1 1713.1) scale(1.035 1)" font-family="Liberation Sans, Arial, Helvetica, sans-serif" font-size="40.5" text-anchor="middle" fill="#222222" stroke="#222222" stroke-width="0.5">M</text>
<text transform="translate(1815.4 1713.1) scale(1.035 1)" font-family="Liberation Sans, Arial, Helvetica, sans-serif" font-size="40.5" text-anchor="middle" fill="#222222" stroke="#222222" stroke-width="0.5">J</text>
<text transform="translate(1860.8 1713.1) scale(1.035 1)" font-family="Liberation Sans, Arial, Helvetica, sans-serif" font-size="40.5" text-anchor="middle" fill="#222222" stroke="#222222" stroke-width="0.5">J</text>
<text transform="translate(1906.1 1713.1) scale(1.035 1)" font-family="Liberation Sans, Arial, Helvetica, sans-serif" font-size="40.5" text-anchor="middle" fill="#222222" stroke="#222222" stroke-width="0.5">A</text>
<text transform="translate(1951.4 1713.1) scale(1.035 1)" font-family="Liberation Sans, Arial, Helvetica, sans-serif" font-size="40.5" text-anchor="middle" fill="#222222" stroke="#222222" stroke-width="0.5">S</text>
<text transform="translate(1996.8 1713.1) scale(1.035 1)" font-family="Liberation Sans, Arial, Helvetica, sans-serif" font-size="40.5" text-anchor="middle" fill="#222222" stroke="#222222" stroke-width="0.5">O</text>
<text transform="translate(2042.1 1713.1) scale(1.035 1)" font-family="Liberation Sans, Arial, Helvetica, sans-serif" font-size="40.5" text-anchor="middle" fill="#222222" stroke="#222222" stroke-width="0.5">N</text>
<text transform="translate(2087.4 1713.1) scale(1.035 1)" font-family="Liberation Sans, Arial, Helvetica, sans-serif" font-size="40.5" text-anchor="middle" fill="#222222" stroke="#222222" stroke-width="0.5">D</text>
<g transform="translate(136.0 1845.6)"><g shape-rendering="crispEdges"><rect x="0.00" y="0.00" width="544.60" height="27.73" fill="#fefeb8"/><rect x="0.00" y="27.13" width="272.60" height="27.73" fill="#fefeb8"/><rect x="272.00" y="27.13" width="45.93" height="27.73" fill="#fef6ae"/><rect x="317.33" y="27.13" width="45.93" height="27.73" fill="#fef3a9"/><rect x="362.67" y="27.13" width="181.93" height="27.73" fill="#fefeb8"/><rect x="0.00" y="54.27" width="272.60" height="27.73" fill="#fefeb8"/><rect x="272.00" y="54.27" width="91.27" height="27.73" fill="#fef3a9"/><rect x="362.67" y="54.27" width="45.93" height="27.73" fill="#fefab3"/><rect x="408.00" y="54.27" width="136.60" height="27.73" fill="#fefeb8"/><rect x="0.00" y="81.40" width="227.27" height="27.73" fill="#fefeb8"/><rect x="226.67" y="81.40" width="45.93" height="27.73" fill="#fefab3"/><rect x="272.00" y="81.40" width="272.60" height="27.73" fill="#fefeb8"/><rect x="0.00" y="108.53" width="272.60" height="27.73" fill="#fefeb8"/><rect x="272.00" y="108.53" width="45.93" height="27.73" fill="#fefab3"/><rect x="317.33" y="108.53" width="227.27" height="27.73" fill="#fefeb8"/><rect x="0.00" y="135.67" width="91.27" height="27.73" fill="#fefeb8"/><rect x="90.67" y="135.67" width="45.93" height="27.73" fill="#fefab3"/><rect x="136.00" y="135.67" width="227.27" height="27.73" fill="#fefeb8"/><rect x="362.67" y="135.67" width="45.93" height="27.73" fill="#fefab3"/><rect x="408.00" y="135.67" width="91.27" height="27.73" fill="#fef6ae"/><rect x="498.67" y="135.67" width="45.93" height="27.73" fill="#fefeb8"/><rect x="0.00" y="162.80" width="227.27" height="27.73" fill="#fefeb8"/><rect x="226.67" y="162.80" width="181.93" height="27.73" fill="#fefab3"/><rect x="408.00" y="162.80" width="136.60" height="27.73" fill="#fefeb8"/><rect x="0.00" y="189.93" width="181.93" height="27.73" fill="#fefeb8"/><rect x="181.33" y="189.93" width="45.93" height="27.73" fill="#feefa4"/><rect x="226.67" y="189.93" width="136.60" height="27.73" fill="#fed182"/><rect x="362.67" y="189.93" width="45.93" height="27.73" fill="#fef6ae"/><rect x="408.00" y="189.93" width="45.93" height="27.73" fill="#fefab3"/><rect x="453.33" y="189.93" width="91.27" height="27.73" fill="#fefeb8"/><rect x="0.00" y="217.07" width="45.93" height="27.73" fill="#fef6ae"/><rect x="45.33" y="217.07" width="45.93" height="27.73" fill="#fee495"/><rect x="90.67" y="217.07" width="45.93" height="27.73" fill="#fee89a"/><rect x="136.00" y="217.07" width="45.93" height="27.73" fill="#fee495"/><rect x="181.33" y="217.07" width="45.93" height="27.73" fill="#fee89a"/><rect x="226.67" y="217.07" width="136.60" height="27.73" fill="#feeb9f"/><rect x="362.67" y="217.07" width="91.27" height="27.73" fill="#fefab3"/><rect x="453.33" y="217.07" width="91.27" height="27.73" fill="#fefeb8"/><rect x="0.00" y="244.20" width="181.93" height="27.73" fill="#fee89a"/><rect x="181.33" y="244.20" width="91.27" height="27.73" fill="#fef6ae"/><rect x="272.00" y="244.20" width="45.93" height="27.73" fill="#fef3a9"/><rect x="317.33" y="244.20" width="91.27" height="27.73" fill="#feefa4"/><rect x="408.00" y="244.20" width="45.93" height="27.73" fill="#fee495"/><rect x="453.33" y="244.20" width="45.93" height="27.73" fill="#fedb8b"/><rect x="498.67" y="244.20" width="45.93" height="27.73" fill="#feeb9f"/><rect x="0.00" y="271.33" width="45.93" height="27.73" fill="#fdb86a"/><rect x="45.33" y="271.33" width="45.93" height="27.73" fill="#fedb8b"/><rect x="90.67" y="271.33" width="91.27" height="27.73" fill="#fee89a"/><rect x="181.33" y="271.33" width="45.93" height="27.73" fill="#fef6ae"/><rect x="226.67" y="271.33" width="45.93" height="27.73" fill="#fef3a9"/><rect x="272.00" y="271.33" width="45.93" height="27.73" fill="#fef6ae"/><rect x="317.33" y="271.33" width="91.27" height="27.73" fill="#fef3a9"/><rect x="408.00" y="271.33" width="45.93" height="27.73" fill="#fed687"/><rect x="453.33" y="271.33" width="91.27" height="27.73" fill="#fecc7d"/><rect x="0.00" y="298.47" width="45.93" height="27.73" fill="#fee495"/><rect x="45.33" y="298.47" width="91.27" height="27.73" fill="#fedb8b"/><rect x="136.00" y="298.47" width="45.93" height="27.73" fill="#fee090"/><rect x="181.33" y="298.47" width="45.93" height="27.73" fill="#fef3a9"/><rect x="226.67" y="298.47" width="91.27" height="27.73" fill="#fef6ae"/><rect x="317.33" y="298.47" width="45.93" height="27.73" fill="#feefa4"/><rect x="362.67" y="298.47" width="45.93" height="27.73" fill="#feeb9f"/><rect x="408.00" y="298.47" width="45.93" height="27.73" fill="#fefab3"/><rect x="453.33" y="298.47" width="45.93" height="27.73" fill="#fee89a"/><rect x="498.67" y="298.47" width="45.93" height="27.73" fill="#feeb9f"/><rect x="0.00" y="325.60" width="45.93" height="27.73" fill="#fefab3"/><rect x="45.33" y="325.60" width="91.27" height="27.73" fill="#fefeb8"/><rect x="136.00" y="325.60" width="91.27" height="27.73" fill="#fef6ae"/><rect x="226.67" y="325.60" width="45.93" height="27.73" fill="#fefab3"/><rect x="272.00" y="325.60" width="181.93" height="27.73" fill="#fefeb8"/><rect x="453.33" y="325.60" width="45.93" height="27.73" fill="#feeb9f"/><rect x="498.67" y="325.60" width="45.93" height="27.73" fill="#fef6ae"/><rect x="0.00" y="352.73" width="453.93" height="27.73" fill="#fefeb8"/><rect x="453.33" y="352.73" width="45.93" height="27.73" fill="#fef6ae"/><rect x="498.67" y="352.73" width="45.93" height="27.73" fill="#fefeb8"/><rect x="0.00" y="379.87" width="499.27" height="27.73" fill="#fefeb8"/><rect x="498.67" y="379.87" width="45.93" height="27.73" fill="#feefa4"/></g><g fill="#0d0d0d"><circle cx="22.7" cy="13.6" r="4.1"/><circle cx="68.0" cy="13.6" r="4.1"/><circle cx="113.3" cy="13.6" r="4.1"/><circle cx="158.7" cy="13.6" r="4.1"/><circle cx="204.0" cy="13.6" r="4.1"/><circle cx="249.3" cy="13.6" r="4.1"/><circle cx="294.7" cy="13.6" r="4.1"/><circle cx="340.0" cy="13.6" r="4.1"/><circle cx="385.3" cy="13.6" r="4.1"/><circle cx="430.7" cy="13.6" r="4.1"/><circle cx="476.0" cy="13.6" r="4.1"/><circle cx="521.3" cy="13.6" r="4.1"/><circle cx="68.0" cy="40.7" r="4.1"/><circle cx="113.3" cy="40.7" r="4.1"/><circle cx="158.7" cy="40.7" r="4.1"/><circle cx="204.0" cy="40.7" r="4.1"/><circle cx="249.3" cy="40.7" r="4.1"/><circle cx="294.7" cy="40.7" r="4.1"/><circle cx="385.3" cy="40.7" r="4.1"/><circle cx="430.7" cy="40.7" r="4.1"/><circle cx="476.0" cy="40.7" r="4.1"/><circle cx="521.3" cy="40.7" r="4.1"/><circle cx="22.7" cy="67.8" r="4.1"/><circle cx="113.3" cy="67.8" r="4.1"/><circle cx="158.7" cy="67.8" r="4.1"/><circle cx="249.3" cy="67.8" r="4.1"/><circle cx="430.7" cy="67.8" r="4.1"/><circle cx="521.3" cy="67.8" r="4.1"/><circle cx="22.7" cy="95.0" r="4.1"/><circle cx="113.3" cy="95.0" r="4.1"/><circle cx="158.7" cy="95.0" r="4.1"/><circle cx="204.0" cy="95.0" r="4.1"/><circle cx="249.3" cy="95.0" r="4.1"/><circle cx="294.7" cy="95.0" r="4.1"/><circle cx="340.0" cy="95.0" r="4.1"/><circle cx="430.7" cy="95.0" r="4.1"/><circle cx="476.0" cy="95.0" r="4.1"/><circle cx="521.3" cy="95.0" r="4.1"/><circle cx="22.7" cy="122.1" r="4.1"/><circle cx="68.0" cy="122.1" r="4.1"/><circle cx="113.3" cy="122.1" r="4.1"/><circle cx="158.7" cy="122.1" r="4.1"/><circle cx="204.0" cy="122.1" r="4.1"/><circle cx="249.3" cy="122.1" r="4.1"/><circle cx="294.7" cy="122.1" r="4.1"/><circle cx="340.0" cy="122.1" r="4.1"/><circle cx="476.0" cy="122.1" r="4.1"/><circle cx="521.3" cy="122.1" r="4.1"/><circle cx="68.0" cy="149.2" r="4.1"/><circle cx="158.7" cy="149.2" r="4.1"/><circle cx="204.0" cy="149.2" r="4.1"/><circle cx="249.3" cy="149.2" r="4.1"/><circle cx="294.7" cy="149.2" r="4.1"/><circle cx="340.0" cy="149.2" r="4.1"/><circle cx="385.3" cy="149.2" r="4.1"/><circle cx="430.7" cy="149.2" r="4.1"/><circle cx="476.0" cy="149.2" r="4.1"/><circle cx="521.3" cy="149.2" r="4.1"/><circle cx="113.3" cy="176.4" r="4.1"/><circle cx="158.7" cy="176.4" r="4.1"/><circle cx="204.0" cy="176.4" r="4.1"/><circle cx="249.3" cy="176.4" r="4.1"/><circle cx="385.3" cy="203.5" r="4.1"/><circle cx="476.0" cy="230.6" r="4.1"/><circle cx="68.0" cy="339.2" r="4.1"/><circle cx="158.7" cy="339.2" r="4.1"/><circle cx="204.0" cy="339.2" r="4.1"/><circle cx="249.3" cy="339.2" r="4.1"/><circle cx="294.7" cy="339.2" r="4.1"/><circle cx="340.0" cy="339.2" r="4.1"/><circle cx="385.3" cy="339.2" r="4.1"/><circle cx="521.3" cy="339.2" r="4.1"/><circle cx="22.7" cy="366.3" r="4.1"/><circle cx="113.3" cy="366.3" r="4.1"/><circle cx="158.7" cy="366.3" r="4.1"/><circle cx="204.0" cy="366.3" r="4.1"/><circle cx="249.3" cy="366.3" r="4.1"/><circle cx="294.7" cy="366.3" r="4.1"/><circle cx="340.0" cy="366.3" r="4.1"/><circle cx="430.7" cy="366.3" r="4.1"/><circle cx="476.0" cy="366.3" r="4.1"/><circle cx="521.3" cy="366.3" r="4.1"/><circle cx="22.7" cy="393.4" r="4.1"/><circle cx="68.0" cy="393.4" r="4.1"/><circle cx="113.3" cy="393.4" r="4.1"/><circle cx="158.7" cy="393.4" r="4.1"/><circle cx="204.0" cy="393.4" r="4.1"/><circle cx="249.3" cy="393.4" r="4.1"/><circle cx="340.0" cy="393.4" r="4.1"/><circle cx="430.7" cy="393.4" r="4.1"/><circle cx="476.0" cy="393.4" r="4.1"/></g><path d="M22.7 0v5.6M22.7 407.0v-5.6M68.0 0v5.6M68.0 407.0v-5.6M113.3 0v5.6M113.3 407.0v-5.6M158.7 0v5.6M158.7 407.0v-5.6M204.0 0v5.6M204.0 407.0v-5.6M249.3 0v5.6M249.3 407.0v-5.6M294.7 0v5.6M294.7 407.0v-5.6M340.0 0v5.6M340.0 407.0v-5.6M385.3 0v5.6M385.3 407.0v-5.6M430.7 0v5.6M430.7 407.0v-5.6M476.0 0v5.6M476.0 407.0v-5.6M521.3 0v5.6M521.3 407.0v-5.6M0 81.4h5.6M544.0 81.4h-5.6M0 162.8h5.6M544.0 162.8h-5.6M0 244.2h5.6M544.0 244.2h-5.6M0 325.6h5.6M544.0 325.6h-5.6" stroke="#1c1c1c" stroke-width="1.7" fill="none"/><rect x="0" y="0" width="544.0" height="407.0" fill="none" stroke="#1c1c1c" stroke-width="2.1"/></g>
<text transform="translate(118.5 1860.6) scale(1.035 1)" font-family="Liberation Sans, Arial, Helvetica, sans-serif" font-size="40.5" text-anchor="end" fill="#222222" stroke="#222222" stroke-width="0.5">-90</text>
<text transform="translate(118.5 1942.0) scale(1.035 1)" font-family="Liberation Sans, Arial, Helvetica, sans-serif" font-size="40.5" text-anchor="end" fill="#222222" stroke="#222222" stroke-width="0.5">-60</text>
<text transform="translate(118.5 2023.4) scale(1.035 1)" font-family="Liberation Sans, Arial, Helvetica, sans-serif" font-size="40.5" text-anchor="end" fill="#222222" stroke="#222222" stroke-width="0.5">-30</text>
<text transform="translate(118.5 2104.8) scale(1.035 1)" font-family="Liberation Sans, Arial, Helvetica, sans-serif" font-size="40.5" text-anchor="end" fill="#222222" stroke="#222222" stroke-width="0.5">0</text>
<text transform="translate(118.5 2186.2) scale(1.035 1)" font-family="Liberation Sans, Arial, Helvetica, sans-serif" font-size="40.5" text-anchor="end" fill="#222222" stroke="#222222" stroke-width="0.5">30</text>
<text transform="translate(118.5 2267.6) scale(1.035 1)" font-family="Liberation Sans, Arial, Helvetica, sans-serif" font-size="40.5" text-anchor="end" fill="#222222" stroke="#222222" stroke-width="0.5">60</text>
<text transform="translate(158.7 2306.6) scale(1.035 1)" font-family="Liberation Sans, Arial, Helvetica, sans-serif" font-size="40.5" text-anchor="middle" fill="#222222" stroke="#222222" stroke-width="0.5">J</text>
<text transform="translate(204.0 2306.6) scale(1.035 1)" font-family="Liberation Sans, Arial, Helvetica, sans-serif" font-size="40.5" text-anchor="middle" fill="#222222" stroke="#222222" stroke-width="0.5">F</text>
<text transform="translate(249.3 2306.6) scale(1.035 1)" font-family="Liberation Sans, Arial, Helvetica, sans-serif" font-size="40.5" text-anchor="middle" fill="#222222" stroke="#222222" stroke-width="0.5">M</text>
<text transform="translate(294.7 2306.6) scale(1.035 1)" font-family="Liberation Sans, Arial, Helvetica, sans-serif" font-size="40.5" text-anchor="middle" fill="#222222" stroke="#222222" stroke-width="0.5">A</text>
<text transform="translate(340.0 2306.6) scale(1.035 1)" font-family="Liberation Sans, Arial, Helvetica, sans-serif" font-size="40.5" text-anchor="middle" fill="#222222" stroke="#222222" stroke-width="0.5">M</text>
<text transform="translate(385.3 2306.6) scale(1.035 1)" font-family="Liberation Sans, Arial, Helvetica, sans-serif" font-size="40.5" text-anchor="middle" fill="#222222" stroke="#222222" stroke-width="0.5">J</text>
<text transform="translate(430.7 2306.6) scale(1.035 1)" font-family="Liberation Sans, Arial, Helvetica, sans-serif" font-size="40.5" text-anchor="middle" fill="#222222" stroke="#222222" stroke-width="0.5">J</text>
<text transform="translate(476.0 2306.6) scale(1.035 1)" font-family="Liberation Sans, Arial, Helvetica, sans-serif" font-size="40.5" text-anchor="middle" fill="#222222" stroke="#222222" stroke-width="0.5">A</text>
<text transform="translate(521.3 2306.6) scale(1.035 1)" font-family="Liberation Sans, Arial, Helvetica, sans-serif" font-size="40.5" text-anchor="middle" fill="#222222" stroke="#222222" stroke-width="0.5">S</text>
<text transform="translate(566.7 2306.6) scale(1.035 1)" font-family="Liberation Sans, Arial, Helvetica, sans-serif" font-size="40.5" text-anchor="middle" fill="#222222" stroke="#222222" stroke-width="0.5">O</text>
<text transform="translate(612.0 2306.6) scale(1.035 1)" font-family="Liberation Sans, Arial, Helvetica, sans-serif" font-size="40.5" text-anchor="middle" fill="#222222" stroke="#222222" stroke-width="0.5">N</text>
<text transform="translate(657.3 2306.6) scale(1.035 1)" font-family="Liberation Sans, Arial, Helvetica, sans-serif" font-size="40.5" text-anchor="middle" fill="#222222" stroke="#222222" stroke-width="0.5">D</text>
<text transform="translate(36.6 2049.1) rotate(-90) scale(1.012 1)" font-family="Liberation Sans, Arial, Helvetica, sans-serif" font-size="43.5" text-anchor="middle" fill="#222222" stroke="#222222" stroke-width="0.5">Latitude</text>
<g transform="translate(851.0 1845.6)"><g shape-rendering="crispEdges"><rect x="0.00" y="0.00" width="544.60" height="27.73" fill="#fefeb8"/><rect x="0.00" y="27.13" width="317.93" height="27.73" fill="#fefeb8"/><rect x="317.33" y="27.13" width="45.93" height="27.73" fill="#fefab3"/><rect x="362.67" y="27.13" width="181.93" height="27.73" fill="#fefeb8"/><rect x="0.00" y="54.27" width="544.60" height="27.73" fill="#fefeb8"/><rect x="0.00" y="81.40" width="544.60" height="27.73" fill="#fefeb8"/><rect x="0.00" y="108.53" width="544.60" height="27.73" fill="#fefeb8"/><rect x="0.00" y="135.67" width="544.60" height="27.73" fill="#fefeb8"/><rect x="0.00" y="162.80" width="544.60" height="27.73" fill="#fefeb8"/><rect x="0.00" y="189.93" width="544.60" height="27.73" fill="#fefeb8"/><rect x="0.00" y="217.07" width="544.60" height="27.73" fill="#fefeb8"/><rect x="0.00" y="244.20" width="544.60" height="27.73" fill="#fefeb8"/><rect x="0.00" y="271.33" width="544.60" height="27.73" fill="#fefeb8"/><rect x="0.00" y="298.47" width="544.60" height="27.73" fill="#fefeb8"/><rect x="0.00" y="325.60" width="544.60" height="27.73" fill="#fefeb8"/><rect x="0.00" y="352.73" width="544.60" height="27.73" fill="#fefeb8"/><rect x="0.00" y="379.87" width="544.60" height="27.73" fill="#fefeb8"/></g><g fill="#0d0d0d"><circle cx="22.7" cy="13.6" r="4.1"/><circle cx="68.0" cy="13.6" r="4.1"/><circle cx="113.3" cy="13.6" r="4.1"/><circle cx="158.7" cy="13.6" r="4.1"/><circle cx="204.0" cy="13.6" r="4.1"/><circle cx="249.3" cy="13.6" r="4.1"/><circle cx="294.7" cy="13.6" r="4.1"/><circle cx="385.3" cy="13.6" r="4.1"/><circle cx="430.7" cy="13.6" r="4.1"/><circle cx="476.0" cy="13.6" r="4.1"/><circle cx="521.3" cy="13.6" r="4.1"/><circle cx="22.7" cy="40.7" r="4.1"/><circle cx="113.3" cy="40.7" r="4.1"/><circle cx="158.7" cy="40.7" r="4.1"/><circle cx="204.0" cy="40.7" r="4.1"/><circle cx="249.3" cy="40.7" r="4.1"/><circle cx="294.7" cy="40.7" r="4.1"/><circle cx="340.0" cy="40.7" r="4.1"/><circle cx="430.7" cy="40.7" r="4.1"/><circle cx="521.3" cy="40.7" r="4.1"/><circle cx="22.7" cy="67.8" r="4.1"/><circle cx="113.3" cy="67.8" r="4.1"/><circle cx="158.7" cy="67.8" r="4.1"/><circle cx="204.0" cy="67.8" r="4.1"/><circle cx="294.7" cy="67.8" r="4.1"/><circle cx="430.7" cy="67.8" r="4.1"/><circle cx="476.0" cy="67.8" r="4.1"/><circle cx="521.3" cy="67.8" r="4.1"/><circle cx="22.7" cy="95.0" r="4.1"/><circle cx="68.0" cy="95.0" r="4.1"/><circle cx="113.3" cy="95.0" r="4.1"/><circle cx="158.7" cy="95.0" r="4.1"/><circle cx="294.7" cy="95.0" r="4.1"/><circle cx="340.0" cy="95.0" r="4.1"/><circle cx="521.3" cy="95.0" r="4.1"/><circle cx="22.7" cy="122.1" r="4.1"/><circle cx="68.0" cy="122.1" r="4.1"/><circle cx="113.3" cy="122.1" r="4.1"/><circle cx="249.3" cy="122.1" r="4.1"/><circle cx="340.0" cy="122.1" r="4.1"/><circle cx="385.3" cy="122.1" r="4.1"/><circle cx="22.7" cy="149.2" r="4.1"/><circle cx="113.3" cy="149.2" r="4.1"/><circle cx="204.0" cy="149.2" r="4.1"/><circle cx="340.0" cy="149.2" r="4.1"/><circle cx="385.3" cy="149.2" r="4.1"/><circle cx="521.3" cy="149.2" r="4.1"/><circle cx="22.7" cy="176.4" r="4.1"/><circle cx="113.3" cy="176.4" r="4.1"/><circle cx="158.7" cy="176.4" r="4.1"/><circle cx="204.0" cy="176.4" r="4.1"/><circle cx="294.7" cy="176.4" r="4.1"/><circle cx="340.0" cy="176.4" r="4.1"/><circle cx="385.3" cy="176.4" r="4.1"/><circle cx="430.7" cy="176.4" r="4.1"/><circle cx="476.0" cy="176.4" r="4.1"/><circle cx="521.3" cy="176.4" r="4.1"/><circle cx="113.3" cy="203.5" r="4.1"/><circle cx="158.7" cy="203.5" r="4.1"/><circle cx="204.0" cy="203.5" r="4.1"/><circle cx="249.3" cy="203.5" r="4.1"/><circle cx="294.7" cy="203.5" r="4.1"/><circle cx="340.0" cy="203.5" r="4.1"/><circle cx="385.3" cy="203.5" r="4.1"/><circle cx="430.7" cy="203.5" r="4.1"/><circle cx="22.7" cy="230.6" r="4.1"/><circle cx="68.0" cy="230.6" r="4.1"/><circle cx="113.3" cy="230.6" r="4.1"/><circle cx="158.7" cy="230.6" r="4.1"/><circle cx="249.3" cy="230.6" r="4.1"/><circle cx="340.0" cy="230.6" r="4.1"/><circle cx="385.3" cy="230.6" r="4.1"/><circle cx="430.7" cy="230.6" r="4.1"/><circle cx="476.0" cy="230.6" r="4.1"/><circle cx="521.3" cy="230.6" r="4.1"/><circle cx="22.7" cy="257.8" r="4.1"/><circle cx="68.0" cy="257.8" r="4.1"/><circle cx="113.3" cy="257.8" r="4.1"/><circle cx="158.7" cy="257.8" r="4.1"/><circle cx="204.0" cy="257.8" r="4.1"/><circle cx="249.3" cy="257.8" r="4.1"/><circle cx="340.0" cy="257.8" r="4.1"/><circle cx="385.3" cy="257.8" r="4.1"/><circle cx="430.7" cy="257.8" r="4.1"/><circle cx="476.0" cy="257.8" r="4.1"/><circle cx="521.3" cy="257.8" r="4.1"/><circle cx="22.7" cy="284.9" r="4.1"/><circle cx="68.0" cy="284.9" r="4.1"/><circle cx="113.3" cy="284.9" r="4.1"/><circle cx="158.7" cy="284.9" r="4.1"/><circle cx="249.3" cy="284.9" r="4.1"/><circle cx="294.7" cy="284.9" r="4.1"/><circle cx="340.0" cy="284.9" r="4.1"/><circle cx="385.3" cy="284.9" r="4.1"/><circle cx="430.7" cy="284.9" r="4.1"/><circle cx="476.0" cy="284.9" r="4.1"/><circle cx="521.3" cy="284.9" r="4.1"/><circle cx="22.7" cy="312.0" r="4.1"/><circle cx="68.0" cy="312.0" r="4.1"/><circle cx="158.7" cy="312.0" r="4.1"/><circle cx="249.3" cy="312.0" r="4.1"/><circle cx="294.7" cy="312.0" r="4.1"/><circle cx="340.0" cy="312.0" r="4.1"/><circle cx="430.7" cy="312.0" r="4.1"/><circle cx="476.0" cy="312.0" r="4.1"/><circle cx="68.0" cy="339.2" r="4.1"/><circle cx="113.3" cy="339.2" r="4.1"/><circle cx="158.7" cy="339.2" r="4.1"/><circle cx="204.0" cy="339.2" r="4.1"/><circle cx="294.7" cy="339.2" r="4.1"/><circle cx="340.0" cy="339.2" r="4.1"/><circle cx="385.3" cy="339.2" r="4.1"/><circle cx="430.7" cy="339.2" r="4.1"/><circle cx="22.7" cy="366.3" r="4.1"/><circle cx="68.0" cy="366.3" r="4.1"/><circle cx="113.3" cy="366.3" r="4.1"/><circle cx="158.7" cy="366.3" r="4.1"/><circle cx="204.0" cy="366.3" r="4.1"/><circle cx="249.3" cy="366.3" r="4.1"/><circle cx="294.7" cy="366.3" r="4.1"/><circle cx="340.0" cy="366.3" r="4.1"/><circle cx="430.7" cy="366.3" r="4.1"/><circle cx="521.3" cy="366.3" r="4.1"/><circle cx="22.7" cy="393.4" r="4.1"/><circle cx="68.0" cy="393.4" r="4.1"/><circle cx="113.3" cy="393.4" r="4.1"/><circle cx="158.7" cy="393.4" r="4.1"/><circle cx="249.3" cy="393.4" r="4.1"/><circle cx="294.7" cy="393.4" r="4.1"/><circle cx="340.0" cy="393.4" r="4.1"/><circle cx="430.7" cy="393.4" r="4.1"/><circle cx="476.0" cy="393.4" r="4.1"/><circle cx="521.3" cy="393.4" r="4.1"/></g><path d="M22.7 0v5.6M22.7 407.0v-5.6M68.0 0v5.6M68.0 407.0v-5.6M113.3 0v5.6M113.3 407.0v-5.6M158.7 0v5.6M158.7 407.0v-5.6M204.0 0v5.6M204.0 407.0v-5.6M249.3 0v5.6M249.3 407.0v-5.6M294.7 0v5.6M294.7 407.0v-5.6M340.0 0v5.6M340.0 407.0v-5.6M385.3 0v5.6M385.3 407.0v-5.6M430.7 0v5.6M430.7 407.0v-5.6M476.0 0v5.6M476.0 407.0v-5.6M521.3 0v5.6M521.3 407.0v-5.6M0 81.4h5.6M544.0 81.4h-5.6M0 162.8h5.6M544.0 162.8h-5.6M0 244.2h5.6M544.0 244.2h-5.6M0 325.6h5.6M544.0 325.6h-5.6" stroke="#1c1c1c" stroke-width="1.7" fill="none"/><rect x="0" y="0" width="544.0" height="407.0" fill="none" stroke="#1c1c1c" stroke-width="2.1"/></g>
<text transform="translate(833.5 1860.6) scale(1.035 1)" font-family="Liberation Sans, Arial, Helvetica, sans-serif" font-size="40.5" text-anchor="end" fill="#222222" stroke="#222222" stroke-width="0.5">-90</text>
<text transform="translate(833.5 1942.0) scale(1.035 1)" font-family="Liberation Sans, Arial, Helvetica, sans-serif" font-size="40.5" text-anchor="end" fill="#222222" stroke="#222222" stroke-width="0.5">-60</text>
<text transform="translate(833.5 2023.4) scale(1.035 1)" font-family="Liberation Sans, Arial, Helvetica, sans-serif" font-size="40.5" text-anchor="end" fill="#222222" stroke="#222222" stroke-width="0.5">-30</text>
<text transform="translate(833.5 2104.8) scale(1.035 1)" font-family="Liberation Sans, Arial, Helvetica, sans-serif" font-size="40.5" text-anchor="end" fill="#222222" stroke="#222222" stroke-width="0.5">0</text>
<text transform="translate(833.5 2186.2) scale(1.035 1)" font-family="Liberation Sans, Arial, Helvetica, sans-serif" font-size="40.5" text-anchor="end" fill="#222222" stroke="#222222" stroke-width="0.5">30</text>
<text transform="translate(833.5 2267.6) scale(1.035 1)" font-family="Liberation Sans, Arial, Helvetica, sans-serif" font-size="40.5" text-anchor="end" fill="#222222" stroke="#222222" stroke-width="0.5">60</text>
<text transform="translate(873.7 2306.6) scale(1.035 1)" font-family="Liberation Sans, Arial, Helvetica, sans-serif" font-size="40.5" text-anchor="middle" fill="#222222" stroke="#222222" stroke-width="0.5">J</text>
<text transform="translate(919.0 2306.6) scale(1.035 1)" font-family="Liberation Sans, Arial, Helvetica, sans-serif" font-size="40.5" text-anchor="middle" fill="#222222" stroke="#222222" stroke-width="0.5">F</text>
<text transform="translate(964.3 2306.6) scale(1.035 1)" font-family="Liberation Sans, Arial, Helvetica, sans-serif" font-size="40.5" text-anchor="middle" fill="#222222" stroke="#222222" stroke-width="0.5">M</text>
<text transform="translate(1009.7 2306.6) scale(1.035 1)" font-family="Liberation Sans, Arial, Helvetica, sans-serif" font-size="40.5" text-anchor="middle" fill="#222222" stroke="#222222" stroke-width="0.5">A</text>
<text transform="translate(1055.0 2306.6) scale(1.035 1)" font-family="Liberation Sans, Arial, Helvetica, sans-serif" font-size="40.5" text-anchor="middle" fill="#222222" stroke="#222222" stroke-width="0.5">M</text>
<text transform="translate(1100.3 2306.6) scale(1.035 1)" font-family="Liberation Sans, Arial, Helvetica, sans-serif" font-size="40.5" text-anchor="middle" fill="#222222" stroke="#222222" stroke-width="0.5">J</text>
<text transform="translate(1145.7 2306.6) scale(1.035 1)" font-family="Liberation Sans, Arial, Helvetica, sans-serif" font-size="40.5" text-anchor="middle" fill="#222222" stroke="#222222" stroke-width="0.5">J</text>
<text transform="translate(1191.0 2306.6) scale(1.035 1)" font-family="Liberation Sans, Arial, Helvetica, sans-serif" font-size="40.5" text-anchor="middle" fill="#222222" stroke="#222222" stroke-width="0.5">A</text>
<text transform="translate(1236.3 2306.6) scale(1.035 1)" font-family="Liberation Sans, Arial, Helvetica, sans-serif" font-size="40.5" text-anchor="middle" fill="#222222" stroke="#222222" stroke-width="0.5">S</text>
<text transform="translate(1281.7 2306.6) scale(1.035 1)" font-family="Liberation Sans, Arial, Helvetica, sans-serif" font-size="40.5" text-anchor="middle" fill="#222222" stroke="#222222" stroke-width="0.5">O</text>
<text transform="translate(1327.0 2306.6) scale(1.035 1)" font-family="Liberation Sans, Arial, Helvetica, sans-serif" font-size="40.5" text-anchor="middle" fill="#222222" stroke="#222222" stroke-width="0.5">N</text>
<text transform="translate(1372.3 2306.6) scale(1.035 1)" font-family="Liberation Sans, Arial, Helvetica, sans-serif" font-size="40.5" text-anchor="middle" fill="#222222" stroke="#222222" stroke-width="0.5">D</text>
<g transform="translate(1566.1 1845.6)"><g shape-rendering="crispEdges"><rect x="0.00" y="0.00" width="544.60" height="27.73" fill="#fefeb8"/><rect x="0.00" y="27.13" width="544.60" height="27.73" fill="#fefeb8"/><rect x="0.00" y="54.27" width="272.60" height="27.73" fill="#fefeb8"/><rect x="272.00" y="54.27" width="45.93" height="27.73" fill="#fefab3"/><rect x="317.33" y="54.27" width="45.93" height="27.73" fill="#fef6ae"/><rect x="362.67" y="54.27" width="45.93" height="27.73" fill="#fefab3"/><rect x="408.00" y="54.27" width="136.60" height="27.73" fill="#fefeb8"/><rect x="0.00" y="81.40" width="544.60" height="27.73" fill="#fefeb8"/><rect x="0.00" y="108.53" width="544.60" height="27.73" fill="#fefeb8"/><rect x="0.00" y="135.67" width="91.27" height="27.73" fill="#fefeb8"/><rect x="90.67" y="135.67" width="45.93" height="27.73" fill="#fefab3"/><rect x="136.00" y="135.67" width="227.27" height="27.73" fill="#fefeb8"/><rect x="362.67" y="135.67" width="136.60" height="27.73" fill="#fef6ae"/><rect x="498.67" y="135.67" width="45.93" height="27.73" fill="#fefeb8"/><rect x="0.00" y="162.80" width="181.93" height="27.73" fill="#fefeb8"/><rect x="181.33" y="162.80" width="45.93" height="27.73" fill="#fefab3"/><rect x="226.67" y="162.80" width="45.93" height="27.73" fill="#fefeb8"/><rect x="272.00" y="162.80" width="45.93" height="27.73" fill="#fefab3"/><rect x="317.33" y="162.80" width="227.27" height="27.73" fill="#fefeb8"/><rect x="0.00" y="189.93" width="181.93" height="27.73" fill="#fefeb8"/><rect x="181.33" y="189.93" width="45.93" height="27.73" fill="#feefa4"/><rect x="226.67" y="189.93" width="45.93" height="27.73" fill="#fedb8b"/><rect x="272.00" y="189.93" width="45.93" height="27.73" fill="#fed687"/><rect x="317.33" y="189.93" width="45.93" height="27.73" fill="#fedb8b"/><rect x="362.67" y="189.93" width="45.93" height="27.73" fill="#feefa4"/><rect x="408.00" y="189.93" width="136.60" height="27.73" fill="#fefeb8"/><rect x="0.00" y="217.07" width="45.93" height="27.73" fill="#fef6ae"/><rect x="45.33" y="217.07" width="91.27" height="27.73" fill="#fee495"/><rect x="136.00" y="217.07" width="45.93" height="27.73" fill="#fee090"/><rect x="181.33" y="217.07" width="45.93" height="27.73" fill="#fee495"/><rect x="226.67" y="217.07" width="136.60" height="27.73" fill="#feefa4"/><rect x="362.67" y="217.07" width="45.93" height="27.73" fill="#fefab3"/><rect x="408.00" y="217.07" width="136.60" height="27.73" fill="#fefeb8"/><rect x="0.00" y="244.20" width="136.60" height="27.73" fill="#fee89a"/><rect x="136.00" y="244.20" width="91.27" height="27.73" fill="#fef6ae"/><rect x="226.67" y="244.20" width="45.93" height="27.73" fill="#fef3a9"/><rect x="272.00" y="244.20" width="45.93" height="27.73" fill="#fefab3"/><rect x="317.33" y="244.20" width="91.27" height="27.73" fill="#fee89a"/><rect x="408.00" y="244.20" width="45.93" height="27.73" fill="#feeb9f"/><rect x="453.33" y="244.20" width="91.27" height="27.73" fill="#fee495"/><rect x="0.00" y="271.33" width="45.93" height="27.73" fill="#fdc274"/><rect x="45.33" y="271.33" width="45.93" height="27.73" fill="#fedb8b"/><rect x="90.67" y="271.33" width="45.93" height="27.73" fill="#feefa4"/><rect x="136.00" y="271.33" width="181.93" height="27.73" fill="#fef6ae"/><rect x="317.33" y="271.33" width="45.93" height="27.73" fill="#fef3a9"/><rect x="362.67" y="271.33" width="45.93" height="27.73" fill="#feefa4"/><rect x="408.00" y="271.33" width="45.93" height="27.73" fill="#fed687"/><rect x="453.33" y="271.33" width="91.27" height="27.73" fill="#fecc7d"/><rect x="0.00" y="298.47" width="45.93" height="27.73" fill="#fee89a"/><rect x="45.33" y="298.47" width="91.27" height="27.73" fill="#fedb8b"/><rect x="136.00" y="298.47" width="136.60" height="27.73" fill="#fef3a9"/><rect x="272.00" y="298.47" width="45.93" height="27.73" fill="#fef6ae"/><rect x="317.33" y="298.47" width="45.93" height="27.73" fill="#fef3a9"/><rect x="362.67" y="298.47" width="45.93" height="27.73" fill="#feefa4"/><rect x="408.00" y="298.47" width="45.93" height="27.73" fill="#fefab3"/><rect x="453.33" y="298.47" width="45.93" height="27.73" fill="#feeb9f"/><rect x="498.67" y="298.47" width="45.93" height="27.73" fill="#feefa4"/><rect x="0.00" y="325.60" width="227.27" height="27.73" fill="#fefeb8"/><rect x="226.67" y="325.60" width="45.93" height="27.73" fill="#fefab3"/><rect x="272.00" y="325.60" width="181.93" height="27.73" fill="#fefeb8"/><rect x="453.33" y="325.60" width="45.93" height="27.73" fill="#fefab3"/><rect x="498.67" y="325.60" width="45.93" height="27.73" fill="#fefeb8"/><rect x="0.00" y="352.73" width="544.60" height="27.73" fill="#fefeb8"/><rect x="0.00" y="379.87" width="45.93" height="27.73" fill="#fefeb8"/><rect x="45.33" y="379.87" width="45.93" height="27.73" fill="#fef6ae"/><rect x="90.67" y="379.87" width="408.60" height="27.73" fill="#fefeb8"/><rect x="498.67" y="379.87" width="45.93" height="27.73" fill="#feefa4"/></g><g fill="#0d0d0d"><circle cx="22.7" cy="13.6" r="4.1"/><circle cx="68.0" cy="13.6" r="4.1"/><circle cx="113.3" cy="13.6" r="4.1"/><circle cx="158.7" cy="13.6" r="4.1"/><circle cx="204.0" cy="13.6" r="4.1"/><circle cx="249.3" cy="13.6" r="4.1"/><circle cx="294.7" cy="13.6" r="4.1"/><circle cx="340.0" cy="13.6" r="4.1"/><circle cx="385.3" cy="13.6" r="4.1"/><circle cx="430.7" cy="13.6" r="4.1"/><circle cx="476.0" cy="13.6" r="4.1"/><circle cx="521.3" cy="13.6" r="4.1"/><circle cx="68.0" cy="40.7" r="4.1"/><circle cx="113.3" cy="40.7" r="4.1"/><circle cx="158.7" cy="40.7" r="4.1"/><circle cx="204.0" cy="40.7" r="4.1"/><circle cx="249.3" cy="40.7" r="4.1"/><circle cx="294.7" cy="40.7" r="4.1"/><circle cx="340.0" cy="40.7" r="4.1"/><circle cx="385.3" cy="40.7" r="4.1"/><circle cx="430.7" cy="40.7" r="4.1"/><circle cx="476.0" cy="40.7" r="4.1"/><circle cx="521.3" cy="40.7" r="4.1"/><circle cx="22.7" cy="67.8" r="4.1"/><circle cx="68.0" cy="67.8" r="4.1"/><circle cx="113.3" cy="67.8" r="4.1"/><circle cx="158.7" cy="67.8" r="4.1"/><circle cx="204.0" cy="67.8" r="4.1"/><circle cx="249.3" cy="67.8" r="4.1"/><circle cx="521.3" cy="67.8" r="4.1"/><circle cx="22.7" cy="95.0" r="4.1"/><circle cx="113.3" cy="95.0" r="4.1"/><circle cx="158.7" cy="95.0" r="4.1"/><circle cx="204.0" cy="95.0" r="4.1"/><circle cx="249.3" cy="95.0" r="4.1"/><circle cx="294.7" cy="95.0" r="4.1"/><circle cx="340.0" cy="95.0" r="4.1"/><circle cx="430.7" cy="95.0" r="4.1"/><circle cx="476.0" cy="95.0" r="4.1"/><circle cx="521.3" cy="95.0" r="4.1"/><circle cx="22.7" cy="122.1" r="4.1"/><circle cx="68.0" cy="122.1" r="4.1"/><circle cx="113.3" cy="122.1" r="4.1"/><circle cx="158.7" cy="122.1" r="4.1"/><circle cx="204.0" cy="122.1" r="4.1"/><circle cx="249.3" cy="122.1" r="4.1"/><circle cx="294.7" cy="122.1" r="4.1"/><circle cx="340.0" cy="122.1" r="4.1"/><circle cx="430.7" cy="122.1" r="4.1"/><circle cx="476.0" cy="122.1" r="4.1"/><circle cx="521.3" cy="122.1" r="4.1"/><circle cx="68.0" cy="149.2" r="4.1"/><circle cx="158.7" cy="149.2" r="4.1"/><circle cx="204.0" cy="149.2" r="4.1"/><circle cx="249.3" cy="149.2" r="4.1"/><circle cx="294.7" cy="149.2" r="4.1"/><circle cx="340.0" cy="149.2" r="4.1"/><circle cx="385.3" cy="149.2" r="4.1"/><circle cx="430.7" cy="149.2" r="4.1"/><circle cx="476.0" cy="149.2" r="4.1"/><circle cx="521.3" cy="149.2" r="4.1"/><circle cx="68.0" cy="176.4" r="4.1"/><circle cx="113.3" cy="176.4" r="4.1"/><circle cx="158.7" cy="176.4" r="4.1"/><circle cx="204.0" cy="176.4" r="4.1"/><circle cx="249.3" cy="176.4" r="4.1"/><circle cx="476.0" cy="176.4" r="4.1"/><circle cx="521.3" cy="176.4" r="4.1"/><circle cx="430.7" cy="230.6" r="4.1"/><circle cx="476.0" cy="230.6" r="4.1"/><circle cx="204.0" cy="257.8" r="4.1"/><circle cx="68.0" cy="339.2" r="4.1"/><circle cx="113.3" cy="339.2" r="4.1"/><circle cx="158.7" cy="339.2" r="4.1"/><circle cx="204.0" cy="339.2" r="4.1"/><circle cx="249.3" cy="339.2" r="4.1"/><circle cx="294.7" cy="339.2" r="4.1"/><circle cx="340.0" cy="339.2" r="4.1"/><circle cx="385.3" cy="339.2" r="4.1"/><circle cx="521.3" cy="339.2" r="4.1"/><circle cx="22.7" cy="366.3" r="4.1"/><circle cx="158.7" cy="366.3" r="4.1"/><circle cx="204.0" cy="366.3" r="4.1"/><circle cx="249.3" cy="366.3" r="4.1"/><circle cx="294.7" cy="366.3" r="4.1"/><circle cx="340.0" cy="366.3" r="4.1"/><circle cx="385.3" cy="366.3" r="4.1"/><circle cx="430.7" cy="366.3" r="4.1"/><circle cx="476.0" cy="366.3" r="4.1"/><circle cx="521.3" cy="366.3" r="4.1"/><circle cx="22.7" cy="393.4" r="4.1"/><circle cx="68.0" cy="393.4" r="4.1"/><circle cx="113.3" cy="393.4" r="4.1"/><circle cx="158.7" cy="393.4" r="4.1"/><circle cx="204.0" cy="393.4" r="4.1"/><circle cx="249.3" cy="393.4" r="4.1"/><circle cx="340.0" cy="393.4" r="4.1"/><circle cx="430.7" cy="393.4" r="4.1"/><circle cx="476.0" cy="393.4" r="4.1"/></g><path d="M22.7 0v5.6M22.7 407.0v-5.6M68.0 0v5.6M68.0 407.0v-5.6M113.3 0v5.6M113.3 407.0v-5.6M158.7 0v5.6M158.7 407.0v-5.6M204.0 0v5.6M204.0 407.0v-5.6M249.3 0v5.6M249.3 407.0v-5.6M294.7 0v5.6M294.7 407.0v-5.6M340.0 0v5.6M340.0 407.0v-5.6M385.3 0v5.6M385.3 407.0v-5.6M430.7 0v5.6M430.7 407.0v-5.6M476.0 0v5.6M476.0 407.0v-5.6M521.3 0v5.6M521.3 407.0v-5.6M0 81.4h5.6M544.0 81.4h-5.6M0 162.8h5.6M544.0 162.8h-5.6M0 244.2h5.6M544.0 244.2h-5.6M0 325.6h5.6M544.0 325.6h-5.6" stroke="#1c1c1c" stroke-width="1.7" fill="none"/><rect x="0" y="0" width="544.0" height="407.0" fill="none" stroke="#1c1c1c" stroke-width="2.1"/></g>
<text transform="translate(1548.6 1860.6) scale(1.035 1)" font-family="Liberation Sans, Arial, Helvetica, sans-serif" font-size="40.5" text-anchor="end" fill="#222222" stroke="#222222" stroke-width="0.5">-90</text>
<text transform="translate(1548.6 1942.0) scale(1.035 1)" font-family="Liberation Sans, Arial, Helvetica, sans-serif" font-size="40.5" text-anchor="end" fill="#222222" stroke="#222222" stroke-width="0.5">-60</text>
<text transform="translate(1548.6 2023.4) scale(1.035 1)" font-family="Liberation Sans, Arial, Helvetica, sans-serif" font-size="40.5" text-anchor="end" fill="#222222" stroke="#222222" stroke-width="0.5">-30</text>
<text transform="translate(1548.6 2104.8) scale(1.035 1)" font-family="Liberation Sans, Arial, Helvetica, sans-serif" font-size="40.5" text-anchor="end" fill="#222222" stroke="#222222" stroke-width="0.5">0</text>
<text transform="translate(1548.6 2186.2) scale(1.035 1)" font-family="Liberation Sans, Arial, Helvetica, sans-serif" font-size="40.5" text-anchor="end" fill="#222222" stroke="#222222" stroke-width="0.5">30</text>
<text transform="translate(1548.6 2267.6) scale(1.035 1)" font-family="Liberation Sans, Arial, Helvetica, sans-serif" font-size="40.5" text-anchor="end" fill="#222222" stroke="#222222" stroke-width="0.5">60</text>
<text transform="translate(1588.8 2306.6) scale(1.035 1)" font-family="Liberation Sans, Arial, Helvetica, sans-serif" font-size="40.5" text-anchor="middle" fill="#222222" stroke="#222222" stroke-width="0.5">J</text>
<text transform="translate(1634.1 2306.6) scale(1.035 1)" font-family="Liberation Sans, Arial, Helvetica, sans-serif" font-size="40.5" text-anchor="middle" fill="#222222" stroke="#222222" stroke-width="0.5">F</text>
<text transform="translate(1679.4 2306.6) scale(1.035 1)" font-family="Liberation Sans, Arial, Helvetica, sans-serif" font-size="40.5" text-anchor="middle" fill="#222222" stroke="#222222" stroke-width="0.5">M</text>
<text transform="translate(1724.8 2306.6) scale(1.035 1)" font-family="Liberation Sans, Arial, Helvetica, sans-serif" font-size="40.5" text-anchor="middle" fill="#222222" stroke="#222222" stroke-width="0.5">A</text>
<text transform="translate(1770.1 2306.6) scale(1.035 1)" font-family="Liberation Sans, Arial, Helvetica, sans-serif" font-size="40.5" text-anchor="middle" fill="#222222" stroke="#222222" stroke-width="0.5">M</text>
<text transform="translate(1815.4 2306.6) scale(1.035 1)" font-family="Liberation Sans, Arial, Helvetica, sans-serif" font-size="40.5" text-anchor="middle" fill="#222222" stroke="#222222" stroke-width="0.5">J</text>
<text transform="translate(1860.8 2306.6) scale(1.035 1)" font-family="Liberation Sans, Arial, Helvetica, sans-serif" font-size="40.5" text-anchor="middle" fill="#222222" stroke="#222222" stroke-width="0.5">J</text>
<text transform="translate(1906.1 2306.6) scale(1.035 1)" font-family="Liberation Sans, Arial, Helvetica, sans-serif" font-size="40.5" text-anchor="middle" fill="#222222" stroke="#222222" stroke-width="0.5">A</text>
<text transform="translate(1951.4 2306.6) scale(1.035 1)" font-family="Liberation Sans, Arial, Helvetica, sans-serif" font-size="40.5" text-anchor="middle" fill="#222222" stroke="#222222" stroke-width="0.5">S</text>
<text transform="translate(1996.8 2306.6) scale(1.035 1)" font-family="Liberation Sans, Arial, Helvetica, sans-serif" font-size="40.5" text-anchor="middle" fill="#222222" stroke="#222222" stroke-width="0.5">O</text>
<text transform="translate(2042.1 2306.6) scale(1.035 1)" font-family="Liberation Sans, Arial, Helvetica, sans-serif" font-size="40.5" text-anchor="middle" fill="#222222" stroke="#222222" stroke-width="0.5">N</text>
<text transform="translate(2087.4 2306.6) scale(1.035 1)" font-family="Liberation Sans, Arial, Helvetica, sans-serif" font-size="40.5" text-anchor="middle" fill="#222222" stroke="#222222" stroke-width="0.5">D</text>
<text transform="translate(291.1 52.2) scale(1.19 1)" font-family="Liberation Serif, Times New Roman, serif" font-size="46.5" text-anchor="start" fill="#000" stroke="#000" stroke-width="0.5">Δ</text>
<text transform="translate(332.6 52.2) scale(1.15 1)" font-family="Liberation Serif, Times New Roman, serif" font-size="50" text-anchor="start" fill="#000" stroke="#000" stroke-width="0.5" font-style="italic">σ</text>
<text transform="translate(377.0 52.2) scale(0.965 1)" font-family="Liberation Sans, Arial, Helvetica, sans-serif" font-size="44.5" text-anchor="start" fill="#000" stroke="#000" stroke-width="0.5">(NBP</text>
<text transform="translate(481.0 30.4) scale(1.0476 1)" font-family="Liberation Sans, Arial, Helvetica, sans-serif" font-size="34" text-anchor="start" fill="#000" stroke="#000" stroke-width="0.9">SM</text>
<text transform="translate(532.0 52.2) scale(0.965 1)" font-family="Liberation Sans, Arial, Helvetica, sans-serif" font-size="44.5" text-anchor="start" fill="#000" stroke="#000" stroke-width="0.5">)</text>
<text transform="translate(306.3 645.2) scale(1.19 1)" font-family="Liberation Serif, Times New Roman, serif" font-size="46.5" text-anchor="start" fill="#000" stroke="#000" stroke-width="0.5">Δ</text>
<text transform="translate(347.8 645.2) scale(1.15 1)" font-family="Liberation Serif, Times New Roman, serif" font-size="50" text-anchor="start" fill="#000" stroke="#000" stroke-width="0.5" font-style="italic">σ</text>
<text transform="translate(392.2 645.2) scale(0.965 1)" font-family="Liberation Sans, Arial, Helvetica, sans-serif" font-size="44.5" text-anchor="start" fill="#000" stroke="#000" stroke-width="0.5">(NBP</text>
<text transform="translate(496.5 623.4) scale(1.0282 1)" font-family="Liberation Sans, Arial, Helvetica, sans-serif" font-size="34" text-anchor="start" fill="#000" stroke="#000" stroke-width="0.9">T</text>
<text transform="translate(516.8 645.2) scale(0.965 1)" font-family="Liberation Sans, Arial, Helvetica, sans-serif" font-size="44.5" text-anchor="start" fill="#000" stroke="#000" stroke-width="0.5">)</text>
<text transform="translate(282.2 1239.1) scale(1.19 1)" font-family="Liberation Serif, Times New Roman, serif" font-size="46.5" text-anchor="start" fill="#000" stroke="#000" stroke-width="0.5">Δ</text>
<text transform="translate(323.7 1239.1) scale(1.15 1)" font-family="Liberation Serif, Times New Roman, serif" font-size="50" text-anchor="start" fill="#000" stroke="#000" stroke-width="0.5" font-style="italic">σ</text>
<text transform="translate(368.1 1239.1) scale(0.965 1)" font-family="Liberation Sans, Arial, Helvetica, sans-serif" font-size="44.5" text-anchor="start" fill="#000" stroke="#000" stroke-width="0.5">(NBP</text>
<text transform="translate(471.3 1217.3) scale(1.01365 1)" font-family="Liberation Sans, Arial, Helvetica, sans-serif" font-size="34" text-anchor="start" fill="#000" stroke="#000" stroke-width="0.9">VPD</text>
<text transform="translate(539.8 1239.1) scale(0.965 1)" font-family="Liberation Sans, Arial, Helvetica, sans-serif" font-size="44.5" text-anchor="start" fill="#000" stroke="#000" stroke-width="0.5">)</text>
<text transform="translate(306.3 1832.6) scale(1.19 1)" font-family="Liberation Serif, Times New Roman, serif" font-size="46.5" text-anchor="start" fill="#000" stroke="#000" stroke-width="0.5">Δ</text>
<text transform="translate(347.8 1832.6) scale(1.15 1)" font-family="Liberation Serif, Times New Roman, serif" font-size="50" text-anchor="start" fill="#000" stroke="#000" stroke-width="0.5" font-style="italic">σ</text>
<text transform="translate(392.2 1832.6) scale(0.965 1)" font-family="Liberation Sans, Arial, Helvetica, sans-serif" font-size="44.5" text-anchor="start" fill="#000" stroke="#000" stroke-width="0.5">(NBP</text>
<text transform="translate(495.4 1810.8) scale(1.0427499999999998 1)" font-family="Liberation Sans, Arial, Helvetica, sans-serif" font-size="34" text-anchor="start" fill="#000" stroke="#000" stroke-width="0.9">R</text>
<text transform="translate(517.7 1832.6) scale(0.965 1)" font-family="Liberation Sans, Arial, Helvetica, sans-serif" font-size="44.5" text-anchor="start" fill="#000" stroke="#000" stroke-width="0.5">)</text>
<text transform="translate(954.5 52.2) scale(1.028 1)" font-family="Liberation Sans, Arial, Helvetica, sans-serif" font-size="43.8" text-anchor="start" fill="#000" stroke="#000" stroke-width="0.5">due to</text>
<text transform="translate(1112.2 52.2) scale(1.19 1)" font-family="Liberation Serif, Times New Roman, serif" font-size="46.5" text-anchor="start" fill="#000" stroke="#000" stroke-width="0.5">Δ</text>
<text transform="translate(1155.0 52.2) scale(1.15 1)" font-family="Liberation Serif, Times New Roman, serif" font-size="50" text-anchor="start" fill="#000" stroke="#000" stroke-width="0.5" font-style="italic">σ</text>
<text transform="translate(1200.0 52.2) scale(0.965 1)" font-family="Liberation Sans, Arial, Helvetica, sans-serif" font-size="44.5" text-anchor="start" fill="#000" stroke="#000" stroke-width="0.5">(SM)</text>
<text transform="translate(975.0 645.2) scale(1.028 1)" font-family="Liberation Sans, Arial, Helvetica, sans-serif" font-size="43.8" text-anchor="start" fill="#000" stroke="#000" stroke-width="0.5">due to</text>
<text transform="translate(1132.7 645.2) scale(1.19 1)" font-family="Liberation Serif, Times New Roman, serif" font-size="46.5" text-anchor="start" fill="#000" stroke="#000" stroke-width="0.5">Δ</text>
<text transform="translate(1175.5 645.2) scale(1.15 1)" font-family="Liberation Serif, Times New Roman, serif" font-size="50" text-anchor="start" fill="#000" stroke="#000" stroke-width="0.5" font-style="italic">σ</text>
<text transform="translate(1220.5 645.2) scale(0.965 1)" font-family="Liberation Sans, Arial, Helvetica, sans-serif" font-size="44.5" text-anchor="start" fill="#000" stroke="#000" stroke-width="0.5">(T)</text>
<text transform="translate(944.0 1239.1) scale(1.028 1)" font-family="Liberation Sans, Arial, Helvetica, sans-serif" font-size="43.8" text-anchor="start" fill="#000" stroke="#000" stroke-width="0.5">due to</text>
<text transform="translate(1101.7 1239.1) scale(1.19 1)" font-family="Liberation Serif, Times New Roman, serif" font-size="46.5" text-anchor="start" fill="#000" stroke="#000" stroke-width="0.5">Δ</text>
<text transform="translate(1144.5 1239.1) scale(1.15 1)" font-family="Liberation Serif, Times New Roman, serif" font-size="50" text-anchor="start" fill="#000" stroke="#000" stroke-width="0.5" font-style="italic">σ</text>
<text transform="translate(1189.5 1239.1) scale(0.965 1)" font-family="Liberation Sans, Arial, Helvetica, sans-serif" font-size="44.5" text-anchor="start" fill="#000" stroke="#000" stroke-width="0.5">(VPD)</text>
<text transform="translate(972.8 1832.6) scale(1.028 1)" font-family="Liberation Sans, Arial, Helvetica, sans-serif" font-size="43.8" text-anchor="start" fill="#000" stroke="#000" stroke-width="0.5">due to</text>
<text transform="translate(1130.5 1832.6) scale(1.19 1)" font-family="Liberation Serif, Times New Roman, serif" font-size="46.5" text-anchor="start" fill="#000" stroke="#000" stroke-width="0.5">Δ</text>
<text transform="translate(1173.3 1832.6) scale(1.15 1)" font-family="Liberation Serif, Times New Roman, serif" font-size="50" text-anchor="start" fill="#000" stroke="#000" stroke-width="0.5" font-style="italic">σ</text>
<text transform="translate(1218.3 1832.6) scale(0.965 1)" font-family="Liberation Sans, Arial, Helvetica, sans-serif" font-size="44.5" text-anchor="start" fill="#000" stroke="#000" stroke-width="0.5">(R)</text>
<text transform="translate(1721.0 645.2) scale(1.028 1)" font-family="Liberation Sans, Arial, Helvetica, sans-serif" font-size="43.8" text-anchor="start" fill="#000" stroke="#000" stroke-width="0.5">due to</text>
<text transform="translate(1860.6 645.2) scale(1.19 1)" font-family="Liberation Serif, Times New Roman, serif" font-size="46.5" text-anchor="start" fill="#000" stroke="#000" stroke-width="0.5">Δ</text>
<text transform="translate(1909.7 645.2) scale(1.0 1)" font-family="Liberation Serif, Times New Roman, serif" font-size="46" text-anchor="start" fill="#000" stroke="#000" stroke-width="0.5" font-style="italic">β</text>
<text transform="translate(1934.0 623.4) scale(1.06 1)" font-family="Liberation Sans, Arial, Helvetica, sans-serif" font-size="34" text-anchor="start" fill="#000" stroke="#000" stroke-width="0.5">T</text>
<text transform="translate(1697.0 1239.1) scale(1.028 1)" font-family="Liberation Sans, Arial, Helvetica, sans-serif" font-size="43.8" text-anchor="start" fill="#000" stroke="#000" stroke-width="0.5">due to</text>
<text transform="translate(1835.9 1239.1) scale(1.19 1)" font-family="Liberation Serif, Times New Roman, serif" font-size="46.5" text-anchor="start" fill="#000" stroke="#000" stroke-width="0.5">Δ</text>
<text transform="translate(1885.5 1239.1) scale(1.0 1)" font-family="Liberation Serif, Times New Roman, serif" font-size="46" text-anchor="start" fill="#000" stroke="#000" stroke-width="0.5" font-style="italic">β</text>
<text transform="translate(1909.7 1217.3) scale(1.06 1)" font-family="Liberation Sans, Arial, Helvetica, sans-serif" font-size="34" text-anchor="start" fill="#000" stroke="#000" stroke-width="0.5">VPD</text>
<text transform="translate(1719.5 1832.6) scale(1.028 1)" font-family="Liberation Sans, Arial, Helvetica, sans-serif" font-size="43.8" text-anchor="start" fill="#000" stroke="#000" stroke-width="0.5">due to</text>
<text transform="translate(1858.5 1832.6) scale(1.19 1)" font-family="Liberation Serif, Times New Roman, serif" font-size="46.5" text-anchor="start" fill="#000" stroke="#000" stroke-width="0.5">Δ</text>
<text transform="translate(1907.6 1832.6) scale(1.0 1)" font-family="Liberation Serif, Times New Roman, serif" font-size="46" text-anchor="start" fill="#000" stroke="#000" stroke-width="0.5" font-style="italic">β</text>
<text transform="translate(1933.5 1810.8) scale(1.06 1)" font-family="Liberation Sans, Arial, Helvetica, sans-serif" font-size="34" text-anchor="start" fill="#000" stroke="#000" stroke-width="0.5">R</text>
<rect x="1559.0" y="445.0" width="545.0" height="27.2" fill="url(#cb)" stroke="#222222" stroke-width="1.6"/>
<path d="M1695.2 445.0v5.5M1831.5 445.0v5.5M1967.8 445.0v5.5" stroke="#222222" stroke-width="1.5" fill="none"/>
<text transform="translate(1556.8 421.2) scale(0.95 1)" font-family="Liberation Sans, Arial, Helvetica, sans-serif" font-size="34.5" text-anchor="middle" fill="#222222" stroke="#222222" stroke-width="0.5">-1</text>
<text transform="translate(1695.2 421.2) scale(1.06 1)" font-family="Liberation Sans, Arial, Helvetica, sans-serif" font-size="34.5" text-anchor="middle" fill="#222222" stroke="#222222" stroke-width="0.5">-0.5</text>
<text transform="translate(1831.5 421.2) scale(1.06 1)" font-family="Liberation Sans, Arial, Helvetica, sans-serif" font-size="34.5" text-anchor="middle" fill="#222222" stroke="#222222" stroke-width="0.5">0</text>
<text transform="translate(1967.8 421.2) scale(1.06 1)" font-family="Liberation Sans, Arial, Helvetica, sans-serif" font-size="34.5" text-anchor="middle" fill="#222222" stroke="#222222" stroke-width="0.5">0.5</text>
<text transform="translate(2104.0 421.2) scale(1.06 1)" font-family="Liberation Sans, Arial, Helvetica, sans-serif" font-size="34.5" text-anchor="middle" fill="#222222" stroke="#222222" stroke-width="0.5">1</text>
<text transform="translate(1670.3 378.5) scale(1.19 1)" font-family="Liberation Serif, Times New Roman, serif" font-size="46.5" text-anchor="start" fill="#000" stroke="#000" stroke-width="0.5">Δ</text>
<text transform="translate(1711.8 378.5) scale(1.15 1)" font-family="Liberation Serif, Times New Roman, serif" font-size="50" text-anchor="start" fill="#000" stroke="#000" stroke-width="0.5" font-style="italic">σ</text>
<text transform="translate(1756.3 377.0) scale(1.02 1)" font-family="Liberation Sans, Arial, Helvetica, sans-serif" font-size="35" text-anchor="start" fill="#1a1a1a" stroke="#1a1a1a" stroke-width="0.3" font-weight="bold">(normalized)</text></svg>
</body></html>
